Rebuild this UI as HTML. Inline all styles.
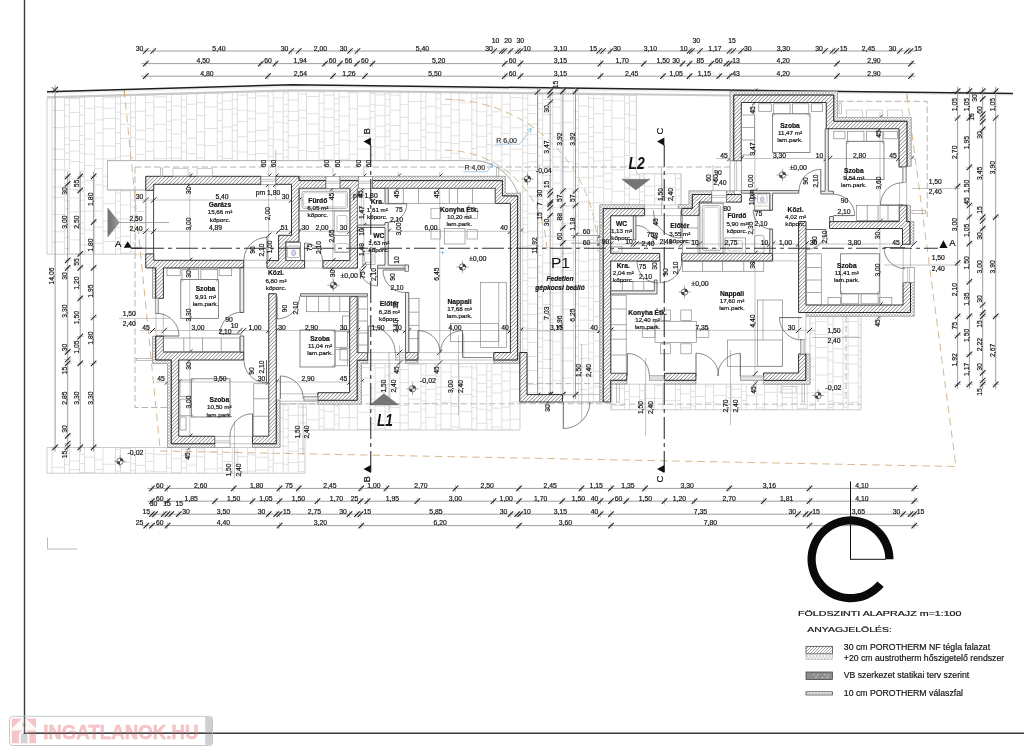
<!DOCTYPE html>
<html><head><meta charset="utf-8"><title>Földszinti alaprajz</title>
<style>html,body{margin:0;padding:0;background:#fff;}body{width:1024px;height:756px;overflow:hidden;}svg{display:block;font-family:"Liberation Sans",sans-serif;will-change:transform;opacity:0.999;}</style></head><body>
<svg width="1024" height="756" viewBox="0 0 1024 756">
<rect width="1024" height="756" fill="#fff"/>
<defs><clipPath id="pv"><path d="M292.5 90.95 L47 97.95 L47 160.6 L47 254.2 L107.5 254.2 L145.75 254.2 L145.75 190 L107.5 190 L107.5 160.6 L472.5 160.6 L476.82 160.8 L481.1 161.38 L485.31 162.36 L489.41 163.71 L493.38 165.43 L497.17 167.51 L500.75 169.92 L504.11 172.64 L507.2 175.66 L510 178.95 L512.5 182.48 L514.66 186.22 L516.47 190.14 L517.92 194.21 L520.4 194 L520.4 352.5 L527 352.5 L527 394.6 L562.4 394.6 L562.4 402 L600 402 L600 205 L681.25 205 L681.25 173.75 L636.25 173.75 L636.25 160.6 L636.25 95.12 Z M861 316.25 L810 316.25 L810 384.2 L611 384.2 L611 409.8 L861 409.8 L861 384.2 Z M305 404 L280 404 L280 430 L280 447.5 L47 447.5 L47 473.25 L305 473.25 L305 447.5 L305 430 L361.25 430 L520 430 L520 363.6 L361.25 363.6 L361.25 404 Z"/></clipPath>
<clipPath id="hc"><path d="M261 176.3 L153.75 176.3 L145.75 176.3 L145.75 184.3 L145.75 190.3 L153.75 190.3 L153.75 184.3 L261 184.3 Z M326 188.3 L326 180.6 L299 180.6 L299 176.3 L275.75 176.3 L275.75 184.3 L291.5 184.3 L291.5 235.3 L285.8 235.3 L278.6 235.3 L278.6 242 L278.6 260.6 L267 260.6 L267 268.1 L304.6 268.1 L304.6 260.6 L285.8 260.6 L285.8 242 L291.5 242 L299 242 L299 235.3 L299 188.3 Z M155.7 298.3 L158.6 298.3 L163.4 298.3 L163.4 267.9 L243.75 267.9 L243.75 260.3 L153.75 260.3 L153.75 253.9 L145.75 253.9 L145.75 260.3 L145.75 267.9 L153.75 267.9 L155.7 267.9 Z M155.7 352 L155.7 360 L163.4 360 L171.25 360 L171.25 436.25 L171.25 443.75 L178.75 443.75 L215 443.75 L215 436.25 L178.75 436.25 L178.75 360 L243.75 360 L243.75 352 L163.4 352 L163.4 336.2 L155.7 336.2 Z M268.75 436.25 L252.5 436.25 L252.5 443.75 L268.75 443.75 L276.25 443.75 L276.25 436.25 L276.25 293.75 L268.75 293.75 Z M317.8 400.3 L349.6 400.3 L357.2 400.3 L357.2 392.7 L357.2 360.2 L367.7 360.2 L367.7 352.6 L357.2 352.6 L357.2 296.25 L349.6 296.25 L349.6 392.7 L317.8 392.7 L317.8 396.5 Z M349.9 188.3 L349.9 260.6 L322.9 260.6 L322.9 268.1 L349.9 268.1 L357.4 268.1 L357.4 260.6 L357.4 188.3 L358.4 188.3 L358.4 180.6 L339.8 180.6 L339.8 188.3 Z M517.6 195.9 L510.4 195.9 L502.4 195.9 L502.4 188.3 L502.4 180.6 L372.3 180.6 L372.3 188.3 L495.3 188.3 L495.3 195.9 L495.3 203.4 L502.4 203.4 L510.4 203.4 L510.4 352.5 L493.75 352.5 L493.75 360 L510.4 360 L517.6 360 L517.6 352.5 L517.6 203.4 Z M644.6 208.6 L610.7 208.6 L603.2 208.6 L603.2 215.75 L603.2 402 L610.7 402 L610.7 380.3 L626.8 380.3 L626.8 373.3 L610.7 373.3 L610.7 261 L659.7 261 L659.7 253.4 L610.7 253.4 L610.7 215.75 L644.6 215.75 Z M418 360 L418 352.5 L405.5 352.5 L405.5 360 Z M664.5 375.8 L664.5 380.2 L664.5 380.3 L695.9 380.3 L695.9 373.3 L664.5 373.3 Z M519.8 394.6 L519.8 402 L527 402 L562.4 402 L562.4 394.6 L527 394.6 L527 352.5 L519.8 352.5 Z M907 121.25 L899 121.25 L833.75 121.25 L833.75 102.5 L833.75 95 L826.25 95 L741.3 95 L733.75 95 L733.75 102.5 L733.75 161 L741.3 161 L741.3 102.5 L826.25 102.5 L826.25 121.25 L826.25 128.75 L833.75 128.75 L899 128.75 L899 167 L902.6 167 L906.6 167 L907 167 L907 128.75 Z M692.3 202.1 L692.3 208.4 L681.7 208.4 L681.7 215.5 L692.3 215.5 L699.2 215.5 L699.2 208.4 L699.2 202.1 L711.8 202.1 L711.8 194.5 L699.2 194.5 L692.3 194.5 Z M741.3 202.1 L741.3 194.5 L726.3 194.5 L726.3 202.1 Z M902.5 228.5 L902.5 244.2 L910 244.2 L910 228.5 L910 221.6 L906.8 221.6 L906.8 205.2 L899.3 205.2 L899.3 221.6 L829.6 221.6 L829.6 228.5 L899.3 228.5 Z M772.6 261 L772.6 253.4 L681.7 253.4 L681.7 261 Z M910.5 282.5 L903 282.5 L903 305 L806 305 L806 221.6 L798.6 221.6 L798.6 305 L798.6 312.5 L806 312.5 L903 312.5 L910.5 312.5 L910.5 305 Z M800.6 354 L798.6 354 L798.6 373 L763.6 373 L763.6 376 L763.6 380.4 L798.6 380.4 L805.8 380.4 L805.8 373 L805.8 354 L805 354 Z"/></clipPath>
<clipPath id="ic"><path d="M519.8 363.2 L519.8 352.5 L520.5 352.5 L520.5 195.9 L520.5 193.3 L517.6 193.3 L505.3 193.3 L505.3 180.6 L505.3 176.3 L502.4 176.3 L372.3 176.3 L372.3 180.6 L502.4 180.6 L502.4 188.3 L502.4 193.3 L502.4 195.9 L505.3 195.9 L510.4 195.9 L517.6 195.9 L517.6 203.4 L517.6 352.5 L517.6 360 L510.4 360 L493.75 360 L493.75 363.2 L517.6 363.2 Z M358.4 180.6 L358.4 176.3 L339.8 176.3 L339.8 180.6 Z M326 176.3 L299 176.3 L299 180.6 L326 180.6 Z M153.75 267.9 L152.5 267.9 L152.5 298.3 L155.2 298.3 L155.7 298.3 L155.7 267.9 Z M603.2 215.75 L603.2 208.6 L610.7 208.6 L644.6 208.6 L644.6 204.8 L603.2 204.8 L599.8 204.8 L599.8 208.6 L599.8 402 L603.2 402 Z M171.25 360 L167.5 360 L163.4 360 L155.7 360 L155.7 352 L155.7 336.2 L152.5 336.2 L152.5 360 L152.5 363.5 L155.7 363.5 L167.5 363.5 L167.5 443.75 L167.5 447.5 L171.25 447.5 L215 447.5 L215 443.75 L178.75 443.75 L171.25 443.75 L171.25 436.25 L171.25 363.5 Z M418 363.2 L418 360 L405.5 360 L405.5 363.2 Z M317.8 401 L317.8 404.1 L357.2 404.1 L361.4 404.1 L361.4 400.3 L361.4 363.3 L367.7 363.3 L367.7 360.2 L361.4 360.2 L357.2 360.2 L357.2 363.3 L357.2 392.7 L357.2 400.3 L349.6 400.3 L317.8 400.3 Z M280 400 L276.25 400 L276.25 436.25 L276.25 443.75 L268.75 443.75 L252.5 443.75 L252.5 447.5 L276.25 447.5 L280 447.5 L280 443.75 Z M907 128.75 L907 166.25 L911.25 166.25 L911.25 121.25 L911.25 117.5 L907 117.5 L837.5 117.5 L837.5 95 L837.5 91.25 L833.75 91.25 L733.75 91.25 L730 91.25 L730 95 L730 161 L733.75 161 L733.75 102.5 L733.75 95 L741.3 95 L826.25 95 L833.75 95 L833.75 102.5 L833.75 117.5 L833.75 121.25 L837.5 121.25 L899 121.25 L907 121.25 Z M678.2 204.6 L678.2 208.4 L681.7 208.4 L688.9 208.4 L692.3 208.4 L692.3 204.6 L692.3 202.1 L692.3 194.5 L699.2 194.5 L711.8 194.5 L711.8 190.8 L692.3 190.8 L688.9 190.8 L688.9 194.5 L688.9 204.6 Z M734.4 190.8 L730 190.8 L726.3 190.8 L726.3 194.5 L734.4 194.5 Z M906.8 221.6 L910 221.6 L910 228.5 L910 244.2 L913.8 244.2 L913.8 221.6 L910.5 221.6 L910.5 205.2 L906.8 205.2 Z M903 312.5 L806 312.5 L806 316.25 L910.5 316.25 L914.25 316.25 L914.25 312.5 L914.25 282.5 L910.5 282.5 L910.5 305 L910.5 312.5 Z M805.8 354 L805.8 373 L805.8 380.4 L798.6 380.4 L763.6 380.4 L763.6 384.2 L805.8 384.2 L810 384.2 L810 380.4 L810 354 Z M695.9 384.1 L695.9 380.3 L664.5 380.3 L664.5 384.1 Z M626.8 380.3 L610.7 380.3 L610.7 384.1 L626.8 384.1 Z"/></clipPath>
<linearGradient id="gg" x1="0" x2="1" y1="0" y2="0"><stop offset="0" stop-color="#6e6e6e"/><stop offset="1" stop-color="#9c9c9c"/></linearGradient>
<pattern id="lh" width="3" height="3" patternUnits="userSpaceOnUse"><path d="M-1 4L4 -1M-1 1L1 -1M2 4L4 2" stroke="#444" stroke-width="0.5"/></pattern>
<pattern id="lx" width="3.3" height="5.4" patternUnits="userSpaceOnUse"><path d="M0 0L3.3 5.4M3.3 0L0 5.4" stroke="#999" stroke-width="0.45"/></pattern></defs>
<g id="paving">
<g clip-path="url(#pv)"><path d="M52 97.45V473.25M64.6 97.31V473.25M69.6 97.02V473.25M79.6 96.88V473.25M84.6 96.59V473.25M94.7 96.36V473.25M102.9 96V473.25M115.5 95.85V473.25M120.5 95.57V473.25M130.5 95.43V473.25M135.5 95.14V473.25M145.6 94.9V473.25M153.8 94.55V473.25M166.4 94.4V473.25M171.4 94.12V473.25M181.4 93.98V473.25M186.4 93.69V473.25M196.5 93.45V473.25M204.7 93.09V473.25M217.3 92.95V473.25M222.3 92.67V473.25M232.3 92.52V473.25M237.3 92.24V473.25M247.4 92V473.25M255.6 91.64V473.25M268.2 91.5V473.25M273.2 91.22V473.25M283.2 91.07V473.25M288.2 90.95V473.25M298.3 91.02V473.25M306.5 91.12V430M319.1 91.27V430M324.1 91.33V430M334.1 91.46V430M339.1 91.52V430M349.2 91.64V430M357.4 91.74V430M370 91.89V430M375 91.95V430M385 92.07V430M390 92.13V430M400.1 92.26V430M408.3 92.36V430M420.9 92.51V430M425.9 92.57V430M435.9 92.69V430M440.9 92.75V430M451 92.87V430M459.2 92.97V430M471.8 93.13V430M476.8 93.19V430M486.8 93.31V430M491.8 93.37V430M501.9 93.49V430M510.1 93.59V430M522.7 93.75V394.6M527.7 93.81V394.6M537.7 93.93V394.6M542.7 93.99V394.6M552.8 94.11V394.6M561 94.21V402M573.6 94.36V402M578.6 94.42V402M588.6 94.55V402M593.6 94.61V402M603.7 94.73V409.8M611.9 94.83V409.8M624.5 94.98V409.8M629.5 95.04V409.8M639.5 173.75V409.8M644.5 173.75V409.8M654.6 173.75V409.8M662.8 173.75V409.8M675.4 173.75V409.8M680.4 173.75V409.8M690.4 384.2V409.8M695.4 384.2V409.8M705.5 384.2V409.8M713.7 384.2V409.8M726.3 384.2V409.8M731.3 384.2V409.8M741.3 384.2V409.8M746.3 384.2V409.8M756.4 384.2V409.8M764.6 384.2V409.8M777.2 384.2V409.8M782.2 384.2V409.8M792.2 384.2V409.8M797.2 384.2V409.8M807.3 316.25V409.8M815.5 316.25V409.8M828.1 316.25V409.8M833.1 316.25V409.8M843.1 316.25V409.8M848.1 316.25V409.8M858.2 316.25V409.8" stroke="#dadada" stroke-width="0.9" fill="none"/><path d="M52 97.57h12.6M52 110.47h12.6M52 127.67h12.6M52 149.17h12.6M52 159.49h12.6M52 169.81h12.6M52 187.01h12.6M52 197.33h12.6M52 214.53h12.6M52 231.73h12.6M52 242.05h12.6M52 259.25h12.6M52 272.15h12.6M52 282.47h12.6M52 292.79h12.6M52 309.99h12.6M52 327.19h12.6M52 337.51h12.6M52 350.41h12.6M52 360.73h12.6M52 377.93h12.6M52 395.13h12.6M52 405.45h12.6M52 422.65h12.6M52 432.97h12.6M52 445.87h12.6M52 467.37h12.6M64.6 98.41h5M64.6 105.01h5M64.6 116.01h5M64.6 127.01h5M64.6 138.01h5M64.6 144.61h5M64.6 152.86h5M64.6 159.46h5M64.6 170.46h5M64.6 178.71h5M64.6 189.71h5M64.6 200.71h5M64.6 208.96h5M64.6 219.96h5M64.6 226.56h5M64.6 237.56h5M64.6 248.56h5M64.6 259.56h5M64.6 273.31h5M64.6 281.56h5M64.6 288.16h5M64.6 299.16h5M64.6 310.16h5M64.6 323.91h5M64.6 332.16h5M64.6 343.16h5M64.6 349.76h5M64.6 360.76h5M64.6 374.51h5M64.6 381.11h5M64.6 392.11h5M64.6 398.71h5M64.6 409.71h5M64.6 417.96h5M64.6 428.96h5M64.6 442.71h5M64.6 453.71h5M64.6 464.71h5M69.6 98.52h10M69.6 112.52h10M69.6 126.52h10M69.6 140.52h10M69.6 151.02h10M69.6 161.52h10M69.6 179.02h10M69.6 189.52h10M69.6 197.92h10M69.6 211.92h10M69.6 225.92h10M69.6 239.92h10M69.6 253.92h10M69.6 267.92h10M69.6 285.42h10M69.6 299.42h10M69.6 313.42h10M69.6 327.42h10M69.6 335.82h10M69.6 344.22h10M69.6 358.22h10M69.6 372.22h10M69.6 382.72h10M69.6 396.72h10M69.6 407.22h10M69.6 421.22h10M69.6 435.22h10M69.6 443.62h10M69.6 461.12h10M69.6 469.52h10M79.6 97.16h5M79.6 106.16h5M79.6 115.16h5M79.6 126.41h5M79.6 135.41h5M79.6 144.41h5M79.6 153.41h5M79.6 162.41h5M79.6 171.41h5M79.6 176.81h5M79.6 182.21h5M79.6 191.21h5M79.6 200.21h5M79.6 211.46h5M79.6 222.71h5M79.6 228.11h5M79.6 233.51h5M79.6 244.76h5M79.6 256.01h5M79.6 265.01h5M79.6 276.26h5M79.6 285.26h5M79.6 296.51h5M79.6 305.51h5M79.6 314.51h5M79.6 325.76h5M79.6 334.76h5M79.6 346.01h5M79.6 355.01h5M79.6 360.41h5M79.6 369.41h5M79.6 378.41h5M79.6 385.16h5M79.6 394.16h5M79.6 399.56h5M79.6 408.56h5M79.6 413.96h5M79.6 420.71h5M79.6 429.71h5M79.6 436.46h5M79.6 447.71h5M79.6 454.46h5M79.6 463.46h5M79.6 472.46h5M84.6 108.42h10.1M84.6 123.62h10.1M84.6 138.82h10.1M84.6 154.02h10.1M84.6 165.42h10.1M84.6 180.62h10.1M84.6 195.82h10.1M84.6 211.02h10.1M84.6 230.02h10.1M84.6 245.22h10.1M84.6 260.42h10.1M84.6 279.42h10.1M84.6 294.62h10.1M84.6 306.02h10.1M84.6 317.42h10.1M84.6 326.54h10.1M84.6 337.94h10.1M84.6 349.34h10.1M84.6 360.74h10.1M84.6 379.74h10.1M84.6 391.14h10.1M84.6 400.26h10.1M84.6 415.46h10.1M84.6 430.66h10.1M84.6 442.06h10.1M84.6 457.26h10.1M84.6 472.46h10.1M94.7 106.89h8.2M94.7 119.89h8.2M94.7 132.89h8.2M94.7 145.89h8.2M94.7 158.89h8.2M94.7 168.64h8.2M94.7 184.89h8.2M94.7 197.89h8.2M94.7 210.89h8.2M94.7 227.14h8.2M94.7 243.39h8.2M94.7 259.64h8.2M94.7 267.44h8.2M94.7 280.44h8.2M94.7 296.69h8.2M94.7 309.69h8.2M94.7 322.69h8.2M94.7 335.69h8.2M94.7 348.69h8.2M94.7 361.69h8.2M94.7 369.49h8.2M94.7 382.49h8.2M94.7 398.74h8.2M94.7 411.74h8.2M94.7 419.54h8.2M94.7 429.29h8.2M94.7 437.09h8.2M94.7 446.84h8.2M94.7 459.84h8.2M94.7 469.59h8.2M102.9 97.85h12.6M102.9 108.17h12.6M102.9 118.49h12.6M102.9 128.81h12.6M102.9 146.01h12.6M102.9 158.91h12.6M102.9 176.11h12.6M102.9 186.43h12.6M102.9 203.63h12.6M102.9 220.83h12.6M102.9 231.15h12.6M102.9 241.47h12.6M102.9 254.37h12.6M102.9 271.57h12.6M102.9 288.77h12.6M102.9 301.67h12.6M102.9 323.17h12.6M102.9 340.37h12.6M102.9 357.57h12.6M102.9 374.77h12.6M102.9 391.97h12.6M102.9 409.17h12.6M102.9 419.49h12.6M102.9 429.81h12.6M102.9 447.01h12.6M102.9 464.21h12.6M115.5 97.32h5M115.5 103.92h5M115.5 112.17h5M115.5 118.77h5M115.5 132.52h5M115.5 143.52h5M115.5 157.27h5M115.5 168.27h5M115.5 179.27h5M115.5 193.02h5M115.5 201.27h5M115.5 212.27h5M115.5 218.87h5M115.5 227.12h5M115.5 238.12h5M115.5 249.12h5M115.5 257.37h5M115.5 271.12h5M115.5 282.12h5M115.5 288.72h5M115.5 299.72h5M115.5 310.72h5M115.5 324.47h5M115.5 331.07h5M115.5 344.82h5M115.5 355.82h5M115.5 366.82h5M115.5 377.82h5M115.5 386.07h5M115.5 397.07h5M115.5 405.32h5M115.5 416.32h5M115.5 427.32h5M115.5 438.32h5M115.5 449.32h5M115.5 463.07h5M115.5 471.32h5M120.5 103.36h10M120.5 113.86h10M120.5 124.36h10M120.5 138.36h10M120.5 155.86h10M120.5 166.36h10M120.5 176.86h10M120.5 190.86h10M120.5 204.86h10M120.5 218.86h10M120.5 236.36h10M120.5 244.76h10M120.5 253.16h10M120.5 267.16h10M120.5 281.16h10M120.5 295.16h10M120.5 305.66h10M120.5 323.16h10M120.5 337.16h10M120.5 351.16h10M120.5 365.16h10M120.5 382.66h10M120.5 396.66h10M120.5 410.66h10M120.5 419.06h10M120.5 429.56h10M120.5 437.96h10M120.5 448.46h10M120.5 462.46h10M120.5 472.96h10M130.5 102.84h5M130.5 111.84h5M130.5 117.24h5M130.5 126.24h5M130.5 137.49h5M130.5 146.49h5M130.5 157.74h5M130.5 163.14h5M130.5 174.39h5M130.5 179.79h5M130.5 188.79h5M130.5 200.04h5M130.5 206.79h5M130.5 215.79h5M130.5 222.54h5M130.5 231.54h5M130.5 242.79h5M130.5 251.79h5M130.5 257.19h5M130.5 268.44h5M130.5 277.44h5M130.5 286.44h5M130.5 295.44h5M130.5 306.69h5M130.5 312.09h5M130.5 323.34h5M130.5 330.09h5M130.5 336.84h5M130.5 343.59h5M130.5 348.99h5M130.5 355.74h5M130.5 364.74h5M130.5 373.74h5M130.5 384.99h5M130.5 391.74h5M130.5 400.74h5M130.5 409.74h5M130.5 418.74h5M130.5 429.99h5M130.5 438.99h5M130.5 445.74h5M130.5 454.74h5M130.5 463.74h5M130.5 470.49h5M135.5 111.22h10.1M135.5 130.22h10.1M135.5 139.34h10.1M135.5 154.54h10.1M135.5 173.54h10.1M135.5 184.94h10.1M135.5 200.14h10.1M135.5 211.54h10.1M135.5 222.94h10.1M135.5 232.06h10.1M135.5 247.26h10.1M135.5 258.66h10.1M135.5 273.86h10.1M135.5 289.06h10.1M135.5 300.46h10.1M135.5 315.66h10.1M135.5 330.86h10.1M135.5 346.06h10.1M135.5 361.26h10.1M135.5 376.46h10.1M135.5 387.86h10.1M135.5 396.98h10.1M135.5 415.98h10.1M135.5 431.18h10.1M135.5 446.38h10.1M135.5 465.38h10.1M145.6 102.6h8.2M145.6 115.6h8.2M145.6 128.6h8.2M145.6 141.6h8.2M145.6 151.35h8.2M145.6 164.35h8.2M145.6 174.1h8.2M145.6 187.1h8.2M145.6 200.1h8.2M145.6 207.9h8.2M145.6 220.9h8.2M145.6 230.65h8.2M145.6 243.65h8.2M145.6 251.45h8.2M145.6 261.2h8.2M145.6 270.95h8.2M145.6 280.7h8.2M145.6 293.7h8.2M145.6 306.7h8.2M145.6 322.95h8.2M145.6 330.75h8.2M145.6 343.75h8.2M145.6 351.55h8.2M145.6 364.55h8.2M145.6 380.8h8.2M145.6 393.8h8.2M145.6 406.8h8.2M145.6 419.8h8.2M145.6 432.8h8.2M145.6 440.6h8.2M145.6 453.6h8.2M145.6 461.4h8.2M145.6 471.15h8.2M153.8 96.76h12.6M153.8 107.08h12.6M153.8 124.28h12.6M153.8 141.48h12.6M153.8 158.68h12.6M153.8 169h12.6M153.8 179.32h12.6M153.8 196.52h12.6M153.8 213.72h12.6M153.8 230.92h12.6M153.8 248.12h12.6M153.8 265.32h12.6M153.8 282.52h12.6M153.8 295.42h12.6M153.8 316.92h12.6M153.8 334.12h12.6M153.8 351.32h12.6M153.8 368.52h12.6M153.8 385.72h12.6M153.8 402.92h12.6M153.8 420.12h12.6M153.8 433.02h12.6M153.8 454.52h12.6M153.8 471.72h12.6M166.4 102.15h5M166.4 110.4h5M166.4 121.4h5M166.4 129.65h5M166.4 140.65h5M166.4 147.25h5M166.4 158.25h5M166.4 169.25h5M166.4 180.25h5M166.4 186.85h5M166.4 200.6h5M166.4 208.85h5M166.4 219.85h5M166.4 226.45h5M166.4 234.7h5M166.4 248.45h5M166.4 259.45h5M166.4 266.05h5M166.4 274.3h5M166.4 288.05h5M166.4 301.8h5M166.4 315.55h5M166.4 326.55h5M166.4 334.8h5M166.4 345.8h5M166.4 354.05h5M166.4 365.05h5M166.4 373.3h5M166.4 387.05h5M166.4 393.65h5M166.4 404.65h5M166.4 415.65h5M166.4 423.9h5M166.4 437.65h5M166.4 445.9h5M166.4 454.15h5M166.4 467.9h5M171.4 105.92h10M171.4 119.92h10M171.4 133.92h10M171.4 147.92h10M171.4 158.42h10M171.4 172.42h10M171.4 186.42h10M171.4 194.82h10M171.4 212.32h10M171.4 226.32h10M171.4 234.72h10M171.4 248.72h10M171.4 262.72h10M171.4 276.72h10M171.4 290.72h10M171.4 308.22h10M171.4 316.62h10M171.4 330.62h10M171.4 344.62h10M171.4 358.62h10M171.4 372.62h10M171.4 386.62h10M171.4 400.62h10M171.4 409.02h10M171.4 417.42h10M171.4 427.92h10M171.4 436.32h10M171.4 444.72h10M171.4 458.72h10M171.4 472.72h10M181.4 100.15h5M181.4 106.9h5M181.4 115.9h5M181.4 122.65h5M181.4 131.65h5M181.4 142.9h5M181.4 151.9h5M181.4 160.9h5M181.4 167.65h5M181.4 176.65h5M181.4 185.65h5M181.4 194.65h5M181.4 203.65h5M181.4 214.9h5M181.4 223.9h5M181.4 229.3h5M181.4 238.3h5M181.4 243.7h5M181.4 254.95h5M181.4 261.7h5M181.4 270.7h5M181.4 276.1h5M181.4 285.1h5M181.4 290.5h5M181.4 301.75h5M181.4 307.15h5M181.4 316.15h5M181.4 321.55h5M181.4 330.55h5M181.4 337.3h5M181.4 342.7h5M181.4 351.7h5M181.4 357.1h5M181.4 366.1h5M181.4 371.5h5M181.4 380.5h5M181.4 389.5h5M181.4 398.5h5M181.4 407.5h5M181.4 416.5h5M181.4 423.25h5M181.4 428.65h5M181.4 437.65h5M181.4 448.9h5M181.4 455.65h5M181.4 461.05h5M181.4 467.8h5M186.4 104.17h10.1M186.4 119.37h10.1M186.4 138.37h10.1M186.4 153.57h10.1M186.4 168.77h10.1M186.4 180.17h10.1M186.4 195.37h10.1M186.4 210.57h10.1M186.4 225.77h10.1M186.4 244.77h10.1M186.4 256.17h10.1M186.4 271.37h10.1M186.4 286.57h10.1M186.4 295.69h10.1M186.4 310.89h10.1M186.4 320.01h10.1M186.4 329.13h10.1M186.4 338.25h10.1M186.4 357.25h10.1M186.4 372.45h10.1M186.4 387.65h10.1M186.4 399.05h10.1M186.4 414.25h10.1M186.4 429.45h10.1M186.4 440.85h10.1M186.4 456.05h10.1M186.4 465.17h10.1M196.5 102.65h8.2M196.5 115.65h8.2M196.5 131.9h8.2M196.5 144.9h8.2M196.5 157.9h8.2M196.5 170.9h8.2M196.5 183.9h8.2M196.5 196.9h8.2M196.5 213.15h8.2M196.5 222.9h8.2M196.5 232.65h8.2M196.5 245.65h8.2M196.5 255.4h8.2M196.5 271.65h8.2M196.5 287.9h8.2M196.5 304.15h8.2M196.5 313.9h8.2M196.5 326.9h8.2M196.5 339.9h8.2M196.5 347.7h8.2M196.5 357.45h8.2M196.5 365.25h8.2M196.5 373.05h8.2M196.5 389.3h8.2M196.5 405.55h8.2M196.5 418.55h8.2M196.5 431.55h8.2M196.5 441.3h8.2M196.5 449.1h8.2M196.5 456.9h8.2M196.5 473.15h8.2M204.7 106.97h12.6M204.7 128.47h12.6M204.7 145.67h12.6M204.7 162.87h12.6M204.7 175.77h12.6M204.7 197.27h12.6M204.7 214.47h12.6M204.7 224.79h12.6M204.7 241.99h12.6M204.7 254.89h12.6M204.7 267.79h12.6M204.7 284.99h12.6M204.7 302.19h12.6M204.7 312.51h12.6M204.7 329.71h12.6M204.7 346.91h12.6M204.7 364.11h12.6M204.7 381.31h12.6M204.7 398.51h12.6M204.7 411.41h12.6M204.7 421.73h12.6M204.7 438.93h12.6M204.7 451.83h12.6M204.7 469.03h12.6M217.3 103.01h5M217.3 109.61h5M217.3 120.61h5M217.3 131.61h5M217.3 142.61h5M217.3 156.36h5M217.3 164.61h5M217.3 172.86h5M217.3 183.86h5M217.3 190.46h5M217.3 197.06h5M217.3 208.06h5M217.3 214.66h5M217.3 222.91h5M217.3 233.91h5M217.3 244.91h5M217.3 251.51h5M217.3 262.51h5M217.3 269.11h5M217.3 280.11h5M217.3 291.11h5M217.3 304.86h5M217.3 313.11h5M217.3 319.71h5M217.3 330.71h5M217.3 341.71h5M217.3 349.96h5M217.3 363.71h5M217.3 377.46h5M217.3 388.46h5M217.3 399.46h5M217.3 410.46h5M217.3 424.21h5M217.3 435.21h5M217.3 443.46h5M217.3 454.46h5M217.3 468.21h5M222.3 101.01h10M222.3 109.41h10M222.3 126.91h10M222.3 140.91h10M222.3 158.41h10M222.3 172.41h10M222.3 189.91h10M222.3 207.41h10M222.3 221.41h10M222.3 231.91h10M222.3 245.91h10M222.3 259.91h10M222.3 273.91h10M222.3 282.31h10M222.3 299.81h10M222.3 313.81h10M222.3 331.31h10M222.3 348.81h10M222.3 366.31h10M222.3 383.81h10M222.3 394.31h10M222.3 402.71h10M222.3 411.11h10M222.3 419.51h10M222.3 430.01h10M222.3 447.51h10M222.3 461.51h10M222.3 469.91h10M232.3 99.52h5M232.3 108.52h5M232.3 113.92h5M232.3 125.17h5M232.3 130.57h5M232.3 141.82h5M232.3 150.82h5M232.3 162.07h5M232.3 168.82h5M232.3 177.82h5M232.3 186.82h5M232.3 192.22h5M232.3 201.22h5M232.3 206.62h5M232.3 217.87h5M232.3 226.87h5M232.3 235.87h5M232.3 241.27h5M232.3 252.52h5M232.3 261.52h5M232.3 266.92h5M232.3 278.17h5M232.3 289.42h5M232.3 298.42h5M232.3 307.42h5M232.3 312.82h5M232.3 321.82h5M232.3 328.57h5M232.3 339.82h5M232.3 346.57h5M232.3 353.32h5M232.3 364.57h5M232.3 375.82h5M232.3 384.82h5M232.3 393.82h5M232.3 402.82h5M232.3 408.22h5M232.3 417.22h5M232.3 428.47h5M232.3 437.47h5M232.3 442.87h5M232.3 451.87h5M232.3 463.12h5M237.3 95.01h10.1M237.3 110.21h10.1M237.3 121.61h10.1M237.3 136.81h10.1M237.3 152.01h10.1M237.3 171.01h10.1M237.3 190.01h10.1M237.3 209.01h10.1M237.3 224.21h10.1M237.3 239.41h10.1M237.3 254.61h10.1M237.3 266.01h10.1M237.3 275.13h10.1M237.3 290.33h10.1M237.3 299.45h10.1M237.3 314.65h10.1M237.3 329.85h10.1M237.3 348.85h10.1M237.3 357.97h10.1M237.3 376.97h10.1M237.3 388.37h10.1M237.3 407.37h10.1M237.3 422.57h10.1M237.3 437.77h10.1M237.3 456.77h10.1M237.3 471.97h10.1M247.4 98.04h8.2M247.4 111.04h8.2M247.4 118.84h8.2M247.4 131.84h8.2M247.4 141.59h8.2M247.4 154.59h8.2M247.4 162.39h8.2M247.4 175.39h8.2M247.4 183.19h8.2M247.4 196.19h8.2M247.4 209.19h8.2M247.4 216.99h8.2M247.4 229.99h8.2M247.4 242.99h8.2M247.4 255.99h8.2M247.4 268.99h8.2M247.4 278.74h8.2M247.4 288.49h8.2M247.4 296.29h8.2M247.4 309.29h8.2M247.4 317.09h8.2M247.4 326.84h8.2M247.4 343.09h8.2M247.4 356.09h8.2M247.4 369.09h8.2M247.4 382.09h8.2M247.4 391.84h8.2M247.4 404.84h8.2M247.4 421.09h8.2M247.4 434.09h8.2M247.4 447.09h8.2M247.4 454.89h8.2M247.4 471.14h8.2M255.6 95.98h12.6M255.6 113.18h12.6M255.6 130.38h12.6M255.6 140.7h12.6M255.6 153.6h12.6M255.6 163.92h12.6M255.6 181.12h12.6M255.6 202.62h12.6M255.6 219.82h12.6M255.6 237.02h12.6M255.6 254.22h12.6M255.6 275.72h12.6M255.6 288.62h12.6M255.6 305.82h12.6M255.6 323.02h12.6M255.6 340.22h12.6M255.6 357.42h12.6M255.6 367.74h12.6M255.6 384.94h12.6M255.6 395.26h12.6M255.6 412.46h12.6M255.6 429.66h12.6M255.6 446.86h12.6M255.6 457.18h12.6M255.6 470.08h12.6M268.2 92.13h5M268.2 105.88h5M268.2 116.88h5M268.2 127.88h5M268.2 138.88h5M268.2 145.48h5M268.2 156.48h5M268.2 167.48h5M268.2 178.48h5M268.2 185.08h5M268.2 196.08h5M268.2 207.08h5M268.2 218.08h5M268.2 224.68h5M268.2 235.68h5M268.2 242.28h5M268.2 248.88h5M268.2 262.63h5M268.2 273.63h5M268.2 287.38h5M268.2 295.63h5M268.2 303.88h5M268.2 314.88h5M268.2 325.88h5M268.2 336.88h5M268.2 347.88h5M268.2 356.13h5M268.2 367.13h5M268.2 378.13h5M268.2 384.73h5M268.2 398.48h5M268.2 409.48h5M268.2 420.48h5M268.2 431.48h5M268.2 439.73h5M268.2 453.48h5M268.2 460.08h5M268.2 466.68h5M273.2 97.75h10M273.2 111.75h10M273.2 122.25h10M273.2 139.75h10M273.2 153.75h10M273.2 167.75h10M273.2 176.15h10M273.2 190.15h10M273.2 200.65h10M273.2 211.15h10M273.2 225.15h10M273.2 239.15h10M273.2 253.15h10M273.2 267.15h10M273.2 281.15h10M273.2 295.15h10M273.2 312.65h10M273.2 330.15h10M273.2 347.65h10M273.2 361.65h10M273.2 375.65h10M273.2 393.15h10M273.2 403.65h10M273.2 417.65h10M273.2 431.65h10M273.2 445.65h10M273.2 463.15h10M283.2 93.08h5M283.2 104.33h5M283.2 111.08h5M283.2 116.48h5M283.2 123.23h5M283.2 132.23h5M283.2 141.23h5M283.2 150.23h5M283.2 156.98h5M283.2 165.98h5M283.2 174.98h5M283.2 183.98h5M283.2 192.98h5M283.2 199.73h5M283.2 208.73h5M283.2 215.48h5M283.2 222.23h5M283.2 227.63h5M283.2 234.38h5M283.2 243.38h5M283.2 252.38h5M283.2 257.78h5M283.2 266.78h5M283.2 273.53h5M283.2 282.53h5M283.2 291.53h5M283.2 300.53h5M283.2 307.28h5M283.2 312.68h5M283.2 323.93h5M283.2 332.93h5M283.2 341.93h5M283.2 350.93h5M283.2 362.18h5M283.2 371.18h5M283.2 377.93h5M283.2 386.93h5M283.2 395.93h5M283.2 404.93h5M283.2 410.33h5M283.2 419.33h5M283.2 428.33h5M283.2 437.33h5M283.2 446.33h5M283.2 453.08h5M283.2 464.33h5M288.2 100.04h10.1M288.2 111.44h10.1M288.2 120.56h10.1M288.2 135.76h10.1M288.2 147.16h10.1M288.2 162.36h10.1M288.2 177.56h10.1M288.2 196.56h10.1M288.2 211.76h10.1M288.2 226.96h10.1M288.2 242.16h10.1M288.2 251.28h10.1M288.2 262.68h10.1M288.2 271.8h10.1M288.2 287h10.1M288.2 306h10.1M288.2 321.2h10.1M288.2 336.4h10.1M288.2 351.6h10.1M288.2 360.72h10.1M288.2 369.84h10.1M288.2 385.04h10.1M288.2 400.24h10.1M288.2 415.44h10.1M288.2 430.64h10.1M288.2 442.04h10.1M288.2 451.16h10.1M288.2 462.56h10.1M298.3 93.98h8.2M298.3 110.23h8.2M298.3 118.03h8.2M298.3 134.28h8.2M298.3 150.53h8.2M298.3 166.78h8.2M298.3 179.78h8.2M298.3 187.58h8.2M298.3 200.58h8.2M298.3 208.38h8.2M298.3 216.18h8.2M298.3 225.93h8.2M298.3 235.68h8.2M298.3 248.68h8.2M298.3 256.48h8.2M298.3 272.73h8.2M298.3 288.98h8.2M298.3 301.98h8.2M298.3 311.73h8.2M298.3 327.98h8.2M298.3 340.98h8.2M298.3 353.98h8.2M298.3 370.23h8.2M298.3 383.23h8.2M298.3 399.48h8.2M298.3 407.28h8.2M298.3 415.08h8.2M298.3 422.88h8.2M298.3 435.88h8.2M298.3 448.88h8.2M298.3 461.88h8.2M298.3 471.63h8.2M306.5 96.49h12.6M306.5 113.69h12.6M306.5 124.01h12.6M306.5 134.33h12.6M306.5 151.53h12.6M306.5 168.73h12.6M306.5 185.93h12.6M306.5 203.13h12.6M306.5 220.33h12.6M306.5 241.83h12.6M306.5 254.73h12.6M306.5 271.93h12.6M306.5 289.13h12.6M306.5 302.03h12.6M306.5 319.23h12.6M306.5 332.13h12.6M306.5 342.45h12.6M306.5 359.65h12.6M306.5 381.15h12.6M306.5 402.65h12.6M306.5 419.85h12.6M319.1 92.24h5M319.1 103.24h5M319.1 116.99h5M319.1 130.74h5M319.1 141.74h5M319.1 148.34h5M319.1 159.34h5M319.1 167.59h5M319.1 181.34h5M319.1 192.34h5M319.1 203.34h5M319.1 211.59h5M319.1 222.59h5M319.1 229.19h5M319.1 242.94h5M319.1 253.94h5M319.1 267.69h5M319.1 278.69h5M319.1 289.69h5M319.1 303.44h5M319.1 314.44h5M319.1 322.69h5M319.1 329.29h5M319.1 340.29h5M319.1 354.04h5M319.1 365.04h5M319.1 371.64h5M319.1 379.89h5M319.1 390.89h5M319.1 399.14h5M319.1 410.14h5M319.1 418.39h5M319.1 426.64h5M324.1 95.1h10M324.1 109.1h10M324.1 117.5h10M324.1 131.5h10M324.1 145.5h10M324.1 159.5h10M324.1 170h10M324.1 180.5h10M324.1 194.5h10M324.1 208.5h10M324.1 226h10M324.1 234.4h10M324.1 248.4h10M324.1 258.9h10M324.1 272.9h10M324.1 281.3h10M324.1 291.8h10M324.1 300.2h10M324.1 314.2h10M324.1 324.7h10M324.1 338.7h10M324.1 347.1h10M324.1 364.6h10M324.1 373h10M324.1 383.5h10M324.1 397.5h10M324.1 411.5h10M324.1 429h10M334.1 98.59h5M334.1 103.99h5M334.1 110.74h5M334.1 119.74h5M334.1 126.49h5M334.1 133.24h5M334.1 144.49h5M334.1 153.49h5M334.1 164.74h5M334.1 173.74h5M334.1 179.14h5M334.1 188.14h5M334.1 199.39h5M334.1 210.64h5M334.1 219.64h5M334.1 228.64h5M334.1 237.64h5M334.1 246.64h5M334.1 253.39h5M334.1 258.79h5M334.1 264.19h5M334.1 269.59h5M334.1 278.59h5M334.1 283.99h5M334.1 292.99h5M334.1 301.99h5M334.1 307.39h5M334.1 316.39h5M334.1 323.14h5M334.1 332.14h5M334.1 341.14h5M334.1 350.14h5M334.1 359.14h5M334.1 364.54h5M334.1 369.94h5M334.1 381.19h5M334.1 390.19h5M334.1 396.94h5M334.1 405.94h5M334.1 414.94h5M334.1 423.94h5M339.1 96.91h10.1M339.1 115.91h10.1M339.1 131.11h10.1M339.1 140.23h10.1M339.1 159.23h10.1M339.1 174.43h10.1M339.1 185.83h10.1M339.1 204.83h10.1M339.1 220.03h10.1M339.1 229.15h10.1M339.1 244.35h10.1M339.1 253.47h10.1M339.1 268.67h10.1M339.1 277.79h10.1M339.1 286.91h10.1M339.1 302.11h10.1M339.1 313.51h10.1M339.1 332.51h10.1M339.1 341.63h10.1M339.1 356.83h10.1M339.1 372.03h10.1M339.1 387.23h10.1M339.1 402.43h10.1M339.1 417.63h10.1M349.2 92.57h8.2M349.2 108.82h8.2M349.2 125.07h8.2M349.2 141.32h8.2M349.2 154.32h8.2M349.2 167.32h8.2M349.2 180.32h8.2M349.2 188.12h8.2M349.2 204.37h8.2M349.2 217.37h8.2M349.2 233.62h8.2M349.2 241.42h8.2M349.2 249.22h8.2M349.2 258.97h8.2M349.2 266.77h8.2M349.2 279.77h8.2M349.2 296.02h8.2M349.2 309.02h8.2M349.2 322.02h8.2M349.2 335.02h8.2M349.2 348.02h8.2M349.2 361.02h8.2M349.2 370.77h8.2M349.2 383.77h8.2M349.2 393.52h8.2M349.2 401.32h8.2M349.2 417.57h8.2M357.4 106.15h12.6M357.4 119.05h12.6M357.4 136.25h12.6M357.4 149.15h12.6M357.4 166.35h12.6M357.4 183.55h12.6M357.4 200.75h12.6M357.4 217.95h12.6M357.4 235.15h12.6M357.4 245.47h12.6M357.4 262.67h12.6M357.4 275.57h12.6M357.4 292.77h12.6M357.4 305.67h12.6M357.4 318.57h12.6M357.4 335.77h12.6M357.4 346.09h12.6M357.4 367.59h12.6M357.4 377.91h12.6M357.4 395.11h12.6M357.4 412.31h12.6M357.4 429.51h12.6M370 93.77h5M370 104.77h5M370 111.37h5M370 117.97h5M370 128.97h5M370 139.97h5M370 146.57h5M370 154.82h5M370 161.42h5M370 172.42h5M370 183.42h5M370 197.17h5M370 208.17h5M370 216.42h5M370 224.67h5M370 232.92h5M370 243.92h5M370 254.92h5M370 265.92h5M370 279.67h5M370 287.92h5M370 301.67h5M370 312.67h5M370 326.42h5M370 333.02h5M370 344.02h5M370 355.02h5M370 366.02h5M370 377.02h5M370 388.02h5M370 399.02h5M370 410.02h5M370 423.77h5M375 94.79h10M375 105.29h10M375 115.79h10M375 126.29h10M375 136.79h10M375 147.29h10M375 161.29h10M375 175.29h10M375 185.79h10M375 199.79h10M375 208.19h10M375 222.19h10M375 236.19h10M375 246.69h10M375 260.69h10M375 274.69h10M375 285.19h10M375 302.69h10M375 311.09h10M375 328.59h10M375 342.59h10M375 350.99h10M375 359.39h10M375 367.79h10M375 381.79h10M375 392.29h10M375 406.29h10M375 420.29h10M375 428.69h10M385 94.1h5M385 99.5h5M385 106.25h5M385 115.25h5M385 124.25h5M385 131h5M385 136.4h5M385 145.4h5M385 154.4h5M385 161.15h5M385 170.15h5M385 179.15h5M385 188.15h5M385 199.4h5M385 204.8h5M385 210.2h5M385 221.45h5M385 230.45h5M385 241.7h5M385 250.7h5M385 259.7h5M385 266.45h5M385 271.85h5M385 280.85h5M385 289.85h5M385 296.6h5M385 302h5M385 308.75h5M385 317.75h5M385 323.15h5M385 332.15h5M385 343.4h5M385 354.65h5M385 361.4h5M385 366.8h5M385 375.8h5M385 384.8h5M385 396.05h5M385 405.05h5M385 411.8h5M385 420.8h5M385 429.8h5M390 95.09h10.1M390 110.29h10.1M390 125.49h10.1M390 140.69h10.1M390 149.81h10.1M390 165.01h10.1M390 174.13h10.1M390 189.33h10.1M390 208.33h10.1M390 223.53h10.1M390 234.93h10.1M390 253.93h10.1M390 269.13h10.1M390 278.25h10.1M390 297.25h10.1M390 308.65h10.1M390 323.85h10.1M390 342.85h10.1M390 358.05h10.1M390 373.25h10.1M390 388.45h10.1M390 407.45h10.1M390 422.65h10.1M400.1 104.39h8.2M400.1 117.39h8.2M400.1 133.64h8.2M400.1 146.64h8.2M400.1 159.64h8.2M400.1 172.64h8.2M400.1 185.64h8.2M400.1 193.44h8.2M400.1 206.44h8.2M400.1 222.69h8.2M400.1 232.44h8.2M400.1 245.44h8.2M400.1 261.69h8.2M400.1 274.69h8.2M400.1 284.44h8.2M400.1 292.24h8.2M400.1 305.24h8.2M400.1 314.99h8.2M400.1 327.99h8.2M400.1 335.79h8.2M400.1 343.59h8.2M400.1 356.59h8.2M400.1 369.59h8.2M400.1 382.59h8.2M400.1 395.59h8.2M400.1 405.34h8.2M400.1 415.09h8.2M400.1 422.89h8.2M408.3 101.49h12.6M408.3 122.99h12.6M408.3 140.19h12.6M408.3 150.51h12.6M408.3 167.71h12.6M408.3 184.91h12.6M408.3 202.11h12.6M408.3 223.61h12.6M408.3 240.81h12.6M408.3 253.71h12.6M408.3 266.61h12.6M408.3 283.81h12.6M408.3 301.01h12.6M408.3 313.91h12.6M408.3 331.11h12.6M408.3 344.01h12.6M408.3 354.33h12.6M408.3 364.65h12.6M408.3 381.85h12.6M408.3 399.05h12.6M408.3 411.95h12.6M408.3 429.15h12.6M420.9 101.21h5M420.9 107.81h5M420.9 118.81h5M420.9 129.81h5M420.9 136.41h5M420.9 147.41h5M420.9 161.16h5M420.9 172.16h5M420.9 178.76h5M420.9 192.51h5M420.9 203.51h5M420.9 217.26h5M420.9 225.51h5M420.9 239.26h5M420.9 247.51h5M420.9 258.51h5M420.9 269.51h5M420.9 280.51h5M420.9 288.76h5M420.9 299.76h5M420.9 308.01h5M420.9 319.01h5M420.9 327.26h5M420.9 333.86h5M420.9 344.86h5M420.9 355.86h5M420.9 364.11h5M420.9 375.11h5M420.9 386.11h5M420.9 392.71h5M420.9 400.96h5M420.9 409.21h5M420.9 422.96h5M425.9 92.58h10M425.9 106.58h10M425.9 124.08h10M425.9 132.48h10M425.9 149.98h10M425.9 163.98h10M425.9 172.38h10M425.9 186.38h10M425.9 200.38h10M425.9 214.38h10M425.9 228.38h10M425.9 245.88h10M425.9 259.88h10M425.9 277.38h10M425.9 291.38h10M425.9 305.38h10M425.9 319.38h10M425.9 329.88h10M425.9 343.88h10M425.9 357.88h10M425.9 375.38h10M425.9 389.38h10M425.9 403.38h10M425.9 417.38h10M435.9 93.61h5M435.9 99.01h5M435.9 108.01h5M435.9 117.01h5M435.9 126.01h5M435.9 132.76h5M435.9 141.76h5M435.9 150.76h5M435.9 159.76h5M435.9 166.51h5M435.9 175.51h5M435.9 184.51h5M435.9 189.91h5M435.9 195.31h5M435.9 202.06h5M435.9 211.06h5M435.9 220.06h5M435.9 229.06h5M435.9 234.46h5M435.9 243.46h5M435.9 252.46h5M435.9 261.46h5M435.9 272.71h5M435.9 278.11h5M435.9 283.51h5M435.9 294.76h5M435.9 301.51h5M435.9 306.91h5M435.9 318.16h5M435.9 327.16h5M435.9 338.41h5M435.9 347.41h5M435.9 352.81h5M435.9 358.21h5M435.9 367.21h5M435.9 376.21h5M435.9 387.46h5M435.9 394.21h5M435.9 399.61h5M435.9 405.01h5M435.9 414.01h5M435.9 425.26h5M440.9 104.39h10.1M440.9 115.79h10.1M440.9 127.19h10.1M440.9 142.39h10.1M440.9 157.59h10.1M440.9 168.99h10.1M440.9 187.99h10.1M440.9 206.99h10.1M440.9 218.39h10.1M440.9 227.51h10.1M440.9 242.71h10.1M440.9 257.91h10.1M440.9 273.11h10.1M440.9 284.51h10.1M440.9 299.71h10.1M440.9 314.91h10.1M440.9 330.11h10.1M440.9 345.31h10.1M440.9 356.71h10.1M440.9 371.91h10.1M440.9 387.11h10.1M440.9 402.31h10.1M440.9 413.71h10.1M440.9 428.91h10.1M451 100.01h8.2M451 109.76h8.2M451 122.76h8.2M451 135.76h8.2M451 143.56h8.2M451 153.31h8.2M451 163.06h8.2M451 176.06h8.2M451 185.81h8.2M451 202.06h8.2M451 215.06h8.2M451 231.31h8.2M451 244.31h8.2M451 257.31h8.2M451 267.06h8.2M451 280.06h8.2M451 287.86h8.2M451 300.86h8.2M451 308.66h8.2M451 324.91h8.2M451 337.91h8.2M451 350.91h8.2M451 363.91h8.2M451 376.91h8.2M451 389.91h8.2M451 406.16h8.2M451 413.96h8.2M451 426.96h8.2M459.2 102.83h12.6M459.2 120.03h12.6M459.2 141.53h12.6M459.2 158.73h12.6M459.2 175.93h12.6M459.2 193.13h12.6M459.2 210.33h12.6M459.2 227.53h12.6M459.2 240.43h12.6M459.2 257.63h12.6M459.2 274.83h12.6M459.2 285.15h12.6M459.2 302.35h12.6M459.2 315.25h12.6M459.2 328.15h12.6M459.2 345.35h12.6M459.2 366.85h12.6M459.2 377.17h12.6M459.2 394.37h12.6M459.2 411.57h12.6M459.2 428.77h12.6M471.8 99.03h5M471.8 110.03h5M471.8 123.78h5M471.8 134.78h5M471.8 148.53h5M471.8 155.13h5M471.8 168.88h5M471.8 175.48h5M471.8 183.73h5M471.8 191.98h5M471.8 202.98h5M471.8 213.98h5M471.8 227.73h5M471.8 238.73h5M471.8 249.73h5M471.8 260.73h5M471.8 271.73h5M471.8 278.33h5M471.8 286.58h5M471.8 297.58h5M471.8 305.83h5M471.8 316.83h5M471.8 330.58h5M471.8 337.18h5M471.8 343.78h5M471.8 350.38h5M471.8 356.98h5M471.8 367.98h5M471.8 378.98h5M471.8 389.98h5M471.8 396.58h5M471.8 407.58h5M471.8 418.58h5M471.8 429.58h5M476.8 97.79h10M476.8 111.79h10M476.8 125.79h10M476.8 136.29h10M476.8 146.79h10M476.8 160.79h10M476.8 174.79h10M476.8 188.79h10M476.8 199.29h10M476.8 209.79h10M476.8 218.19h10M476.8 228.69h10M476.8 246.19h10M476.8 256.69h10M476.8 270.69h10M476.8 279.09h10M476.8 287.49h10M476.8 304.99h10M476.8 315.49h10M476.8 332.99h10M476.8 346.99h10M476.8 360.99h10M476.8 374.99h10M476.8 383.39h10M476.8 391.79h10M476.8 409.29h10M476.8 423.29h10M486.8 97.35h5M486.8 106.35h5M486.8 115.35h5M486.8 124.35h5M486.8 133.35h5M486.8 144.6h5M486.8 153.6h5M486.8 160.35h5M486.8 167.1h5M486.8 172.5h5M486.8 177.9h5M486.8 183.3h5M486.8 192.3h5M486.8 197.7h5M486.8 206.7h5M486.8 213.45h5M486.8 220.2h5M486.8 226.95h5M486.8 232.35h5M486.8 237.75h5M486.8 243.15h5M486.8 252.15h5M486.8 261.15h5M486.8 272.4h5M486.8 279.15h5M486.8 285.9h5M486.8 294.9h5M486.8 301.65h5M486.8 310.65h5M486.8 319.65h5M486.8 330.9h5M486.8 339.9h5M486.8 351.15h5M486.8 362.4h5M486.8 371.4h5M486.8 380.4h5M486.8 387.15h5M486.8 396.15h5M486.8 405.15h5M486.8 410.55h5M486.8 419.55h5M491.8 111.74h10.1M491.8 126.94h10.1M491.8 145.94h10.1M491.8 161.14h10.1M491.8 170.26h10.1M491.8 185.46h10.1M491.8 200.66h10.1M491.8 219.66h10.1M491.8 234.86h10.1M491.8 243.98h10.1M491.8 262.98h10.1M491.8 281.98h10.1M491.8 297.18h10.1M491.8 308.58h10.1M491.8 319.98h10.1M491.8 329.1h10.1M491.8 344.3h10.1M491.8 355.7h10.1M491.8 374.7h10.1M491.8 383.82h10.1M491.8 392.94h10.1M491.8 408.14h10.1M491.8 427.14h10.1M501.9 104.26h8.2M501.9 117.26h8.2M501.9 133.51h8.2M501.9 141.31h8.2M501.9 154.31h8.2M501.9 170.56h8.2M501.9 183.56h8.2M501.9 199.81h8.2M501.9 212.81h8.2M501.9 229.06h8.2M501.9 242.06h8.2M501.9 255.06h8.2M501.9 268.06h8.2M501.9 284.31h8.2M501.9 294.06h8.2M501.9 301.86h8.2M501.9 314.86h8.2M501.9 322.66h8.2M501.9 332.41h8.2M501.9 345.41h8.2M501.9 355.16h8.2M501.9 371.41h8.2M501.9 381.16h8.2M501.9 390.91h8.2M501.9 407.16h8.2M501.9 420.16h8.2M501.9 429.91h8.2M510.1 97.65h12.6M510.1 110.55h12.6M510.1 127.75h12.6M510.1 149.25h12.6M510.1 170.75h12.6M510.1 192.25h12.6M510.1 209.45h12.6M510.1 226.65h12.6M510.1 243.85h12.6M510.1 261.05h12.6M510.1 282.55h12.6M510.1 292.87h12.6M510.1 303.19h12.6M510.1 320.39h12.6M510.1 341.89h12.6M510.1 354.79h12.6M510.1 371.99h12.6M510.1 389.19h12.6M510.1 402.09h12.6M510.1 419.29h12.6M522.7 98.44h5M522.7 109.44h5M522.7 117.69h5M522.7 125.94h5M522.7 132.54h5M522.7 139.14h5M522.7 145.74h5M522.7 152.34h5M522.7 163.34h5M522.7 171.59h5M522.7 182.59h5M522.7 190.84h5M522.7 204.59h5M522.7 211.19h5M522.7 217.79h5M522.7 224.39h5M522.7 232.64h5M522.7 246.39h5M522.7 260.14h5M522.7 273.89h5M522.7 280.49h5M522.7 294.24h5M522.7 300.84h5M522.7 314.59h5M522.7 321.19h5M522.7 327.79h5M522.7 338.79h5M522.7 349.79h5M522.7 358.04h5M522.7 369.04h5M522.7 382.79h5M522.7 389.39h5M527.7 105.22h10M527.7 113.62h10M527.7 124.12h10M527.7 134.62h10M527.7 145.12h10M527.7 153.52h10M527.7 161.92h10M527.7 170.32h10M527.7 187.82h10M527.7 196.22h10M527.7 213.72h10M527.7 231.22h10M527.7 245.22h10M527.7 259.22h10M527.7 267.62h10M527.7 278.12h10M527.7 286.52h10M527.7 304.02h10M527.7 314.52h10M527.7 328.52h10M527.7 342.52h10M527.7 356.52h10M527.7 370.52h10M527.7 384.52h10M527.7 392.92h10M537.7 94.31h5M537.7 103.31h5M537.7 108.71h5M537.7 119.96h5M537.7 128.96h5M537.7 137.96h5M537.7 146.96h5M537.7 155.96h5M537.7 164.96h5M537.7 173.96h5M537.7 182.96h5M537.7 194.21h5M537.7 199.61h5M537.7 208.61h5M537.7 214.01h5M537.7 223.01h5M537.7 232.01h5M537.7 237.41h5M537.7 246.41h5M537.7 255.41h5M537.7 266.66h5M537.7 272.06h5M537.7 281.06h5M537.7 290.06h5M537.7 296.81h5M537.7 308.06h5M537.7 313.46h5M537.7 322.46h5M537.7 331.46h5M537.7 338.21h5M537.7 347.21h5M537.7 352.61h5M537.7 361.61h5M537.7 368.36h5M537.7 377.36h5M537.7 382.76h5M537.7 388.16h5M542.7 99.46h10.1M542.7 114.66h10.1M542.7 133.66h10.1M542.7 145.06h10.1M542.7 160.26h10.1M542.7 175.46h10.1M542.7 190.66h10.1M542.7 205.86h10.1M542.7 221.06h10.1M542.7 236.26h10.1M542.7 247.66h10.1M542.7 262.86h10.1M542.7 274.26h10.1M542.7 293.26h10.1M542.7 304.66h10.1M542.7 319.86h10.1M542.7 331.26h10.1M542.7 340.38h10.1M542.7 359.38h10.1M542.7 368.5h10.1M542.7 383.7h10.1M552.8 99.3h8.2M552.8 107.1h8.2M552.8 123.35h8.2M552.8 136.35h8.2M552.8 149.35h8.2M552.8 157.15h8.2M552.8 170.15h8.2M552.8 183.15h8.2M552.8 199.4h8.2M552.8 207.2h8.2M552.8 220.2h8.2M552.8 236.45h8.2M552.8 244.25h8.2M552.8 257.25h8.2M552.8 267h8.2M552.8 280h8.2M552.8 293h8.2M552.8 306h8.2M552.8 319h8.2M552.8 332h8.2M552.8 341.75h8.2M552.8 354.75h8.2M552.8 371h8.2M552.8 380.75h8.2M552.8 393.75h8.2M561 101.14h12.6M561 122.64h12.6M561 139.84h12.6M561 161.34h12.6M561 171.66h12.6M561 188.86h12.6M561 206.06h12.6M561 223.26h12.6M561 240.46h12.6M561 253.36h12.6M561 270.56h12.6M561 292.06h12.6M561 309.26h12.6M561 330.76h12.6M561 347.96h12.6M561 360.86h12.6M561 378.06h12.6M561 395.26h12.6M573.6 100.51h5M573.6 111.51h5M573.6 119.76h5M573.6 128.01h5M573.6 139.01h5M573.6 150.01h5M573.6 163.76h5M573.6 177.51h5M573.6 185.76h5M573.6 196.76h5M573.6 205.01h5M573.6 216.01h5M573.6 227.01h5M573.6 240.76h5M573.6 251.76h5M573.6 260.01h5M573.6 273.76h5M573.6 282.01h5M573.6 290.26h5M573.6 304.01h5M573.6 315.01h5M573.6 326.01h5M573.6 337.01h5M573.6 348.01h5M573.6 356.26h5M573.6 364.51h5M573.6 375.51h5M573.6 383.76h5M573.6 394.76h5M578.6 105.93h10M578.6 116.43h10M578.6 133.93h10M578.6 142.33h10M578.6 152.83h10M578.6 166.83h10M578.6 177.33h10M578.6 187.83h10M578.6 201.83h10M578.6 219.33h10M578.6 233.33h10M578.6 247.33h10M578.6 261.33h10M578.6 271.83h10M578.6 280.23h10M578.6 297.73h10M578.6 306.13h10M578.6 320.13h10M578.6 330.63h10M578.6 344.63h10M578.6 358.63h10M578.6 367.03h10M578.6 375.43h10M578.6 389.43h10M588.6 98.24h5M588.6 107.24h5M588.6 118.49h5M588.6 127.49h5M588.6 136.49h5M588.6 141.89h5M588.6 148.64h5M588.6 157.64h5M588.6 166.64h5M588.6 177.89h5M588.6 186.89h5M588.6 192.29h5M588.6 203.54h5M588.6 210.29h5M588.6 219.29h5M588.6 230.54h5M588.6 239.54h5M588.6 248.54h5M588.6 259.79h5M588.6 271.04h5M588.6 280.04h5M588.6 286.79h5M588.6 298.04h5M588.6 309.29h5M588.6 320.54h5M588.6 331.79h5M588.6 343.04h5M588.6 352.04h5M588.6 358.79h5M588.6 370.04h5M588.6 376.79h5M588.6 388.04h5M588.6 393.44h5M593.6 98.57h10.1M593.6 113.77h10.1M593.6 132.77h10.1M593.6 151.77h10.1M593.6 160.89h10.1M593.6 176.09h10.1M593.6 187.49h10.1M593.6 202.69h10.1M593.6 221.69h10.1M593.6 240.69h10.1M593.6 259.69h10.1M593.6 271.09h10.1M593.6 286.29h10.1M593.6 301.49h10.1M593.6 316.69h10.1M593.6 331.89h10.1M593.6 341.01h10.1M593.6 356.21h10.1M593.6 371.41h10.1M593.6 386.61h10.1M603.7 100.59h8.2M603.7 110.34h8.2M603.7 126.59h8.2M603.7 139.59h8.2M603.7 147.39h8.2M603.7 160.39h8.2M603.7 173.39h8.2M603.7 181.19h8.2M603.7 188.99h8.2M603.7 201.99h8.2M603.7 214.99h8.2M603.7 224.74h8.2M603.7 234.49h8.2M603.7 250.74h8.2M603.7 260.49h8.2M603.7 273.49h8.2M603.7 286.49h8.2M603.7 294.29h8.2M603.7 307.29h8.2M603.7 320.29h8.2M603.7 333.29h8.2M603.7 343.04h8.2M603.7 359.29h8.2M603.7 372.29h8.2M603.7 385.29h8.2M603.7 393.09h8.2M603.7 409.34h8.2M611.9 100.97h12.6M611.9 118.17h12.6M611.9 139.67h12.6M611.9 156.87h12.6M611.9 169.77h12.6M611.9 191.27h12.6M611.9 204.17h12.6M611.9 221.37h12.6M611.9 238.57h12.6M611.9 248.89h12.6M611.9 270.39h12.6M611.9 287.59h12.6M611.9 304.79h12.6M611.9 326.29h12.6M611.9 336.61h12.6M611.9 353.81h12.6M611.9 371.01h12.6M611.9 388.21h12.6M611.9 405.41h12.6M624.5 103.15h5M624.5 114.15h5M624.5 127.9h5M624.5 141.65h5M624.5 155.4h5M624.5 166.4h5M624.5 177.4h5M624.5 188.4h5M624.5 195h5M624.5 203.25h5M624.5 214.25h5M624.5 228h5M624.5 239h5M624.5 250h5M624.5 258.25h5M624.5 269.25h5M624.5 280.25h5M624.5 288.5h5M624.5 296.75h5M624.5 305h5M624.5 311.6h5M624.5 325.35h5M624.5 333.6h5M624.5 344.6h5M624.5 358.35h5M624.5 369.35h5M624.5 383.1h5M624.5 391.35h5M624.5 399.6h5M629.5 101.32h10M629.5 115.32h10M629.5 129.32h10M629.5 143.32h10M629.5 157.32h10M629.5 174.82h10M629.5 185.32h10M629.5 199.32h10M629.5 213.32h10M629.5 223.82h10M629.5 237.82h10M629.5 255.32h10M629.5 269.32h10M629.5 286.82h10M629.5 300.82h10M629.5 314.82h10M629.5 332.32h10M629.5 342.82h10M629.5 356.82h10M629.5 365.22h10M629.5 382.72h10M629.5 396.72h10M639.5 176.1h5M639.5 185.1h5M639.5 191.85h5M639.5 200.85h5M639.5 209.85h5M639.5 215.25h5M639.5 220.65h5M639.5 229.65h5M639.5 238.65h5M639.5 245.4h5M639.5 254.4h5M639.5 263.4h5M639.5 274.65h5M639.5 283.65h5M639.5 289.05h5M639.5 300.3h5M639.5 305.7h5M639.5 312.45h5M639.5 317.85h5M639.5 329.1h5M639.5 338.1h5M639.5 347.1h5M639.5 356.1h5M639.5 361.5h5M639.5 370.5h5M639.5 377.25h5M639.5 384h5M639.5 390.75h5M639.5 399.75h5M639.5 408.75h5M644.5 186.37h10.1M644.5 195.49h10.1M644.5 214.49h10.1M644.5 229.69h10.1M644.5 248.69h10.1M644.5 263.89h10.1M644.5 275.29h10.1M644.5 290.49h10.1M644.5 309.49h10.1M644.5 320.89h10.1M644.5 336.09h10.1M644.5 345.21h10.1M644.5 364.21h10.1M644.5 379.41h10.1M644.5 398.41h10.1M644.5 407.53h10.1M654.6 185.84h8.2M654.6 198.84h8.2M654.6 208.59h8.2M654.6 224.84h8.2M654.6 237.84h8.2M654.6 247.59h8.2M654.6 260.59h8.2M654.6 270.34h8.2M654.6 283.34h8.2M654.6 296.34h8.2M654.6 312.59h8.2M654.6 320.39h8.2M654.6 330.14h8.2M654.6 343.14h8.2M654.6 356.14h8.2M654.6 372.39h8.2M654.6 385.39h8.2M654.6 398.39h8.2M662.8 187.41h12.6M662.8 197.73h12.6M662.8 210.63h12.6M662.8 232.13h12.6M662.8 249.33h12.6M662.8 270.83h12.6M662.8 292.33h12.6M662.8 302.65h12.6M662.8 312.97h12.6M662.8 330.17h12.6M662.8 340.49h12.6M662.8 361.99h12.6M662.8 383.49h12.6M662.8 400.69h12.6M675.4 178.47h5M675.4 189.47h5M675.4 196.07h5M675.4 209.82h5M675.4 220.82h5M675.4 231.82h5M675.4 242.82h5M675.4 253.82h5M675.4 264.82h5M675.4 273.07h5M675.4 284.07h5M675.4 295.07h5M675.4 306.07h5M675.4 317.07h5M675.4 328.07h5M675.4 339.07h5M675.4 345.67h5M675.4 356.67h5M675.4 367.67h5M675.4 378.67h5M675.4 389.67h5M675.4 400.67h5M680.4 183.05h10M680.4 191.45h10M680.4 205.45h10M680.4 215.95h10M680.4 229.95h10M680.4 247.45h10M680.4 261.45h10M680.4 271.95h10M680.4 285.95h10M680.4 303.45h10M680.4 311.85h10M680.4 320.25h10M680.4 334.25h10M680.4 351.75h10M680.4 365.75h10M680.4 379.75h10M680.4 393.75h10M680.4 407.75h10M690.4 391.69h5M690.4 397.09h5M690.4 406.09h5M695.4 396.56h10.1M705.5 386.04h8.2M705.5 402.29h8.2M713.7 395.35h12.6M726.3 386.86h5M726.3 397.86h5M726.3 404.46h5M731.3 389.05h10M731.3 397.45h10M741.3 391.47h5M741.3 400.47h5M746.3 395.65h10.1M756.4 394.91h8.2M756.4 407.91h8.2M764.6 392.39h12.6M764.6 409.59h12.6M777.2 392.23h5M777.2 405.98h5M782.2 389.11h10M782.2 397.51h10M792.2 386.79h5M792.2 398.04h5M792.2 403.44h5M797.2 393.22h10.1M797.2 408.42h10.1M807.3 323.17h8.2M807.3 332.92h8.2M807.3 345.92h8.2M807.3 358.92h8.2M807.3 366.72h8.2M807.3 379.72h8.2M807.3 392.72h8.2M807.3 405.72h8.2M815.5 321.68h12.6M815.5 334.58h12.6M815.5 347.48h12.6M815.5 357.8h12.6M815.5 375h12.6M815.5 392.2h12.6M815.5 409.4h12.6M828.1 324.18h5M828.1 332.43h5M828.1 340.68h5M828.1 351.68h5M828.1 359.93h5M828.1 373.68h5M828.1 381.93h5M828.1 390.18h5M828.1 401.18h5M828.1 407.78h5M833.1 331.25h10M833.1 348.75h10M833.1 362.75h10M833.1 376.75h10M833.1 394.25h10M833.1 402.65h10M843.1 316.65h5M843.1 322.05h5M843.1 327.45h5M843.1 336.45h5M843.1 347.7h5M843.1 354.45h5M843.1 363.45h5M843.1 374.7h5M843.1 383.7h5M843.1 392.7h5M843.1 398.1h5M843.1 407.1h5M848.1 321.58h10.1M848.1 336.78h10.1M848.1 345.9h10.1M848.1 355.02h10.1M848.1 364.14h10.1M848.1 383.14h10.1M848.1 402.14h10.1M858.2 324.85h8.2M858.2 337.85h8.2M858.2 350.85h8.2M858.2 358.65h8.2M858.2 366.45h8.2M858.2 374.25h8.2M858.2 387.25h8.2M858.2 397h8.2" stroke="#dedede" stroke-width="0.9" fill="none"/></g>
<path d="M292.5 90.95 L47 97.95 L47 160.6 L47 254.2 L107.5 254.2 L145.75 254.2 L145.75 190 L107.5 190 L107.5 160.6 L472.5 160.6 L476.82 160.8 L481.1 161.38 L485.31 162.36 L489.41 163.71 L493.38 165.43 L497.17 167.51 L500.75 169.92 L504.11 172.64 L507.2 175.66 L510 178.95 L512.5 182.48 L514.66 186.22 L516.47 190.14 L517.92 194.21 L520.4 194 L520.4 352.5 L527 352.5 L527 394.6 L562.4 394.6 L562.4 402 L600 402 L600 205 L681.25 205 L681.25 173.75 L636.25 173.75 L636.25 160.6 L636.25 95.12 Z M861 316.25 L810 316.25 L810 384.2 L611 384.2 L611 409.8 L861 409.8 L861 384.2 Z M305 404 L280 404 L280 430 L280 447.5 L47 447.5 L47 473.25 L305 473.25 L305 447.5 L305 430 L361.25 430 L520 430 L520 363.6 L361.25 363.6 L361.25 404 Z" fill="none" stroke="#b9b9b9" stroke-width="0.7" />
</g>
<g id="site">
<path d="M47 97.15 L292.5 90.15 L731 95.48" fill="none" stroke="#c9c9c9" stroke-width="2" />
<path d="M47 93.35 L292.5 86.35 L1013 95.1" fill="none" stroke="#ececec" stroke-width="1.4" />
<path d="M107.5 190 L107.5 160.6 L472.5 160.6 L476.82 160.8 L481.1 161.38 L485.31 162.36 L489.41 163.71 L493.38 165.43 L497.17 167.51 L500.75 169.92 L504.11 172.64 L507.2 175.66 L510 178.95 L512.5 182.48 L514.66 186.22 L516.47 190.14 L517.92 194.21" fill="none" stroke="#b0b0b0" stroke-width="0.8" />
<line x1="107.5" y1="190" x2="145.75" y2="190" stroke="#b0b0b0" stroke-width="0.8" />
</g>
<g id="dash">
<line x1="135" y1="167" x2="735" y2="167" stroke="#b4b4b4" stroke-width="1" stroke-dasharray="6.5 3"/>
<path d="M135 167 L135 407.5 L170 407.5" fill="none" stroke="#b4b4b4" stroke-width="1" stroke-dasharray="6.5 3"/>
<line x1="280" y1="403.8" x2="520" y2="403.8" stroke="#b4b4b4" stroke-width="0.9" stroke-dasharray="6.5 3"/>
<line x1="527" y1="383.6" x2="600" y2="383.6" stroke="#b4b4b4" stroke-width="0.9" stroke-dasharray="6.5 3"/>
<line x1="520" y1="403.7" x2="610" y2="403.7" stroke="#b4b4b4" stroke-width="0.9" stroke-dasharray="6.5 3"/>
<line x1="610" y1="404.2" x2="861" y2="404.2" stroke="#b4b4b4" stroke-width="0.9" stroke-dasharray="6.5 3"/>
<line x1="846" y1="316" x2="846" y2="404" stroke="#b4b4b4" stroke-width="0.9" stroke-dasharray="6.5 3"/>
<path d="M837.5 101.3 L927.2 101.3 L927.2 217" fill="none" stroke="#b4b4b4" stroke-width="1" stroke-dasharray="6.5 3"/>
<line x1="735" y1="167" x2="735" y2="190" stroke="#b4b4b4" stroke-width="0.9" stroke-dasharray="6.5 3"/>
<path d="M124.2 90 L160.3 451 L956 466.5 L906.5 92.5" fill="none" stroke="#d8b78e" stroke-width="1" stroke-dasharray="7.5 5"/>
<line x1="124.3" y1="90.5" x2="124.3" y2="97" stroke="#e0a060" stroke-width="0.8" />
<line x1="907" y1="92.5" x2="907" y2="99" stroke="#e0a060" stroke-width="0.8" />
<path d="M445 99.3 L450.99 99.42 L456.98 99.77 L462.95 100.36 L468.89 101.18 L474.79 102.23 L480.65 103.52 L486.45 105.03 L492.19 106.77 L497.85 108.74 L503.44 110.92 L508.93 113.33 L514.32 115.94 L519.61 118.77 L524.79 121.8 L529.84 125.03 L534.75 128.46 L539.54 132.08 L544.17 135.89 L548.65 139.87 L552.98 144.02 L557.13 148.35 L561.11 152.83 L564.92 157.46 L568.54 162.25 L571.97 167.16 L575.2 172.21 L578.23 177.39 L581.06 182.68 L583.67 188.07 L586.08 193.56 L588.26 199.15 L590.23 204.81 L591.97 210.55 L593.48 216.35 L594.77 222.21 L595.82 228.11 L596.64 234.05 L597.23 240.02 L597.58 246.01 L597.7 252" fill="none" stroke="#d8b78e" stroke-width="1" stroke-dasharray="7.5 5"/>
<path d="M445 150.2 L450.33 150.34 L455.64 150.76 L460.93 151.45 L466.17 152.42 L471.35 153.67 L476.46 155.18 L481.48 156.96 L486.41 159 L491.22 161.3 L495.9 163.84 L500.44 166.62 L504.84 169.64 L509.06 172.89 L513.12 176.35 L516.98 180.02 L520.65 183.88 L524.11 187.94 L527.36 192.16 L530.38 196.56 L533.16 201.1 L535.7 205.78 L538 210.59 L540.04 215.52 L541.82 220.54 L543.33 225.65 L544.58 230.83 L545.55 236.07 L546.24 241.36 L546.66 246.67 L546.8 252" fill="none" stroke="#d8b78e" stroke-width="1" stroke-dasharray="7.5 5"/>
</g>
<g id="site2">
<path d="M47 91.75 L292.5 84.75 L1013 93.5" fill="none" stroke="#1e1e1e" stroke-width="1.5" />
<line x1="52" y1="87.2" x2="57.4" y2="92.8" stroke="#222" stroke-width="0.9" />
</g>
<g id="dims">
<line x1="141.25" y1="51" x2="915" y2="51" stroke="#8c8c8c" stroke-width="0.85" />
<line x1="145.75" y1="47.5" x2="145.75" y2="54.5" stroke="#aaa" stroke-width="0.6" />
<line x1="143" y1="53.75" x2="148.5" y2="48.25" stroke="#1c1c1c" stroke-width="1.05" />
<line x1="153.25" y1="47.5" x2="153.25" y2="54.5" stroke="#aaa" stroke-width="0.6" />
<line x1="150.5" y1="53.75" x2="156" y2="48.25" stroke="#1c1c1c" stroke-width="1.05" />
<line x1="291.25" y1="47.5" x2="291.25" y2="54.5" stroke="#aaa" stroke-width="0.6" />
<line x1="288.5" y1="53.75" x2="294" y2="48.25" stroke="#1c1c1c" stroke-width="1.05" />
<line x1="298.75" y1="47.5" x2="298.75" y2="54.5" stroke="#aaa" stroke-width="0.6" />
<line x1="296" y1="53.75" x2="301.5" y2="48.25" stroke="#1c1c1c" stroke-width="1.05" />
<line x1="350" y1="47.5" x2="350" y2="54.5" stroke="#aaa" stroke-width="0.6" />
<line x1="347.25" y1="53.75" x2="352.75" y2="48.25" stroke="#1c1c1c" stroke-width="1.05" />
<line x1="357.5" y1="47.5" x2="357.5" y2="54.5" stroke="#aaa" stroke-width="0.6" />
<line x1="354.75" y1="53.75" x2="360.25" y2="48.25" stroke="#1c1c1c" stroke-width="1.05" />
<line x1="494.25" y1="47.5" x2="494.25" y2="54.5" stroke="#aaa" stroke-width="0.6" />
<line x1="491.5" y1="53.75" x2="497" y2="48.25" stroke="#1c1c1c" stroke-width="1.05" />
<line x1="501.75" y1="47.5" x2="501.75" y2="54.5" stroke="#aaa" stroke-width="0.6" />
<line x1="499" y1="53.75" x2="504.5" y2="48.25" stroke="#1c1c1c" stroke-width="1.05" />
<line x1="504.25" y1="47.5" x2="504.25" y2="54.5" stroke="#aaa" stroke-width="0.6" />
<line x1="501.5" y1="53.75" x2="507" y2="48.25" stroke="#1c1c1c" stroke-width="1.05" />
<line x1="510.5" y1="47.5" x2="510.5" y2="54.5" stroke="#aaa" stroke-width="0.6" />
<line x1="507.75" y1="53.75" x2="513.25" y2="48.25" stroke="#1c1c1c" stroke-width="1.05" />
<line x1="517.75" y1="47.5" x2="517.75" y2="54.5" stroke="#aaa" stroke-width="0.6" />
<line x1="515" y1="53.75" x2="520.5" y2="48.25" stroke="#1c1c1c" stroke-width="1.05" />
<line x1="520.5" y1="47.5" x2="520.5" y2="54.5" stroke="#aaa" stroke-width="0.6" />
<line x1="517.75" y1="53.75" x2="523.25" y2="48.25" stroke="#1c1c1c" stroke-width="1.05" />
<line x1="599.25" y1="47.5" x2="599.25" y2="54.5" stroke="#aaa" stroke-width="0.6" />
<line x1="596.5" y1="53.75" x2="602" y2="48.25" stroke="#1c1c1c" stroke-width="1.05" />
<line x1="603" y1="47.5" x2="603" y2="54.5" stroke="#aaa" stroke-width="0.6" />
<line x1="600.25" y1="53.75" x2="605.75" y2="48.25" stroke="#1c1c1c" stroke-width="1.05" />
<line x1="610.5" y1="47.5" x2="610.5" y2="54.5" stroke="#aaa" stroke-width="0.6" />
<line x1="607.75" y1="53.75" x2="613.25" y2="48.25" stroke="#1c1c1c" stroke-width="1.05" />
<line x1="689.5" y1="47.5" x2="689.5" y2="54.5" stroke="#aaa" stroke-width="0.6" />
<line x1="686.75" y1="53.75" x2="692.25" y2="48.25" stroke="#1c1c1c" stroke-width="1.05" />
<line x1="692" y1="47.5" x2="692" y2="54.5" stroke="#aaa" stroke-width="0.6" />
<line x1="689.25" y1="53.75" x2="694.75" y2="48.25" stroke="#1c1c1c" stroke-width="1.05" />
<line x1="700" y1="47.5" x2="700" y2="54.5" stroke="#aaa" stroke-width="0.6" />
<line x1="697.25" y1="53.75" x2="702.75" y2="48.25" stroke="#1c1c1c" stroke-width="1.05" />
<line x1="729.5" y1="47.5" x2="729.5" y2="54.5" stroke="#aaa" stroke-width="0.6" />
<line x1="726.75" y1="53.75" x2="732.25" y2="48.25" stroke="#1c1c1c" stroke-width="1.05" />
<line x1="733.25" y1="47.5" x2="733.25" y2="54.5" stroke="#aaa" stroke-width="0.6" />
<line x1="730.5" y1="53.75" x2="736" y2="48.25" stroke="#1c1c1c" stroke-width="1.05" />
<line x1="741.25" y1="47.5" x2="741.25" y2="54.5" stroke="#aaa" stroke-width="0.6" />
<line x1="738.5" y1="53.75" x2="744" y2="48.25" stroke="#1c1c1c" stroke-width="1.05" />
<line x1="825" y1="47.5" x2="825" y2="54.5" stroke="#aaa" stroke-width="0.6" />
<line x1="822.25" y1="53.75" x2="827.75" y2="48.25" stroke="#1c1c1c" stroke-width="1.05" />
<line x1="832.5" y1="47.5" x2="832.5" y2="54.5" stroke="#aaa" stroke-width="0.6" />
<line x1="829.75" y1="53.75" x2="835.25" y2="48.25" stroke="#1c1c1c" stroke-width="1.05" />
<line x1="836.25" y1="47.5" x2="836.25" y2="54.5" stroke="#aaa" stroke-width="0.6" />
<line x1="833.5" y1="53.75" x2="839" y2="48.25" stroke="#1c1c1c" stroke-width="1.05" />
<line x1="899.75" y1="47.5" x2="899.75" y2="54.5" stroke="#aaa" stroke-width="0.6" />
<line x1="897" y1="53.75" x2="902.5" y2="48.25" stroke="#1c1c1c" stroke-width="1.05" />
<line x1="906.75" y1="47.5" x2="906.75" y2="54.5" stroke="#aaa" stroke-width="0.6" />
<line x1="904" y1="53.75" x2="909.5" y2="48.25" stroke="#1c1c1c" stroke-width="1.05" />
<line x1="910.5" y1="47.5" x2="910.5" y2="54.5" stroke="#aaa" stroke-width="0.6" />
<line x1="907.75" y1="53.75" x2="913.25" y2="48.25" stroke="#1c1c1c" stroke-width="1.05" />
<line x1="141.25" y1="63.6" x2="915.5" y2="63.6" stroke="#8c8c8c" stroke-width="0.85" />
<line x1="145.75" y1="60.1" x2="145.75" y2="67.1" stroke="#aaa" stroke-width="0.6" />
<line x1="143" y1="66.35" x2="148.5" y2="60.85" stroke="#1c1c1c" stroke-width="1.05" />
<line x1="260.75" y1="60.1" x2="260.75" y2="67.1" stroke="#aaa" stroke-width="0.6" />
<line x1="258" y1="66.35" x2="263.5" y2="60.85" stroke="#1c1c1c" stroke-width="1.05" />
<line x1="275.5" y1="60.1" x2="275.5" y2="67.1" stroke="#aaa" stroke-width="0.6" />
<line x1="272.75" y1="66.35" x2="278.25" y2="60.85" stroke="#1c1c1c" stroke-width="1.05" />
<line x1="325" y1="60.1" x2="325" y2="67.1" stroke="#aaa" stroke-width="0.6" />
<line x1="322.25" y1="66.35" x2="327.75" y2="60.85" stroke="#1c1c1c" stroke-width="1.05" />
<line x1="340" y1="60.1" x2="340" y2="67.1" stroke="#aaa" stroke-width="0.6" />
<line x1="337.25" y1="66.35" x2="342.75" y2="60.85" stroke="#1c1c1c" stroke-width="1.05" />
<line x1="357" y1="60.1" x2="357" y2="67.1" stroke="#aaa" stroke-width="0.6" />
<line x1="354.25" y1="66.35" x2="359.75" y2="60.85" stroke="#1c1c1c" stroke-width="1.05" />
<line x1="372.5" y1="60.1" x2="372.5" y2="67.1" stroke="#aaa" stroke-width="0.6" />
<line x1="369.75" y1="66.35" x2="375.25" y2="60.85" stroke="#1c1c1c" stroke-width="1.05" />
<line x1="504.75" y1="60.1" x2="504.75" y2="67.1" stroke="#aaa" stroke-width="0.6" />
<line x1="502" y1="66.35" x2="507.5" y2="60.85" stroke="#1c1c1c" stroke-width="1.05" />
<line x1="520.5" y1="60.1" x2="520.5" y2="67.1" stroke="#aaa" stroke-width="0.6" />
<line x1="517.75" y1="66.35" x2="523.25" y2="60.85" stroke="#1c1c1c" stroke-width="1.05" />
<line x1="600.5" y1="60.1" x2="600.5" y2="67.1" stroke="#aaa" stroke-width="0.6" />
<line x1="597.75" y1="66.35" x2="603.25" y2="60.85" stroke="#1c1c1c" stroke-width="1.05" />
<line x1="643.75" y1="60.1" x2="643.75" y2="67.1" stroke="#aaa" stroke-width="0.6" />
<line x1="641" y1="66.35" x2="646.5" y2="60.85" stroke="#1c1c1c" stroke-width="1.05" />
<line x1="682.5" y1="60.1" x2="682.5" y2="67.1" stroke="#aaa" stroke-width="0.6" />
<line x1="679.75" y1="66.35" x2="685.25" y2="60.85" stroke="#1c1c1c" stroke-width="1.05" />
<line x1="689.5" y1="60.1" x2="689.5" y2="67.1" stroke="#aaa" stroke-width="0.6" />
<line x1="686.75" y1="66.35" x2="692.25" y2="60.85" stroke="#1c1c1c" stroke-width="1.05" />
<line x1="711.25" y1="60.1" x2="711.25" y2="67.1" stroke="#aaa" stroke-width="0.6" />
<line x1="708.5" y1="66.35" x2="714" y2="60.85" stroke="#1c1c1c" stroke-width="1.05" />
<line x1="726.25" y1="60.1" x2="726.25" y2="67.1" stroke="#aaa" stroke-width="0.6" />
<line x1="723.5" y1="66.35" x2="729" y2="60.85" stroke="#1c1c1c" stroke-width="1.05" />
<line x1="729.5" y1="60.1" x2="729.5" y2="67.1" stroke="#aaa" stroke-width="0.6" />
<line x1="726.75" y1="66.35" x2="732.25" y2="60.85" stroke="#1c1c1c" stroke-width="1.05" />
<line x1="837" y1="60.1" x2="837" y2="67.1" stroke="#aaa" stroke-width="0.6" />
<line x1="834.25" y1="66.35" x2="839.75" y2="60.85" stroke="#1c1c1c" stroke-width="1.05" />
<line x1="911" y1="60.1" x2="911" y2="67.1" stroke="#aaa" stroke-width="0.6" />
<line x1="908.25" y1="66.35" x2="913.75" y2="60.85" stroke="#1c1c1c" stroke-width="1.05" />
<line x1="141.25" y1="76.2" x2="915.5" y2="76.2" stroke="#8c8c8c" stroke-width="0.85" />
<line x1="145.75" y1="72.7" x2="145.75" y2="79.7" stroke="#aaa" stroke-width="0.6" />
<line x1="143" y1="78.95" x2="148.5" y2="73.45" stroke="#1c1c1c" stroke-width="1.05" />
<line x1="268" y1="72.7" x2="268" y2="79.7" stroke="#aaa" stroke-width="0.6" />
<line x1="265.25" y1="78.95" x2="270.75" y2="73.45" stroke="#1c1c1c" stroke-width="1.05" />
<line x1="333" y1="72.7" x2="333" y2="79.7" stroke="#aaa" stroke-width="0.6" />
<line x1="330.25" y1="78.95" x2="335.75" y2="73.45" stroke="#1c1c1c" stroke-width="1.05" />
<line x1="365" y1="72.7" x2="365" y2="79.7" stroke="#aaa" stroke-width="0.6" />
<line x1="362.25" y1="78.95" x2="367.75" y2="73.45" stroke="#1c1c1c" stroke-width="1.05" />
<line x1="504.75" y1="72.7" x2="504.75" y2="79.7" stroke="#aaa" stroke-width="0.6" />
<line x1="502" y1="78.95" x2="507.5" y2="73.45" stroke="#1c1c1c" stroke-width="1.05" />
<line x1="520.5" y1="72.7" x2="520.5" y2="79.7" stroke="#aaa" stroke-width="0.6" />
<line x1="517.75" y1="78.95" x2="523.25" y2="73.45" stroke="#1c1c1c" stroke-width="1.05" />
<line x1="600.5" y1="72.7" x2="600.5" y2="79.7" stroke="#aaa" stroke-width="0.6" />
<line x1="597.75" y1="78.95" x2="603.25" y2="73.45" stroke="#1c1c1c" stroke-width="1.05" />
<line x1="663" y1="72.7" x2="663" y2="79.7" stroke="#aaa" stroke-width="0.6" />
<line x1="660.25" y1="78.95" x2="665.75" y2="73.45" stroke="#1c1c1c" stroke-width="1.05" />
<line x1="689.5" y1="72.7" x2="689.5" y2="79.7" stroke="#aaa" stroke-width="0.6" />
<line x1="686.75" y1="78.95" x2="692.25" y2="73.45" stroke="#1c1c1c" stroke-width="1.05" />
<line x1="719.25" y1="72.7" x2="719.25" y2="79.7" stroke="#aaa" stroke-width="0.6" />
<line x1="716.5" y1="78.95" x2="722" y2="73.45" stroke="#1c1c1c" stroke-width="1.05" />
<line x1="729.5" y1="72.7" x2="729.5" y2="79.7" stroke="#aaa" stroke-width="0.6" />
<line x1="726.75" y1="78.95" x2="732.25" y2="73.45" stroke="#1c1c1c" stroke-width="1.05" />
<line x1="837" y1="72.7" x2="837" y2="79.7" stroke="#aaa" stroke-width="0.6" />
<line x1="834.25" y1="78.95" x2="839.75" y2="73.45" stroke="#1c1c1c" stroke-width="1.05" />
<line x1="911" y1="72.7" x2="911" y2="79.7" stroke="#aaa" stroke-width="0.6" />
<line x1="908.25" y1="78.95" x2="913.75" y2="73.45" stroke="#1c1c1c" stroke-width="1.05" />
<line x1="147.5" y1="488.4" x2="918.75" y2="488.4" stroke="#8c8c8c" stroke-width="0.85" />
<line x1="152" y1="484.9" x2="152" y2="491.9" stroke="#aaa" stroke-width="0.6" />
<line x1="149.25" y1="491.15" x2="154.75" y2="485.65" stroke="#1c1c1c" stroke-width="1.05" />
<line x1="167.5" y1="484.9" x2="167.5" y2="491.9" stroke="#aaa" stroke-width="0.6" />
<line x1="164.75" y1="491.15" x2="170.25" y2="485.65" stroke="#1c1c1c" stroke-width="1.05" />
<line x1="233.75" y1="484.9" x2="233.75" y2="491.9" stroke="#aaa" stroke-width="0.6" />
<line x1="231" y1="491.15" x2="236.5" y2="485.65" stroke="#1c1c1c" stroke-width="1.05" />
<line x1="279.5" y1="484.9" x2="279.5" y2="491.9" stroke="#aaa" stroke-width="0.6" />
<line x1="276.75" y1="491.15" x2="282.25" y2="485.65" stroke="#1c1c1c" stroke-width="1.05" />
<line x1="298.75" y1="484.9" x2="298.75" y2="491.9" stroke="#aaa" stroke-width="0.6" />
<line x1="296" y1="491.15" x2="301.5" y2="485.65" stroke="#1c1c1c" stroke-width="1.05" />
<line x1="361.25" y1="484.9" x2="361.25" y2="491.9" stroke="#aaa" stroke-width="0.6" />
<line x1="358.5" y1="491.15" x2="364" y2="485.65" stroke="#1c1c1c" stroke-width="1.05" />
<line x1="386.5" y1="484.9" x2="386.5" y2="491.9" stroke="#aaa" stroke-width="0.6" />
<line x1="383.75" y1="491.15" x2="389.25" y2="485.65" stroke="#1c1c1c" stroke-width="1.05" />
<line x1="455.5" y1="484.9" x2="455.5" y2="491.9" stroke="#aaa" stroke-width="0.6" />
<line x1="452.75" y1="491.15" x2="458.25" y2="485.65" stroke="#1c1c1c" stroke-width="1.05" />
<line x1="519" y1="484.9" x2="519" y2="491.9" stroke="#aaa" stroke-width="0.6" />
<line x1="516.25" y1="491.15" x2="521.75" y2="485.65" stroke="#1c1c1c" stroke-width="1.05" />
<line x1="581.5" y1="484.9" x2="581.5" y2="491.9" stroke="#aaa" stroke-width="0.6" />
<line x1="578.75" y1="491.15" x2="584.25" y2="485.65" stroke="#1c1c1c" stroke-width="1.05" />
<line x1="611" y1="484.9" x2="611" y2="491.9" stroke="#aaa" stroke-width="0.6" />
<line x1="608.25" y1="491.15" x2="613.75" y2="485.65" stroke="#1c1c1c" stroke-width="1.05" />
<line x1="645" y1="484.9" x2="645" y2="491.9" stroke="#aaa" stroke-width="0.6" />
<line x1="642.25" y1="491.15" x2="647.75" y2="485.65" stroke="#1c1c1c" stroke-width="1.05" />
<line x1="729.25" y1="484.9" x2="729.25" y2="491.9" stroke="#aaa" stroke-width="0.6" />
<line x1="726.5" y1="491.15" x2="732" y2="485.65" stroke="#1c1c1c" stroke-width="1.05" />
<line x1="809.5" y1="484.9" x2="809.5" y2="491.9" stroke="#aaa" stroke-width="0.6" />
<line x1="806.75" y1="491.15" x2="812.25" y2="485.65" stroke="#1c1c1c" stroke-width="1.05" />
<line x1="914.25" y1="484.9" x2="914.25" y2="491.9" stroke="#aaa" stroke-width="0.6" />
<line x1="911.5" y1="491.15" x2="917" y2="485.65" stroke="#1c1c1c" stroke-width="1.05" />
<line x1="147.5" y1="501.2" x2="918.75" y2="501.2" stroke="#8c8c8c" stroke-width="0.85" />
<line x1="152" y1="497.7" x2="152" y2="504.7" stroke="#aaa" stroke-width="0.6" />
<line x1="149.25" y1="503.95" x2="154.75" y2="498.45" stroke="#1c1c1c" stroke-width="1.05" />
<line x1="167.5" y1="497.7" x2="167.5" y2="504.7" stroke="#aaa" stroke-width="0.6" />
<line x1="164.75" y1="503.95" x2="170.25" y2="498.45" stroke="#1c1c1c" stroke-width="1.05" />
<line x1="215" y1="497.7" x2="215" y2="504.7" stroke="#aaa" stroke-width="0.6" />
<line x1="212.25" y1="503.95" x2="217.75" y2="498.45" stroke="#1c1c1c" stroke-width="1.05" />
<line x1="252.5" y1="497.7" x2="252.5" y2="504.7" stroke="#aaa" stroke-width="0.6" />
<line x1="249.75" y1="503.95" x2="255.25" y2="498.45" stroke="#1c1c1c" stroke-width="1.05" />
<line x1="279.5" y1="497.7" x2="279.5" y2="504.7" stroke="#aaa" stroke-width="0.6" />
<line x1="276.75" y1="503.95" x2="282.25" y2="498.45" stroke="#1c1c1c" stroke-width="1.05" />
<line x1="317.5" y1="497.7" x2="317.5" y2="504.7" stroke="#aaa" stroke-width="0.6" />
<line x1="314.75" y1="503.95" x2="320.25" y2="498.45" stroke="#1c1c1c" stroke-width="1.05" />
<line x1="360.5" y1="497.7" x2="360.5" y2="504.7" stroke="#aaa" stroke-width="0.6" />
<line x1="357.75" y1="503.95" x2="363.25" y2="498.45" stroke="#1c1c1c" stroke-width="1.05" />
<line x1="367.5" y1="497.7" x2="367.5" y2="504.7" stroke="#aaa" stroke-width="0.6" />
<line x1="364.75" y1="503.95" x2="370.25" y2="498.45" stroke="#1c1c1c" stroke-width="1.05" />
<line x1="417.25" y1="497.7" x2="417.25" y2="504.7" stroke="#aaa" stroke-width="0.6" />
<line x1="414.5" y1="503.95" x2="420" y2="498.45" stroke="#1c1c1c" stroke-width="1.05" />
<line x1="493.5" y1="497.7" x2="493.5" y2="504.7" stroke="#aaa" stroke-width="0.6" />
<line x1="490.75" y1="503.95" x2="496.25" y2="498.45" stroke="#1c1c1c" stroke-width="1.05" />
<line x1="519" y1="497.7" x2="519" y2="504.7" stroke="#aaa" stroke-width="0.6" />
<line x1="516.25" y1="503.95" x2="521.75" y2="498.45" stroke="#1c1c1c" stroke-width="1.05" />
<line x1="562.25" y1="497.7" x2="562.25" y2="504.7" stroke="#aaa" stroke-width="0.6" />
<line x1="559.5" y1="503.95" x2="565" y2="498.45" stroke="#1c1c1c" stroke-width="1.05" />
<line x1="600.5" y1="497.7" x2="600.5" y2="504.7" stroke="#aaa" stroke-width="0.6" />
<line x1="597.75" y1="503.95" x2="603.25" y2="498.45" stroke="#1c1c1c" stroke-width="1.05" />
<line x1="611" y1="497.7" x2="611" y2="504.7" stroke="#aaa" stroke-width="0.6" />
<line x1="608.25" y1="503.95" x2="613.75" y2="498.45" stroke="#1c1c1c" stroke-width="1.05" />
<line x1="626.25" y1="497.7" x2="626.25" y2="504.7" stroke="#aaa" stroke-width="0.6" />
<line x1="623.5" y1="503.95" x2="629" y2="498.45" stroke="#1c1c1c" stroke-width="1.05" />
<line x1="664.5" y1="497.7" x2="664.5" y2="504.7" stroke="#aaa" stroke-width="0.6" />
<line x1="661.75" y1="503.95" x2="667.25" y2="498.45" stroke="#1c1c1c" stroke-width="1.05" />
<line x1="694.5" y1="497.7" x2="694.5" y2="504.7" stroke="#aaa" stroke-width="0.6" />
<line x1="691.75" y1="503.95" x2="697.25" y2="498.45" stroke="#1c1c1c" stroke-width="1.05" />
<line x1="763.75" y1="497.7" x2="763.75" y2="504.7" stroke="#aaa" stroke-width="0.6" />
<line x1="761" y1="503.95" x2="766.5" y2="498.45" stroke="#1c1c1c" stroke-width="1.05" />
<line x1="809.5" y1="497.7" x2="809.5" y2="504.7" stroke="#aaa" stroke-width="0.6" />
<line x1="806.75" y1="503.95" x2="812.25" y2="498.45" stroke="#1c1c1c" stroke-width="1.05" />
<line x1="914.25" y1="497.7" x2="914.25" y2="504.7" stroke="#aaa" stroke-width="0.6" />
<line x1="911.5" y1="503.95" x2="917" y2="498.45" stroke="#1c1c1c" stroke-width="1.05" />
<line x1="147.5" y1="514.2" x2="918.75" y2="514.2" stroke="#8c8c8c" stroke-width="0.85" />
<line x1="152" y1="510.7" x2="152" y2="517.7" stroke="#aaa" stroke-width="0.6" />
<line x1="149.25" y1="516.95" x2="154.75" y2="511.45" stroke="#1c1c1c" stroke-width="1.05" />
<line x1="155" y1="510.7" x2="155" y2="517.7" stroke="#aaa" stroke-width="0.6" />
<line x1="152.25" y1="516.95" x2="157.75" y2="511.45" stroke="#1c1c1c" stroke-width="1.05" />
<line x1="163.75" y1="510.7" x2="163.75" y2="517.7" stroke="#aaa" stroke-width="0.6" />
<line x1="161" y1="516.95" x2="166.5" y2="511.45" stroke="#1c1c1c" stroke-width="1.05" />
<line x1="167.5" y1="510.7" x2="167.5" y2="517.7" stroke="#aaa" stroke-width="0.6" />
<line x1="164.75" y1="516.95" x2="170.25" y2="511.45" stroke="#1c1c1c" stroke-width="1.05" />
<line x1="171.25" y1="510.7" x2="171.25" y2="517.7" stroke="#aaa" stroke-width="0.6" />
<line x1="168.5" y1="516.95" x2="174" y2="511.45" stroke="#1c1c1c" stroke-width="1.05" />
<line x1="178.75" y1="510.7" x2="178.75" y2="517.7" stroke="#aaa" stroke-width="0.6" />
<line x1="176" y1="516.95" x2="181.5" y2="511.45" stroke="#1c1c1c" stroke-width="1.05" />
<line x1="268.75" y1="510.7" x2="268.75" y2="517.7" stroke="#aaa" stroke-width="0.6" />
<line x1="266" y1="516.95" x2="271.5" y2="511.45" stroke="#1c1c1c" stroke-width="1.05" />
<line x1="276.25" y1="510.7" x2="276.25" y2="517.7" stroke="#aaa" stroke-width="0.6" />
<line x1="273.5" y1="516.95" x2="279" y2="511.45" stroke="#1c1c1c" stroke-width="1.05" />
<line x1="279.5" y1="510.7" x2="279.5" y2="517.7" stroke="#aaa" stroke-width="0.6" />
<line x1="276.75" y1="516.95" x2="282.25" y2="511.45" stroke="#1c1c1c" stroke-width="1.05" />
<line x1="349.5" y1="510.7" x2="349.5" y2="517.7" stroke="#aaa" stroke-width="0.6" />
<line x1="346.75" y1="516.95" x2="352.25" y2="511.45" stroke="#1c1c1c" stroke-width="1.05" />
<line x1="357" y1="510.7" x2="357" y2="517.7" stroke="#aaa" stroke-width="0.6" />
<line x1="354.25" y1="516.95" x2="359.75" y2="511.45" stroke="#1c1c1c" stroke-width="1.05" />
<line x1="360.5" y1="510.7" x2="360.5" y2="517.7" stroke="#aaa" stroke-width="0.6" />
<line x1="357.75" y1="516.95" x2="363.25" y2="511.45" stroke="#1c1c1c" stroke-width="1.05" />
<line x1="510.5" y1="510.7" x2="510.5" y2="517.7" stroke="#aaa" stroke-width="0.6" />
<line x1="507.75" y1="516.95" x2="513.25" y2="511.45" stroke="#1c1c1c" stroke-width="1.05" />
<line x1="517.25" y1="510.7" x2="517.25" y2="517.7" stroke="#aaa" stroke-width="0.6" />
<line x1="514.5" y1="516.95" x2="520" y2="511.45" stroke="#1c1c1c" stroke-width="1.05" />
<line x1="520.25" y1="510.7" x2="520.25" y2="517.7" stroke="#aaa" stroke-width="0.6" />
<line x1="517.5" y1="516.95" x2="523" y2="511.45" stroke="#1c1c1c" stroke-width="1.05" />
<line x1="600.5" y1="510.7" x2="600.5" y2="517.7" stroke="#aaa" stroke-width="0.6" />
<line x1="597.75" y1="516.95" x2="603.25" y2="511.45" stroke="#1c1c1c" stroke-width="1.05" />
<line x1="611" y1="510.7" x2="611" y2="517.7" stroke="#aaa" stroke-width="0.6" />
<line x1="608.25" y1="516.95" x2="613.75" y2="511.45" stroke="#1c1c1c" stroke-width="1.05" />
<line x1="798" y1="510.7" x2="798" y2="517.7" stroke="#aaa" stroke-width="0.6" />
<line x1="795.25" y1="516.95" x2="800.75" y2="511.45" stroke="#1c1c1c" stroke-width="1.05" />
<line x1="805.5" y1="510.7" x2="805.5" y2="517.7" stroke="#aaa" stroke-width="0.6" />
<line x1="802.75" y1="516.95" x2="808.25" y2="511.45" stroke="#1c1c1c" stroke-width="1.05" />
<line x1="809.5" y1="510.7" x2="809.5" y2="517.7" stroke="#aaa" stroke-width="0.6" />
<line x1="806.75" y1="516.95" x2="812.25" y2="511.45" stroke="#1c1c1c" stroke-width="1.05" />
<line x1="903" y1="510.7" x2="903" y2="517.7" stroke="#aaa" stroke-width="0.6" />
<line x1="900.25" y1="516.95" x2="905.75" y2="511.45" stroke="#1c1c1c" stroke-width="1.05" />
<line x1="910.5" y1="510.7" x2="910.5" y2="517.7" stroke="#aaa" stroke-width="0.6" />
<line x1="907.75" y1="516.95" x2="913.25" y2="511.45" stroke="#1c1c1c" stroke-width="1.05" />
<line x1="914.25" y1="510.7" x2="914.25" y2="517.7" stroke="#aaa" stroke-width="0.6" />
<line x1="911.5" y1="516.95" x2="917" y2="511.45" stroke="#1c1c1c" stroke-width="1.05" />
<line x1="141.75" y1="525.6" x2="918.75" y2="525.6" stroke="#8c8c8c" stroke-width="0.85" />
<line x1="146.25" y1="522.1" x2="146.25" y2="529.1" stroke="#aaa" stroke-width="0.6" />
<line x1="143.5" y1="528.35" x2="149" y2="522.85" stroke="#1c1c1c" stroke-width="1.05" />
<line x1="152" y1="522.1" x2="152" y2="529.1" stroke="#aaa" stroke-width="0.6" />
<line x1="149.25" y1="528.35" x2="154.75" y2="522.85" stroke="#1c1c1c" stroke-width="1.05" />
<line x1="167.5" y1="522.1" x2="167.5" y2="529.1" stroke="#aaa" stroke-width="0.6" />
<line x1="164.75" y1="528.35" x2="170.25" y2="522.85" stroke="#1c1c1c" stroke-width="1.05" />
<line x1="279.5" y1="522.1" x2="279.5" y2="529.1" stroke="#aaa" stroke-width="0.6" />
<line x1="276.75" y1="528.35" x2="282.25" y2="522.85" stroke="#1c1c1c" stroke-width="1.05" />
<line x1="361.25" y1="522.1" x2="361.25" y2="529.1" stroke="#aaa" stroke-width="0.6" />
<line x1="358.5" y1="528.35" x2="364" y2="522.85" stroke="#1c1c1c" stroke-width="1.05" />
<line x1="519" y1="522.1" x2="519" y2="529.1" stroke="#aaa" stroke-width="0.6" />
<line x1="516.25" y1="528.35" x2="521.75" y2="522.85" stroke="#1c1c1c" stroke-width="1.05" />
<line x1="611" y1="522.1" x2="611" y2="529.1" stroke="#aaa" stroke-width="0.6" />
<line x1="608.25" y1="528.35" x2="613.75" y2="522.85" stroke="#1c1c1c" stroke-width="1.05" />
<line x1="809.5" y1="522.1" x2="809.5" y2="529.1" stroke="#aaa" stroke-width="0.6" />
<line x1="806.75" y1="528.35" x2="812.25" y2="522.85" stroke="#1c1c1c" stroke-width="1.05" />
<line x1="914.25" y1="522.1" x2="914.25" y2="529.1" stroke="#aaa" stroke-width="0.6" />
<line x1="911.5" y1="528.35" x2="917" y2="522.85" stroke="#1c1c1c" stroke-width="1.05" />
<line x1="55.1" y1="85.2" x2="55.1" y2="451.8" stroke="#8c8c8c" stroke-width="0.85" />
<line x1="51.6" y1="89.7" x2="58.6" y2="89.7" stroke="#aaa" stroke-width="0.6" />
<line x1="52.35" y1="92.45" x2="57.85" y2="86.95" stroke="#1c1c1c" stroke-width="1.05" />
<line x1="51.6" y1="447.3" x2="58.6" y2="447.3" stroke="#aaa" stroke-width="0.6" />
<line x1="52.35" y1="450.05" x2="57.85" y2="444.55" stroke="#1c1c1c" stroke-width="1.05" />
<line x1="67.7" y1="171.8" x2="67.7" y2="451.8" stroke="#8c8c8c" stroke-width="0.85" />
<line x1="64.2" y1="176.3" x2="71.2" y2="176.3" stroke="#aaa" stroke-width="0.6" />
<line x1="64.95" y1="179.05" x2="70.45" y2="173.55" stroke="#1c1c1c" stroke-width="1.05" />
<line x1="64.2" y1="183.9" x2="71.2" y2="183.9" stroke="#aaa" stroke-width="0.6" />
<line x1="64.95" y1="186.65" x2="70.45" y2="181.15" stroke="#1c1c1c" stroke-width="1.05" />
<line x1="64.2" y1="260.3" x2="71.2" y2="260.3" stroke="#aaa" stroke-width="0.6" />
<line x1="64.95" y1="263.05" x2="70.45" y2="257.55" stroke="#1c1c1c" stroke-width="1.05" />
<line x1="64.2" y1="267.9" x2="71.2" y2="267.9" stroke="#aaa" stroke-width="0.6" />
<line x1="64.95" y1="270.65" x2="70.45" y2="265.15" stroke="#1c1c1c" stroke-width="1.05" />
<line x1="64.2" y1="351.9" x2="71.2" y2="351.9" stroke="#aaa" stroke-width="0.6" />
<line x1="64.95" y1="354.65" x2="70.45" y2="349.15" stroke="#1c1c1c" stroke-width="1.05" />
<line x1="64.2" y1="359.5" x2="71.2" y2="359.5" stroke="#aaa" stroke-width="0.6" />
<line x1="64.95" y1="362.25" x2="70.45" y2="356.75" stroke="#1c1c1c" stroke-width="1.05" />
<line x1="64.2" y1="363.3" x2="71.2" y2="363.3" stroke="#aaa" stroke-width="0.6" />
<line x1="64.95" y1="366.05" x2="70.45" y2="360.55" stroke="#1c1c1c" stroke-width="1.05" />
<line x1="64.2" y1="435.8" x2="71.2" y2="435.8" stroke="#aaa" stroke-width="0.6" />
<line x1="64.95" y1="438.55" x2="70.45" y2="433.05" stroke="#1c1c1c" stroke-width="1.05" />
<line x1="64.2" y1="443.5" x2="71.2" y2="443.5" stroke="#aaa" stroke-width="0.6" />
<line x1="64.95" y1="446.25" x2="70.45" y2="440.75" stroke="#1c1c1c" stroke-width="1.05" />
<line x1="64.2" y1="447.3" x2="71.2" y2="447.3" stroke="#aaa" stroke-width="0.6" />
<line x1="64.95" y1="450.05" x2="70.45" y2="444.55" stroke="#1c1c1c" stroke-width="1.05" />
<line x1="80.25" y1="171.8" x2="80.25" y2="451.8" stroke="#8c8c8c" stroke-width="0.85" />
<line x1="76.75" y1="176.3" x2="83.75" y2="176.3" stroke="#aaa" stroke-width="0.6" />
<line x1="77.5" y1="179.05" x2="83" y2="173.55" stroke="#1c1c1c" stroke-width="1.05" />
<line x1="76.75" y1="190.3" x2="83.75" y2="190.3" stroke="#aaa" stroke-width="0.6" />
<line x1="77.5" y1="193.05" x2="83" y2="187.55" stroke="#1c1c1c" stroke-width="1.05" />
<line x1="76.75" y1="253.9" x2="83.75" y2="253.9" stroke="#aaa" stroke-width="0.6" />
<line x1="77.5" y1="256.65" x2="83" y2="251.15" stroke="#1c1c1c" stroke-width="1.05" />
<line x1="76.75" y1="267.9" x2="83.75" y2="267.9" stroke="#aaa" stroke-width="0.6" />
<line x1="77.5" y1="270.65" x2="83" y2="265.15" stroke="#1c1c1c" stroke-width="1.05" />
<line x1="76.75" y1="298.4" x2="83.75" y2="298.4" stroke="#aaa" stroke-width="0.6" />
<line x1="77.5" y1="301.15" x2="83" y2="295.65" stroke="#1c1c1c" stroke-width="1.05" />
<line x1="76.75" y1="336.6" x2="83.75" y2="336.6" stroke="#aaa" stroke-width="0.6" />
<line x1="77.5" y1="339.35" x2="83" y2="333.85" stroke="#1c1c1c" stroke-width="1.05" />
<line x1="76.75" y1="363.3" x2="83.75" y2="363.3" stroke="#aaa" stroke-width="0.6" />
<line x1="77.5" y1="366.05" x2="83" y2="360.55" stroke="#1c1c1c" stroke-width="1.05" />
<line x1="76.75" y1="447.3" x2="83.75" y2="447.3" stroke="#aaa" stroke-width="0.6" />
<line x1="77.5" y1="450.05" x2="83" y2="444.55" stroke="#1c1c1c" stroke-width="1.05" />
<line x1="93.6" y1="171.8" x2="93.6" y2="451.8" stroke="#8c8c8c" stroke-width="0.85" />
<line x1="90.1" y1="176.3" x2="97.1" y2="176.3" stroke="#aaa" stroke-width="0.6" />
<line x1="90.85" y1="179.05" x2="96.35" y2="173.55" stroke="#1c1c1c" stroke-width="1.05" />
<line x1="90.1" y1="222.1" x2="97.1" y2="222.1" stroke="#aaa" stroke-width="0.6" />
<line x1="90.85" y1="224.85" x2="96.35" y2="219.35" stroke="#1c1c1c" stroke-width="1.05" />
<line x1="90.1" y1="267.9" x2="97.1" y2="267.9" stroke="#aaa" stroke-width="0.6" />
<line x1="90.85" y1="270.65" x2="96.35" y2="265.15" stroke="#1c1c1c" stroke-width="1.05" />
<line x1="90.1" y1="317.5" x2="97.1" y2="317.5" stroke="#aaa" stroke-width="0.6" />
<line x1="90.85" y1="320.25" x2="96.35" y2="314.75" stroke="#1c1c1c" stroke-width="1.05" />
<line x1="90.1" y1="363.3" x2="97.1" y2="363.3" stroke="#aaa" stroke-width="0.6" />
<line x1="90.85" y1="366.05" x2="96.35" y2="360.55" stroke="#1c1c1c" stroke-width="1.05" />
<line x1="90.1" y1="447.3" x2="97.1" y2="447.3" stroke="#aaa" stroke-width="0.6" />
<line x1="90.85" y1="450.05" x2="96.35" y2="444.55" stroke="#1c1c1c" stroke-width="1.05" />
<line x1="957.6" y1="86.7" x2="957.6" y2="388.8" stroke="#8c8c8c" stroke-width="0.85" />
<line x1="954.1" y1="91.2" x2="961.1" y2="91.2" stroke="#aaa" stroke-width="0.6" />
<line x1="954.85" y1="93.95" x2="960.35" y2="88.45" stroke="#1c1c1c" stroke-width="1.05" />
<line x1="954.1" y1="118" x2="961.1" y2="118" stroke="#aaa" stroke-width="0.6" />
<line x1="954.85" y1="120.75" x2="960.35" y2="115.25" stroke="#1c1c1c" stroke-width="1.05" />
<line x1="954.1" y1="186.4" x2="961.1" y2="186.4" stroke="#aaa" stroke-width="0.6" />
<line x1="954.85" y1="189.15" x2="960.35" y2="183.65" stroke="#1c1c1c" stroke-width="1.05" />
<line x1="954.1" y1="262.8" x2="961.1" y2="262.8" stroke="#aaa" stroke-width="0.6" />
<line x1="954.85" y1="265.55" x2="960.35" y2="260.05" stroke="#1c1c1c" stroke-width="1.05" />
<line x1="954.1" y1="316.3" x2="961.1" y2="316.3" stroke="#aaa" stroke-width="0.6" />
<line x1="954.85" y1="319.05" x2="960.35" y2="313.55" stroke="#1c1c1c" stroke-width="1.05" />
<line x1="954.1" y1="335.3" x2="961.1" y2="335.3" stroke="#aaa" stroke-width="0.6" />
<line x1="954.85" y1="338.05" x2="960.35" y2="332.55" stroke="#1c1c1c" stroke-width="1.05" />
<line x1="954.1" y1="384.3" x2="961.1" y2="384.3" stroke="#aaa" stroke-width="0.6" />
<line x1="954.85" y1="387.05" x2="960.35" y2="381.55" stroke="#1c1c1c" stroke-width="1.05" />
<line x1="969.4" y1="86.7" x2="969.4" y2="388.8" stroke="#8c8c8c" stroke-width="0.85" />
<line x1="965.9" y1="91.2" x2="972.9" y2="91.2" stroke="#aaa" stroke-width="0.6" />
<line x1="966.65" y1="93.95" x2="972.15" y2="88.45" stroke="#1c1c1c" stroke-width="1.05" />
<line x1="965.9" y1="118" x2="972.9" y2="118" stroke="#aaa" stroke-width="0.6" />
<line x1="966.65" y1="120.75" x2="972.15" y2="115.25" stroke="#1c1c1c" stroke-width="1.05" />
<line x1="965.9" y1="167.3" x2="972.9" y2="167.3" stroke="#aaa" stroke-width="0.6" />
<line x1="966.65" y1="170.05" x2="972.15" y2="164.55" stroke="#1c1c1c" stroke-width="1.05" />
<line x1="965.9" y1="205.5" x2="972.9" y2="205.5" stroke="#aaa" stroke-width="0.6" />
<line x1="966.65" y1="208.25" x2="972.15" y2="202.75" stroke="#1c1c1c" stroke-width="1.05" />
<line x1="965.9" y1="217" x2="972.9" y2="217" stroke="#aaa" stroke-width="0.6" />
<line x1="966.65" y1="219.75" x2="972.15" y2="214.25" stroke="#1c1c1c" stroke-width="1.05" />
<line x1="965.9" y1="243.7" x2="972.9" y2="243.7" stroke="#aaa" stroke-width="0.6" />
<line x1="966.65" y1="246.45" x2="972.15" y2="240.95" stroke="#1c1c1c" stroke-width="1.05" />
<line x1="965.9" y1="281.9" x2="972.9" y2="281.9" stroke="#aaa" stroke-width="0.6" />
<line x1="966.65" y1="284.65" x2="972.15" y2="279.15" stroke="#1c1c1c" stroke-width="1.05" />
<line x1="965.9" y1="316.3" x2="972.9" y2="316.3" stroke="#aaa" stroke-width="0.6" />
<line x1="966.65" y1="319.05" x2="972.15" y2="313.55" stroke="#1c1c1c" stroke-width="1.05" />
<line x1="965.9" y1="354.4" x2="972.9" y2="354.4" stroke="#aaa" stroke-width="0.6" />
<line x1="966.65" y1="357.15" x2="972.15" y2="351.65" stroke="#1c1c1c" stroke-width="1.05" />
<line x1="965.9" y1="384.3" x2="972.9" y2="384.3" stroke="#aaa" stroke-width="0.6" />
<line x1="966.65" y1="387.05" x2="972.15" y2="381.55" stroke="#1c1c1c" stroke-width="1.05" />
<line x1="982.7" y1="86.7" x2="982.7" y2="388.8" stroke="#8c8c8c" stroke-width="0.85" />
<line x1="979.2" y1="91.2" x2="986.2" y2="91.2" stroke="#aaa" stroke-width="0.6" />
<line x1="979.95" y1="93.95" x2="985.45" y2="88.45" stroke="#1c1c1c" stroke-width="1.05" />
<line x1="979.2" y1="98.8" x2="986.2" y2="98.8" stroke="#aaa" stroke-width="0.6" />
<line x1="979.95" y1="101.55" x2="985.45" y2="96.05" stroke="#1c1c1c" stroke-width="1.05" />
<line x1="979.2" y1="114.1" x2="986.2" y2="114.1" stroke="#aaa" stroke-width="0.6" />
<line x1="979.95" y1="116.85" x2="985.45" y2="111.35" stroke="#1c1c1c" stroke-width="1.05" />
<line x1="979.2" y1="118" x2="986.2" y2="118" stroke="#aaa" stroke-width="0.6" />
<line x1="979.95" y1="120.75" x2="985.45" y2="115.25" stroke="#1c1c1c" stroke-width="1.05" />
<line x1="979.2" y1="121.8" x2="986.2" y2="121.8" stroke="#aaa" stroke-width="0.6" />
<line x1="979.95" y1="124.55" x2="985.45" y2="119.05" stroke="#1c1c1c" stroke-width="1.05" />
<line x1="979.2" y1="129.4" x2="986.2" y2="129.4" stroke="#aaa" stroke-width="0.6" />
<line x1="979.95" y1="132.15" x2="985.45" y2="126.65" stroke="#1c1c1c" stroke-width="1.05" />
<line x1="979.2" y1="217.2" x2="986.2" y2="217.2" stroke="#aaa" stroke-width="0.6" />
<line x1="979.95" y1="219.95" x2="985.45" y2="214.45" stroke="#1c1c1c" stroke-width="1.05" />
<line x1="979.2" y1="221" x2="986.2" y2="221" stroke="#aaa" stroke-width="0.6" />
<line x1="979.95" y1="223.75" x2="985.45" y2="218.25" stroke="#1c1c1c" stroke-width="1.05" />
<line x1="979.2" y1="228.6" x2="986.2" y2="228.6" stroke="#aaa" stroke-width="0.6" />
<line x1="979.95" y1="231.35" x2="985.45" y2="225.85" stroke="#1c1c1c" stroke-width="1.05" />
<line x1="979.2" y1="305" x2="986.2" y2="305" stroke="#aaa" stroke-width="0.6" />
<line x1="979.95" y1="307.75" x2="985.45" y2="302.25" stroke="#1c1c1c" stroke-width="1.05" />
<line x1="979.2" y1="312.6" x2="986.2" y2="312.6" stroke="#aaa" stroke-width="0.6" />
<line x1="979.95" y1="315.35" x2="985.45" y2="309.85" stroke="#1c1c1c" stroke-width="1.05" />
<line x1="979.2" y1="316.4" x2="986.2" y2="316.4" stroke="#aaa" stroke-width="0.6" />
<line x1="979.95" y1="319.15" x2="985.45" y2="313.65" stroke="#1c1c1c" stroke-width="1.05" />
<line x1="979.2" y1="372.9" x2="986.2" y2="372.9" stroke="#aaa" stroke-width="0.6" />
<line x1="979.95" y1="375.65" x2="985.45" y2="370.15" stroke="#1c1c1c" stroke-width="1.05" />
<line x1="979.2" y1="380.5" x2="986.2" y2="380.5" stroke="#aaa" stroke-width="0.6" />
<line x1="979.95" y1="383.25" x2="985.45" y2="377.75" stroke="#1c1c1c" stroke-width="1.05" />
<line x1="979.2" y1="384.3" x2="986.2" y2="384.3" stroke="#aaa" stroke-width="0.6" />
<line x1="979.95" y1="387.05" x2="985.45" y2="381.55" stroke="#1c1c1c" stroke-width="1.05" />
<line x1="995.7" y1="86.7" x2="995.7" y2="388.8" stroke="#8c8c8c" stroke-width="0.85" />
<line x1="992.2" y1="91.2" x2="999.2" y2="91.2" stroke="#aaa" stroke-width="0.6" />
<line x1="992.95" y1="93.95" x2="998.45" y2="88.45" stroke="#1c1c1c" stroke-width="1.05" />
<line x1="992.2" y1="118" x2="999.2" y2="118" stroke="#aaa" stroke-width="0.6" />
<line x1="992.95" y1="120.75" x2="998.45" y2="115.25" stroke="#1c1c1c" stroke-width="1.05" />
<line x1="992.2" y1="217.2" x2="999.2" y2="217.2" stroke="#aaa" stroke-width="0.6" />
<line x1="992.95" y1="219.95" x2="998.45" y2="214.45" stroke="#1c1c1c" stroke-width="1.05" />
<line x1="992.2" y1="316.4" x2="999.2" y2="316.4" stroke="#aaa" stroke-width="0.6" />
<line x1="992.95" y1="319.15" x2="998.45" y2="313.65" stroke="#1c1c1c" stroke-width="1.05" />
<line x1="992.2" y1="384.3" x2="999.2" y2="384.3" stroke="#aaa" stroke-width="0.6" />
<line x1="992.95" y1="387.05" x2="998.45" y2="381.55" stroke="#1c1c1c" stroke-width="1.05" />
<line x1="537.6" y1="87.5" x2="537.6" y2="400" stroke="#8c8c8c" stroke-width="0.85" />
<line x1="534.1" y1="92" x2="541.1" y2="92" stroke="#aaa" stroke-width="0.6" />
<line x1="534.85" y1="94.75" x2="540.35" y2="89.25" stroke="#1c1c1c" stroke-width="1.05" />
<line x1="534.1" y1="395.5" x2="541.1" y2="395.5" stroke="#aaa" stroke-width="0.6" />
<line x1="534.85" y1="398.25" x2="540.35" y2="392.75" stroke="#1c1c1c" stroke-width="1.05" />
<line x1="550.2" y1="86.8" x2="550.2" y2="399.1" stroke="#8c8c8c" stroke-width="0.85" />
<line x1="546.7" y1="91.3" x2="553.7" y2="91.3" stroke="#aaa" stroke-width="0.6" />
<line x1="547.45" y1="94.05" x2="552.95" y2="88.55" stroke="#1c1c1c" stroke-width="1.05" />
<line x1="546.7" y1="95" x2="553.7" y2="95" stroke="#aaa" stroke-width="0.6" />
<line x1="547.45" y1="97.75" x2="552.95" y2="92.25" stroke="#1c1c1c" stroke-width="1.05" />
<line x1="546.7" y1="102.5" x2="553.7" y2="102.5" stroke="#aaa" stroke-width="0.6" />
<line x1="547.45" y1="105.25" x2="552.95" y2="99.75" stroke="#1c1c1c" stroke-width="1.05" />
<line x1="546.7" y1="191" x2="553.7" y2="191" stroke="#aaa" stroke-width="0.6" />
<line x1="547.45" y1="193.75" x2="552.95" y2="188.25" stroke="#1c1c1c" stroke-width="1.05" />
<line x1="546.7" y1="194.8" x2="553.7" y2="194.8" stroke="#aaa" stroke-width="0.6" />
<line x1="547.45" y1="197.55" x2="552.95" y2="192.05" stroke="#1c1c1c" stroke-width="1.05" />
<line x1="546.7" y1="202.4" x2="553.7" y2="202.4" stroke="#aaa" stroke-width="0.6" />
<line x1="547.45" y1="205.15" x2="552.95" y2="199.65" stroke="#1c1c1c" stroke-width="1.05" />
<line x1="546.7" y1="204.2" x2="553.7" y2="204.2" stroke="#aaa" stroke-width="0.6" />
<line x1="547.45" y1="206.95" x2="552.95" y2="201.45" stroke="#1c1c1c" stroke-width="1.05" />
<line x1="546.7" y1="208" x2="553.7" y2="208" stroke="#aaa" stroke-width="0.6" />
<line x1="547.45" y1="210.75" x2="552.95" y2="205.25" stroke="#1c1c1c" stroke-width="1.05" />
<line x1="546.7" y1="215.6" x2="553.7" y2="215.6" stroke="#aaa" stroke-width="0.6" />
<line x1="547.45" y1="218.35" x2="552.95" y2="212.85" stroke="#1c1c1c" stroke-width="1.05" />
<line x1="546.7" y1="394.6" x2="553.7" y2="394.6" stroke="#aaa" stroke-width="0.6" />
<line x1="547.45" y1="397.35" x2="552.95" y2="391.85" stroke="#1c1c1c" stroke-width="1.05" />
<line x1="562.9" y1="86.8" x2="562.9" y2="399.1" stroke="#8c8c8c" stroke-width="0.85" />
<line x1="559.4" y1="91.3" x2="566.4" y2="91.3" stroke="#aaa" stroke-width="0.6" />
<line x1="560.15" y1="94.05" x2="565.65" y2="88.55" stroke="#1c1c1c" stroke-width="1.05" />
<line x1="559.4" y1="191" x2="566.4" y2="191" stroke="#aaa" stroke-width="0.6" />
<line x1="560.15" y1="193.75" x2="565.65" y2="188.25" stroke="#1c1c1c" stroke-width="1.05" />
<line x1="559.4" y1="205.5" x2="566.4" y2="205.5" stroke="#aaa" stroke-width="0.6" />
<line x1="560.15" y1="208.25" x2="565.65" y2="202.75" stroke="#1c1c1c" stroke-width="1.05" />
<line x1="559.4" y1="227.9" x2="566.4" y2="227.9" stroke="#aaa" stroke-width="0.6" />
<line x1="560.15" y1="230.65" x2="565.65" y2="225.15" stroke="#1c1c1c" stroke-width="1.05" />
<line x1="559.4" y1="243.2" x2="566.4" y2="243.2" stroke="#aaa" stroke-width="0.6" />
<line x1="560.15" y1="245.95" x2="565.65" y2="240.45" stroke="#1c1c1c" stroke-width="1.05" />
<line x1="559.4" y1="394.6" x2="566.4" y2="394.6" stroke="#aaa" stroke-width="0.6" />
<line x1="560.15" y1="397.35" x2="565.65" y2="391.85" stroke="#1c1c1c" stroke-width="1.05" />
<line x1="575.5" y1="86.8" x2="575.5" y2="399.1" stroke="#8c8c8c" stroke-width="0.85" />
<line x1="572" y1="91.3" x2="579" y2="91.3" stroke="#aaa" stroke-width="0.6" />
<line x1="572.75" y1="94.05" x2="578.25" y2="88.55" stroke="#1c1c1c" stroke-width="1.05" />
<line x1="572" y1="191" x2="579" y2="191" stroke="#aaa" stroke-width="0.6" />
<line x1="572.75" y1="193.75" x2="578.25" y2="188.25" stroke="#1c1c1c" stroke-width="1.05" />
<line x1="572" y1="205.5" x2="579" y2="205.5" stroke="#aaa" stroke-width="0.6" />
<line x1="572.75" y1="208.25" x2="578.25" y2="202.75" stroke="#1c1c1c" stroke-width="1.05" />
<line x1="572" y1="235.5" x2="579" y2="235.5" stroke="#aaa" stroke-width="0.6" />
<line x1="572.75" y1="238.25" x2="578.25" y2="232.75" stroke="#1c1c1c" stroke-width="1.05" />
<line x1="572" y1="394.6" x2="579" y2="394.6" stroke="#aaa" stroke-width="0.6" />
<line x1="572.75" y1="397.35" x2="578.25" y2="391.85" stroke="#1c1c1c" stroke-width="1.05" />
<line x1="571" y1="235.5" x2="603" y2="235.5" stroke="#8c8c8c" stroke-width="0.85" />
<line x1="571" y1="243.2" x2="603" y2="243.2" stroke="#8c8c8c" stroke-width="0.85" />
<line x1="597.45" y1="238.25" x2="602.95" y2="232.75" stroke="#1c1c1c" stroke-width="1.05" />
<line x1="597.45" y1="245.95" x2="602.95" y2="240.45" stroke="#1c1c1c" stroke-width="1.05" />
<line x1="142" y1="200" x2="303" y2="200" stroke="#9a9a9a" stroke-width="0.6" />
<line x1="143.05" y1="202.7" x2="148.45" y2="197.3" stroke="#1c1c1c" stroke-width="0.95" />
<line x1="151.05" y1="202.7" x2="156.45" y2="197.3" stroke="#1c1c1c" stroke-width="0.95" />
<line x1="288.8" y1="202.7" x2="294.2" y2="197.3" stroke="#1c1c1c" stroke-width="0.95" />
<line x1="296.3" y1="202.7" x2="301.7" y2="197.3" stroke="#1c1c1c" stroke-width="0.95" />
<line x1="142" y1="231.3" x2="362" y2="231.3" stroke="#9a9a9a" stroke-width="0.6" />
<line x1="143.05" y1="234" x2="148.45" y2="228.6" stroke="#1c1c1c" stroke-width="0.95" />
<line x1="151.05" y1="234" x2="156.45" y2="228.6" stroke="#1c1c1c" stroke-width="0.95" />
<line x1="275.9" y1="234" x2="281.3" y2="228.6" stroke="#1c1c1c" stroke-width="0.95" />
<line x1="288.8" y1="234" x2="294.2" y2="228.6" stroke="#1c1c1c" stroke-width="0.95" />
<line x1="296.3" y1="234" x2="301.7" y2="228.6" stroke="#1c1c1c" stroke-width="0.95" />
<line x1="347.2" y1="234" x2="352.6" y2="228.6" stroke="#1c1c1c" stroke-width="0.95" />
<line x1="354.7" y1="234" x2="360.1" y2="228.6" stroke="#1c1c1c" stroke-width="0.95" />
<line x1="119" y1="222.5" x2="169" y2="222.5" stroke="#9a9a9a" stroke-width="0.6" />
<line x1="189.8" y1="172" x2="189.8" y2="452" stroke="#9a9a9a" stroke-width="0.6" />
<line x1="187.1" y1="179" x2="192.5" y2="173.6" stroke="#1c1c1c" stroke-width="0.95" />
<line x1="187.1" y1="187" x2="192.5" y2="181.6" stroke="#1c1c1c" stroke-width="0.95" />
<line x1="187.1" y1="263" x2="192.5" y2="257.6" stroke="#1c1c1c" stroke-width="0.95" />
<line x1="187.1" y1="270.6" x2="192.5" y2="265.2" stroke="#1c1c1c" stroke-width="0.95" />
<line x1="187.1" y1="354.7" x2="192.5" y2="349.3" stroke="#1c1c1c" stroke-width="0.95" />
<line x1="187.1" y1="362.7" x2="192.5" y2="357.3" stroke="#1c1c1c" stroke-width="0.95" />
<line x1="187.1" y1="439" x2="192.5" y2="433.6" stroke="#1c1c1c" stroke-width="0.95" />
<line x1="187.1" y1="446.45" x2="192.5" y2="441.05" stroke="#1c1c1c" stroke-width="0.95" />
<line x1="187.1" y1="450.2" x2="192.5" y2="444.8" stroke="#1c1c1c" stroke-width="0.95" />
<line x1="268.6" y1="168" x2="268.6" y2="262" stroke="#9a9a9a" stroke-width="0.6" />
<line x1="265.9" y1="179" x2="271.3" y2="173.6" stroke="#1c1c1c" stroke-width="0.95" />
<line x1="265.9" y1="187" x2="271.3" y2="181.6" stroke="#1c1c1c" stroke-width="0.95" />
<line x1="265.9" y1="238" x2="271.3" y2="232.6" stroke="#1c1c1c" stroke-width="0.95" />
<line x1="265.9" y1="263.2" x2="271.3" y2="257.8" stroke="#1c1c1c" stroke-width="0.95" />
<line x1="275.8" y1="150" x2="275.8" y2="200" stroke="#9a9a9a" stroke-width="0.6" />
<line x1="273.1" y1="179" x2="278.5" y2="173.6" stroke="#1c1c1c" stroke-width="0.95" />
<line x1="273.1" y1="187" x2="278.5" y2="181.6" stroke="#1c1c1c" stroke-width="0.95" />
<line x1="332.9" y1="168" x2="332.9" y2="290" stroke="#9a9a9a" stroke-width="0.6" />
<line x1="330.2" y1="179" x2="335.6" y2="173.6" stroke="#1c1c1c" stroke-width="0.95" />
<line x1="330.2" y1="191" x2="335.6" y2="185.6" stroke="#1c1c1c" stroke-width="0.95" />
<line x1="330.2" y1="263.3" x2="335.6" y2="257.9" stroke="#1c1c1c" stroke-width="0.95" />
<line x1="330.2" y1="270.8" x2="335.6" y2="265.4" stroke="#1c1c1c" stroke-width="0.95" />
<line x1="363.8" y1="168" x2="363.8" y2="272" stroke="#9a9a9a" stroke-width="0.6" />
<line x1="361.1" y1="179" x2="366.5" y2="173.6" stroke="#1c1c1c" stroke-width="0.95" />
<line x1="361.1" y1="191" x2="366.5" y2="185.6" stroke="#1c1c1c" stroke-width="0.95" />
<line x1="361.1" y1="228.2" x2="366.5" y2="222.8" stroke="#1c1c1c" stroke-width="0.95" />
<line x1="361.1" y1="230.2" x2="366.5" y2="224.8" stroke="#1c1c1c" stroke-width="0.95" />
<line x1="361.1" y1="267.7" x2="366.5" y2="262.3" stroke="#1c1c1c" stroke-width="0.95" />
<line x1="361.1" y1="271" x2="366.5" y2="265.6" stroke="#1c1c1c" stroke-width="0.95" />
<line x1="398.3" y1="172" x2="398.3" y2="192" stroke="#9a9a9a" stroke-width="0.6" />
<line x1="395.6" y1="179" x2="401" y2="173.6" stroke="#1c1c1c" stroke-width="0.95" />
<line x1="395.6" y1="191" x2="401" y2="185.6" stroke="#1c1c1c" stroke-width="0.95" />
<line x1="439.7" y1="172" x2="439.7" y2="360" stroke="#9a9a9a" stroke-width="0.6" />
<line x1="437" y1="179" x2="442.4" y2="173.6" stroke="#1c1c1c" stroke-width="0.95" />
<line x1="437" y1="191" x2="442.4" y2="185.6" stroke="#1c1c1c" stroke-width="0.95" />
<line x1="437" y1="355.2" x2="442.4" y2="349.8" stroke="#1c1c1c" stroke-width="0.95" />
<line x1="437" y1="365.7" x2="442.4" y2="360.3" stroke="#1c1c1c" stroke-width="0.95" />
<line x1="385" y1="231.3" x2="524" y2="231.3" stroke="#9a9a9a" stroke-width="0.6" />
<line x1="385.6" y1="234" x2="391" y2="228.6" stroke="#1c1c1c" stroke-width="0.95" />
<line x1="507.7" y1="234" x2="513.1" y2="228.6" stroke="#1c1c1c" stroke-width="0.95" />
<line x1="517.7" y1="234" x2="523.1" y2="228.6" stroke="#1c1c1c" stroke-width="0.95" />
<line x1="140" y1="330.5" x2="524" y2="330.5" stroke="#9a9a9a" stroke-width="0.6" />
<line x1="149.8" y1="333.2" x2="155.2" y2="327.8" stroke="#1c1c1c" stroke-width="0.95" />
<line x1="161.55" y1="333.2" x2="166.95" y2="327.8" stroke="#1c1c1c" stroke-width="0.95" />
<line x1="237.3" y1="333.2" x2="242.7" y2="327.8" stroke="#1c1c1c" stroke-width="0.95" />
<line x1="241.05" y1="333.2" x2="246.45" y2="327.8" stroke="#1c1c1c" stroke-width="0.95" />
<line x1="266.05" y1="333.2" x2="271.45" y2="327.8" stroke="#1c1c1c" stroke-width="0.95" />
<line x1="273.55" y1="333.2" x2="278.95" y2="327.8" stroke="#1c1c1c" stroke-width="0.95" />
<line x1="347.3" y1="333.2" x2="352.7" y2="327.8" stroke="#1c1c1c" stroke-width="0.95" />
<line x1="354.8" y1="333.2" x2="360.2" y2="327.8" stroke="#1c1c1c" stroke-width="0.95" />
<line x1="402.8" y1="333.2" x2="408.2" y2="327.8" stroke="#1c1c1c" stroke-width="0.95" />
<line x1="406.05" y1="333.2" x2="411.45" y2="327.8" stroke="#1c1c1c" stroke-width="0.95" />
<line x1="507.7" y1="333.2" x2="513.1" y2="327.8" stroke="#1c1c1c" stroke-width="0.95" />
<line x1="517.7" y1="333.2" x2="523.1" y2="327.8" stroke="#1c1c1c" stroke-width="0.95" />
<line x1="156" y1="382" x2="365" y2="382" stroke="#9a9a9a" stroke-width="0.6" />
<line x1="164.8" y1="384.7" x2="170.2" y2="379.3" stroke="#1c1c1c" stroke-width="0.95" />
<line x1="176.05" y1="384.7" x2="181.45" y2="379.3" stroke="#1c1c1c" stroke-width="0.95" />
<line x1="266.05" y1="384.7" x2="271.45" y2="379.3" stroke="#1c1c1c" stroke-width="0.95" />
<line x1="273.55" y1="384.7" x2="278.95" y2="379.3" stroke="#1c1c1c" stroke-width="0.95" />
<line x1="347.3" y1="384.7" x2="352.7" y2="379.3" stroke="#1c1c1c" stroke-width="0.95" />
<line x1="358.3" y1="384.7" x2="363.7" y2="379.3" stroke="#1c1c1c" stroke-width="0.95" />
<line x1="399.5" y1="345" x2="399.5" y2="368" stroke="#9a9a9a" stroke-width="0.6" />
<line x1="396.8" y1="355.2" x2="402.2" y2="349.8" stroke="#1c1c1c" stroke-width="0.95" />
<line x1="396.8" y1="365.7" x2="402.2" y2="360.3" stroke="#1c1c1c" stroke-width="0.95" />
<line x1="389" y1="352" x2="389" y2="410" stroke="#9a9a9a" stroke-width="0.6" />
<line x1="458.5" y1="335" x2="458.5" y2="415" stroke="#9a9a9a" stroke-width="0.6" />
<line x1="303" y1="405" x2="303" y2="455" stroke="#9a9a9a" stroke-width="0.6" />
<line x1="234.5" y1="421" x2="234.5" y2="478" stroke="#9a9a9a" stroke-width="0.6" />
<line x1="119" y1="318.4" x2="170" y2="318.4" stroke="#9a9a9a" stroke-width="0.6" />
<line x1="507" y1="330.4" x2="615" y2="330.4" stroke="#9a9a9a" stroke-width="0.6" />
<line x1="507.7" y1="333.1" x2="513.1" y2="327.7" stroke="#1c1c1c" stroke-width="0.95" />
<line x1="517.7" y1="333.1" x2="523.1" y2="327.7" stroke="#1c1c1c" stroke-width="0.95" />
<line x1="597.8" y1="333.1" x2="603.2" y2="327.7" stroke="#1c1c1c" stroke-width="0.95" />
<line x1="608" y1="333.1" x2="613.4" y2="327.7" stroke="#1c1c1c" stroke-width="0.95" />
<line x1="581.7" y1="344" x2="581.7" y2="421" stroke="#9a9a9a" stroke-width="0.6" />
<line x1="548.5" y1="392" x2="548.5" y2="412" stroke="#9a9a9a" stroke-width="0.6" />
<line x1="545.8" y1="397.3" x2="551.2" y2="391.9" stroke="#1c1c1c" stroke-width="0.95" />
<line x1="545.8" y1="404.7" x2="551.2" y2="399.3" stroke="#1c1c1c" stroke-width="0.95" />
<line x1="596" y1="244" x2="915" y2="244" stroke="#9a9a9a" stroke-width="0.6" />
<line x1="600.5" y1="246.7" x2="605.9" y2="241.3" stroke="#1c1c1c" stroke-width="0.95" />
<line x1="608" y1="246.7" x2="613.4" y2="241.3" stroke="#1c1c1c" stroke-width="0.95" />
<line x1="630.6" y1="246.7" x2="636" y2="241.3" stroke="#1c1c1c" stroke-width="0.95" />
<line x1="633.3" y1="246.7" x2="638.7" y2="241.3" stroke="#1c1c1c" stroke-width="0.95" />
<line x1="679" y1="246.7" x2="684.4" y2="241.3" stroke="#1c1c1c" stroke-width="0.95" />
<line x1="696.8" y1="246.7" x2="702.2" y2="241.3" stroke="#1c1c1c" stroke-width="0.95" />
<line x1="767.1" y1="246.7" x2="772.5" y2="241.3" stroke="#1c1c1c" stroke-width="0.95" />
<line x1="769.9" y1="246.7" x2="775.3" y2="241.3" stroke="#1c1c1c" stroke-width="0.95" />
<line x1="795.9" y1="246.7" x2="801.3" y2="241.3" stroke="#1c1c1c" stroke-width="0.95" />
<line x1="803.3" y1="246.7" x2="808.7" y2="241.3" stroke="#1c1c1c" stroke-width="0.95" />
<line x1="900.3" y1="246.7" x2="905.7" y2="241.3" stroke="#1c1c1c" stroke-width="0.95" />
<line x1="911.3" y1="246.7" x2="916.7" y2="241.3" stroke="#1c1c1c" stroke-width="0.95" />
<line x1="716" y1="158.5" x2="915" y2="158.5" stroke="#9a9a9a" stroke-width="0.6" />
<line x1="727.3" y1="161.2" x2="732.7" y2="155.8" stroke="#1c1c1c" stroke-width="0.95" />
<line x1="738.6" y1="161.2" x2="744" y2="155.8" stroke="#1c1c1c" stroke-width="0.95" />
<line x1="823.6" y1="161.2" x2="829" y2="155.8" stroke="#1c1c1c" stroke-width="0.95" />
<line x1="826.9" y1="161.2" x2="832.3" y2="155.8" stroke="#1c1c1c" stroke-width="0.95" />
<line x1="896.1" y1="161.2" x2="901.5" y2="155.8" stroke="#1c1c1c" stroke-width="0.95" />
<line x1="908.6" y1="161.2" x2="914" y2="155.8" stroke="#1c1c1c" stroke-width="0.95" />
<line x1="754.8" y1="88" x2="754.8" y2="260" stroke="#9a9a9a" stroke-width="0.6" />
<line x1="752.1" y1="94" x2="757.5" y2="88.6" stroke="#1c1c1c" stroke-width="0.95" />
<line x1="752.1" y1="105.2" x2="757.5" y2="99.8" stroke="#1c1c1c" stroke-width="0.95" />
<line x1="752.1" y1="193.7" x2="757.5" y2="188.3" stroke="#1c1c1c" stroke-width="0.95" />
<line x1="752.1" y1="196" x2="757.5" y2="190.6" stroke="#1c1c1c" stroke-width="0.95" />
<line x1="752.1" y1="256.1" x2="757.5" y2="250.7" stroke="#1c1c1c" stroke-width="0.95" />
<line x1="752.1" y1="263.7" x2="757.5" y2="258.3" stroke="#1c1c1c" stroke-width="0.95" />
<line x1="880" y1="112" x2="880" y2="320" stroke="#9a9a9a" stroke-width="0.6" />
<line x1="877.3" y1="120.2" x2="882.7" y2="114.8" stroke="#1c1c1c" stroke-width="0.95" />
<line x1="877.3" y1="131.5" x2="882.7" y2="126.1" stroke="#1c1c1c" stroke-width="0.95" />
<line x1="877.3" y1="224" x2="882.7" y2="218.6" stroke="#1c1c1c" stroke-width="0.95" />
<line x1="877.3" y1="231.5" x2="882.7" y2="226.1" stroke="#1c1c1c" stroke-width="0.95" />
<line x1="877.3" y1="307.7" x2="882.7" y2="302.3" stroke="#1c1c1c" stroke-width="0.95" />
<line x1="877.3" y1="319" x2="882.7" y2="313.6" stroke="#1c1c1c" stroke-width="0.95" />
<line x1="596" y1="330.4" x2="815" y2="330.4" stroke="#9a9a9a" stroke-width="0.6" />
<line x1="597.3" y1="333.1" x2="602.7" y2="327.7" stroke="#1c1c1c" stroke-width="0.95" />
<line x1="608" y1="333.1" x2="613.4" y2="327.7" stroke="#1c1c1c" stroke-width="0.95" />
<line x1="795.9" y1="333.1" x2="801.3" y2="327.7" stroke="#1c1c1c" stroke-width="0.95" />
<line x1="806.9" y1="333.1" x2="812.3" y2="327.7" stroke="#1c1c1c" stroke-width="0.95" />
<line x1="755" y1="268" x2="755" y2="392" stroke="#9a9a9a" stroke-width="0.6" />
<line x1="752.3" y1="263.7" x2="757.7" y2="258.3" stroke="#1c1c1c" stroke-width="0.95" />
<line x1="752.3" y1="376.5" x2="757.7" y2="371.1" stroke="#1c1c1c" stroke-width="0.95" />
<line x1="752.3" y1="386.5" x2="757.7" y2="381.1" stroke="#1c1c1c" stroke-width="0.95" />
<line x1="661.5" y1="168" x2="661.5" y2="215" stroke="#9a9a9a" stroke-width="0.6" />
<line x1="645.6" y1="358" x2="645.6" y2="436" stroke="#9a9a9a" stroke-width="0.6" />
<line x1="730.5" y1="350" x2="730.5" y2="425" stroke="#9a9a9a" stroke-width="0.6" />
<line x1="912" y1="188.5" x2="960" y2="188.5" stroke="#9a9a9a" stroke-width="0.6" />
<line x1="884" y1="265" x2="960" y2="265" stroke="#9a9a9a" stroke-width="0.6" />
<line x1="812" y1="337.5" x2="860" y2="337.5" stroke="#9a9a9a" stroke-width="0.6" />
<line x1="713" y1="165" x2="713" y2="200" stroke="#9a9a9a" stroke-width="0.6" />
</g>
<g id="walls">
<path d="M261 176.3 L153.75 176.3 L145.75 176.3 L145.75 184.3 L145.75 190.3 L153.75 190.3 L153.75 184.3 L261 184.3 Z M326 188.3 L326 180.6 L299 180.6 L299 176.3 L275.75 176.3 L275.75 184.3 L291.5 184.3 L291.5 235.3 L285.8 235.3 L278.6 235.3 L278.6 242 L278.6 260.6 L267 260.6 L267 268.1 L304.6 268.1 L304.6 260.6 L285.8 260.6 L285.8 242 L291.5 242 L299 242 L299 235.3 L299 188.3 Z M155.7 298.3 L158.6 298.3 L163.4 298.3 L163.4 267.9 L243.75 267.9 L243.75 260.3 L153.75 260.3 L153.75 253.9 L145.75 253.9 L145.75 260.3 L145.75 267.9 L153.75 267.9 L155.7 267.9 Z M155.7 352 L155.7 360 L163.4 360 L171.25 360 L171.25 436.25 L171.25 443.75 L178.75 443.75 L215 443.75 L215 436.25 L178.75 436.25 L178.75 360 L243.75 360 L243.75 352 L163.4 352 L163.4 336.2 L155.7 336.2 Z M268.75 436.25 L252.5 436.25 L252.5 443.75 L268.75 443.75 L276.25 443.75 L276.25 436.25 L276.25 293.75 L268.75 293.75 Z M317.8 400.3 L349.6 400.3 L357.2 400.3 L357.2 392.7 L357.2 360.2 L367.7 360.2 L367.7 352.6 L357.2 352.6 L357.2 296.25 L349.6 296.25 L349.6 392.7 L317.8 392.7 L317.8 396.5 Z M349.9 188.3 L349.9 260.6 L322.9 260.6 L322.9 268.1 L349.9 268.1 L357.4 268.1 L357.4 260.6 L357.4 188.3 L358.4 188.3 L358.4 180.6 L339.8 180.6 L339.8 188.3 Z M517.6 195.9 L510.4 195.9 L502.4 195.9 L502.4 188.3 L502.4 180.6 L372.3 180.6 L372.3 188.3 L495.3 188.3 L495.3 195.9 L495.3 203.4 L502.4 203.4 L510.4 203.4 L510.4 352.5 L493.75 352.5 L493.75 360 L510.4 360 L517.6 360 L517.6 352.5 L517.6 203.4 Z M644.6 208.6 L610.7 208.6 L603.2 208.6 L603.2 215.75 L603.2 402 L610.7 402 L610.7 380.3 L626.8 380.3 L626.8 373.3 L610.7 373.3 L610.7 261 L659.7 261 L659.7 253.4 L610.7 253.4 L610.7 215.75 L644.6 215.75 Z M418 360 L418 352.5 L405.5 352.5 L405.5 360 Z M664.5 375.8 L664.5 380.2 L664.5 380.3 L695.9 380.3 L695.9 373.3 L664.5 373.3 Z M519.8 394.6 L519.8 402 L527 402 L562.4 402 L562.4 394.6 L527 394.6 L527 352.5 L519.8 352.5 Z M907 121.25 L899 121.25 L833.75 121.25 L833.75 102.5 L833.75 95 L826.25 95 L741.3 95 L733.75 95 L733.75 102.5 L733.75 161 L741.3 161 L741.3 102.5 L826.25 102.5 L826.25 121.25 L826.25 128.75 L833.75 128.75 L899 128.75 L899 167 L902.6 167 L906.6 167 L907 167 L907 128.75 Z M692.3 202.1 L692.3 208.4 L681.7 208.4 L681.7 215.5 L692.3 215.5 L699.2 215.5 L699.2 208.4 L699.2 202.1 L711.8 202.1 L711.8 194.5 L699.2 194.5 L692.3 194.5 Z M741.3 202.1 L741.3 194.5 L726.3 194.5 L726.3 202.1 Z M902.5 228.5 L902.5 244.2 L910 244.2 L910 228.5 L910 221.6 L906.8 221.6 L906.8 205.2 L899.3 205.2 L899.3 221.6 L829.6 221.6 L829.6 228.5 L899.3 228.5 Z M772.6 261 L772.6 253.4 L681.7 253.4 L681.7 261 Z M910.5 282.5 L903 282.5 L903 305 L806 305 L806 221.6 L798.6 221.6 L798.6 305 L798.6 312.5 L806 312.5 L903 312.5 L910.5 312.5 L910.5 305 Z M800.6 354 L798.6 354 L798.6 373 L763.6 373 L763.6 376 L763.6 380.4 L798.6 380.4 L805.8 380.4 L805.8 373 L805.8 354 L805 354 Z" fill="#fff" stroke="none" stroke-width="0.8" />
<path d="M519.8 363.2 L519.8 352.5 L520.5 352.5 L520.5 195.9 L520.5 193.3 L517.6 193.3 L505.3 193.3 L505.3 180.6 L505.3 176.3 L502.4 176.3 L372.3 176.3 L372.3 180.6 L502.4 180.6 L502.4 188.3 L502.4 193.3 L502.4 195.9 L505.3 195.9 L510.4 195.9 L517.6 195.9 L517.6 203.4 L517.6 352.5 L517.6 360 L510.4 360 L493.75 360 L493.75 363.2 L517.6 363.2 Z M358.4 180.6 L358.4 176.3 L339.8 176.3 L339.8 180.6 Z M326 176.3 L299 176.3 L299 180.6 L326 180.6 Z M153.75 267.9 L152.5 267.9 L152.5 298.3 L155.2 298.3 L155.7 298.3 L155.7 267.9 Z M603.2 215.75 L603.2 208.6 L610.7 208.6 L644.6 208.6 L644.6 204.8 L603.2 204.8 L599.8 204.8 L599.8 208.6 L599.8 402 L603.2 402 Z M171.25 360 L167.5 360 L163.4 360 L155.7 360 L155.7 352 L155.7 336.2 L152.5 336.2 L152.5 360 L152.5 363.5 L155.7 363.5 L167.5 363.5 L167.5 443.75 L167.5 447.5 L171.25 447.5 L215 447.5 L215 443.75 L178.75 443.75 L171.25 443.75 L171.25 436.25 L171.25 363.5 Z M418 363.2 L418 360 L405.5 360 L405.5 363.2 Z M317.8 401 L317.8 404.1 L357.2 404.1 L361.4 404.1 L361.4 400.3 L361.4 363.3 L367.7 363.3 L367.7 360.2 L361.4 360.2 L357.2 360.2 L357.2 363.3 L357.2 392.7 L357.2 400.3 L349.6 400.3 L317.8 400.3 Z M280 400 L276.25 400 L276.25 436.25 L276.25 443.75 L268.75 443.75 L252.5 443.75 L252.5 447.5 L276.25 447.5 L280 447.5 L280 443.75 Z M907 128.75 L907 166.25 L911.25 166.25 L911.25 121.25 L911.25 117.5 L907 117.5 L837.5 117.5 L837.5 95 L837.5 91.25 L833.75 91.25 L733.75 91.25 L730 91.25 L730 95 L730 161 L733.75 161 L733.75 102.5 L733.75 95 L741.3 95 L826.25 95 L833.75 95 L833.75 102.5 L833.75 117.5 L833.75 121.25 L837.5 121.25 L899 121.25 L907 121.25 Z M678.2 204.6 L678.2 208.4 L681.7 208.4 L688.9 208.4 L692.3 208.4 L692.3 204.6 L692.3 202.1 L692.3 194.5 L699.2 194.5 L711.8 194.5 L711.8 190.8 L692.3 190.8 L688.9 190.8 L688.9 194.5 L688.9 204.6 Z M734.4 190.8 L730 190.8 L726.3 190.8 L726.3 194.5 L734.4 194.5 Z M906.8 221.6 L910 221.6 L910 228.5 L910 244.2 L913.8 244.2 L913.8 221.6 L910.5 221.6 L910.5 205.2 L906.8 205.2 Z M903 312.5 L806 312.5 L806 316.25 L910.5 316.25 L914.25 316.25 L914.25 312.5 L914.25 282.5 L910.5 282.5 L910.5 305 L910.5 312.5 Z M805.8 354 L805.8 373 L805.8 380.4 L798.6 380.4 L763.6 380.4 L763.6 384.2 L805.8 384.2 L810 384.2 L810 380.4 L810 354 Z M695.9 384.1 L695.9 380.3 L664.5 380.3 L664.5 384.1 Z M626.8 380.3 L610.7 380.3 L610.7 384.1 L626.8 384.1 Z" fill="#fff" stroke="none" stroke-width="0.8" />
<path d="M145 90L-215 450M148.7 90L-211.3 450M152.4 90L-207.6 450M156.1 90L-203.9 450M159.8 90L-200.2 450M163.5 90L-196.5 450M167.2 90L-192.8 450M170.9 90L-189.1 450M174.6 90L-185.4 450M178.3 90L-181.7 450M182 90L-178 450M185.7 90L-174.3 450M189.4 90L-170.6 450M193.1 90L-166.9 450M196.8 90L-163.2 450M200.5 90L-159.5 450M204.2 90L-155.8 450M207.9 90L-152.1 450M211.6 90L-148.4 450M215.3 90L-144.7 450M219 90L-141 450M222.7 90L-137.3 450M226.4 90L-133.6 450M230.1 90L-129.9 450M233.8 90L-126.2 450M237.5 90L-122.5 450M241.2 90L-118.8 450M244.9 90L-115.1 450M248.6 90L-111.4 450M252.3 90L-107.7 450M256 90L-104 450M259.7 90L-100.3 450M263.4 90L-96.6 450M267.1 90L-92.9 450M270.8 90L-89.2 450M274.5 90L-85.5 450M278.2 90L-81.8 450M281.9 90L-78.1 450M285.6 90L-74.4 450M289.3 90L-70.7 450M293 90L-67 450M296.7 90L-63.3 450M300.4 90L-59.6 450M304.1 90L-55.9 450M307.8 90L-52.2 450M311.5 90L-48.5 450M315.2 90L-44.8 450M318.9 90L-41.1 450M322.6 90L-37.4 450M326.3 90L-33.7 450M330 90L-30 450M333.7 90L-26.3 450M337.4 90L-22.6 450M341.1 90L-18.9 450M344.8 90L-15.2 450M348.5 90L-11.5 450M352.2 90L-7.8 450M355.9 90L-4.1 450M359.6 90L-0.4 450M363.3 90L3.3 450M367 90L7 450M370.7 90L10.7 450M374.4 90L14.4 450M378.1 90L18.1 450M381.8 90L21.8 450M385.5 90L25.5 450M389.2 90L29.2 450M392.9 90L32.9 450M396.6 90L36.6 450M400.3 90L40.3 450M404 90L44 450M407.7 90L47.7 450M411.4 90L51.4 450M415.1 90L55.1 450M418.8 90L58.8 450M422.5 90L62.5 450M426.2 90L66.2 450M429.9 90L69.9 450M433.6 90L73.6 450M437.3 90L77.3 450M441 90L81 450M444.7 90L84.7 450M448.4 90L88.4 450M452.1 90L92.1 450M455.8 90L95.8 450M459.5 90L99.5 450M463.2 90L103.2 450M466.9 90L106.9 450M470.6 90L110.6 450M474.3 90L114.3 450M478 90L118 450M481.7 90L121.7 450M485.4 90L125.4 450M489.1 90L129.1 450M492.8 90L132.8 450M496.5 90L136.5 450M500.2 90L140.2 450M503.9 90L143.9 450M507.6 90L147.6 450M511.3 90L151.3 450M515 90L155 450M518.7 90L158.7 450M522.4 90L162.4 450M526.1 90L166.1 450M529.8 90L169.8 450M533.5 90L173.5 450M537.2 90L177.2 450M540.9 90L180.9 450M544.6 90L184.6 450M548.3 90L188.3 450M552 90L192 450M555.7 90L195.7 450M559.4 90L199.4 450M563.1 90L203.1 450M566.8 90L206.8 450M570.5 90L210.5 450M574.2 90L214.2 450M577.9 90L217.9 450M581.6 90L221.6 450M585.3 90L225.3 450M589 90L229 450M592.7 90L232.7 450M596.4 90L236.4 450M600.1 90L240.1 450M603.8 90L243.8 450M607.5 90L247.5 450M611.2 90L251.2 450M614.9 90L254.9 450M618.6 90L258.6 450M622.3 90L262.3 450M626 90L266 450M629.7 90L269.7 450M633.4 90L273.4 450M637.1 90L277.1 450M640.8 90L280.8 450M644.5 90L284.5 450M648.2 90L288.2 450M651.9 90L291.9 450M655.6 90L295.6 450M659.3 90L299.3 450M663 90L303 450M666.7 90L306.7 450M670.4 90L310.4 450M674.1 90L314.1 450M677.8 90L317.8 450M681.5 90L321.5 450M685.2 90L325.2 450M688.9 90L328.9 450M692.6 90L332.6 450M696.3 90L336.3 450M700 90L340 450M703.7 90L343.7 450M707.4 90L347.4 450M711.1 90L351.1 450M714.8 90L354.8 450M718.5 90L358.5 450M722.2 90L362.2 450M725.9 90L365.9 450M729.6 90L369.6 450M733.3 90L373.3 450M737 90L377 450M740.7 90L380.7 450M744.4 90L384.4 450M748.1 90L388.1 450M751.8 90L391.8 450M755.5 90L395.5 450M759.2 90L399.2 450M762.9 90L402.9 450M766.6 90L406.6 450M770.3 90L410.3 450M774 90L414 450M777.7 90L417.7 450M781.4 90L421.4 450M785.1 90L425.1 450M788.8 90L428.8 450M792.5 90L432.5 450M796.2 90L436.2 450M799.9 90L439.9 450M803.6 90L443.6 450M807.3 90L447.3 450M811 90L451 450M814.7 90L454.7 450M818.4 90L458.4 450M822.1 90L462.1 450M825.8 90L465.8 450M829.5 90L469.5 450M833.2 90L473.2 450M836.9 90L476.9 450M840.6 90L480.6 450M844.3 90L484.3 450M848 90L488 450M851.7 90L491.7 450M855.4 90L495.4 450M859.1 90L499.1 450M862.8 90L502.8 450M866.5 90L506.5 450M870.2 90L510.2 450M873.9 90L513.9 450M877.6 90L517.6 450M881.3 90L521.3 450M885 90L525 450M888.7 90L528.7 450M892.4 90L532.4 450M896.1 90L536.1 450M899.8 90L539.8 450M903.5 90L543.5 450M907.2 90L547.2 450M910.9 90L550.9 450M914.6 90L554.6 450M918.3 90L558.3 450M922 90L562 450M925.7 90L565.7 450M929.4 90L569.4 450M933.1 90L573.1 450M936.8 90L576.8 450M940.5 90L580.5 450M944.2 90L584.2 450M947.9 90L587.9 450M951.6 90L591.6 450M955.3 90L595.3 450M959 90L599 450M962.7 90L602.7 450M966.4 90L606.4 450M970.1 90L610.1 450M973.8 90L613.8 450M977.5 90L617.5 450M981.2 90L621.2 450M984.9 90L624.9 450M988.6 90L628.6 450M992.3 90L632.3 450M996 90L636 450M999.7 90L639.7 450M1003.4 90L643.4 450M1007.1 90L647.1 450M1010.8 90L650.8 450M1014.5 90L654.5 450M1018.2 90L658.2 450M1021.9 90L661.9 450M1025.6 90L665.6 450M1029.3 90L669.3 450M1033 90L673 450M1036.7 90L676.7 450M1040.4 90L680.4 450M1044.1 90L684.1 450M1047.8 90L687.8 450M1051.5 90L691.5 450M1055.2 90L695.2 450M1058.9 90L698.9 450M1062.6 90L702.6 450M1066.3 90L706.3 450M1070 90L710 450M1073.7 90L713.7 450M1077.4 90L717.4 450M1081.1 90L721.1 450M1084.8 90L724.8 450M1088.5 90L728.5 450M1092.2 90L732.2 450M1095.9 90L735.9 450M1099.6 90L739.6 450M1103.3 90L743.3 450M1107 90L747 450M1110.7 90L750.7 450M1114.4 90L754.4 450M1118.1 90L758.1 450M1121.8 90L761.8 450M1125.5 90L765.5 450M1129.2 90L769.2 450M1132.9 90L772.9 450M1136.6 90L776.6 450M1140.3 90L780.3 450M1144 90L784 450M1147.7 90L787.7 450M1151.4 90L791.4 450M1155.1 90L795.1 450M1158.8 90L798.8 450M1162.5 90L802.5 450M1166.2 90L806.2 450M1169.9 90L809.9 450M1173.6 90L813.6 450M1177.3 90L817.3 450M1181 90L821 450M1184.7 90L824.7 450M1188.4 90L828.4 450M1192.1 90L832.1 450M1195.8 90L835.8 450M1199.5 90L839.5 450M1203.2 90L843.2 450M1206.9 90L846.9 450M1210.6 90L850.6 450M1214.3 90L854.3 450M1218 90L858 450M1221.7 90L861.7 450M1225.4 90L865.4 450M1229.1 90L869.1 450M1232.8 90L872.8 450M1236.5 90L876.5 450M1240.2 90L880.2 450M1243.9 90L883.9 450M1247.6 90L887.6 450M1251.3 90L891.3 450M1255 90L895 450M1258.7 90L898.7 450M1262.4 90L902.4 450M1266.1 90L906.1 450M1269.8 90L909.8 450M1273.5 90L913.5 450" stroke="#383838" stroke-width="0.6" fill="none" clip-path="url(#hc)"/>
<path d="M145 90L-215 450M148 90L-212 450M151 90L-209 450M154 90L-206 450M157 90L-203 450M160 90L-200 450M163 90L-197 450M166 90L-194 450M169 90L-191 450M172 90L-188 450M175 90L-185 450M178 90L-182 450M181 90L-179 450M184 90L-176 450M187 90L-173 450M190 90L-170 450M193 90L-167 450M196 90L-164 450M199 90L-161 450M202 90L-158 450M205 90L-155 450M208 90L-152 450M211 90L-149 450M214 90L-146 450M217 90L-143 450M220 90L-140 450M223 90L-137 450M226 90L-134 450M229 90L-131 450M232 90L-128 450M235 90L-125 450M238 90L-122 450M241 90L-119 450M244 90L-116 450M247 90L-113 450M250 90L-110 450M253 90L-107 450M256 90L-104 450M259 90L-101 450M262 90L-98 450M265 90L-95 450M268 90L-92 450M271 90L-89 450M274 90L-86 450M277 90L-83 450M280 90L-80 450M283 90L-77 450M286 90L-74 450M289 90L-71 450M292 90L-68 450M295 90L-65 450M298 90L-62 450M301 90L-59 450M304 90L-56 450M307 90L-53 450M310 90L-50 450M313 90L-47 450M316 90L-44 450M319 90L-41 450M322 90L-38 450M325 90L-35 450M328 90L-32 450M331 90L-29 450M334 90L-26 450M337 90L-23 450M340 90L-20 450M343 90L-17 450M346 90L-14 450M349 90L-11 450M352 90L-8 450M355 90L-5 450M358 90L-2 450M361 90L1 450M364 90L4 450M367 90L7 450M370 90L10 450M373 90L13 450M376 90L16 450M379 90L19 450M382 90L22 450M385 90L25 450M388 90L28 450M391 90L31 450M394 90L34 450M397 90L37 450M400 90L40 450M403 90L43 450M406 90L46 450M409 90L49 450M412 90L52 450M415 90L55 450M418 90L58 450M421 90L61 450M424 90L64 450M427 90L67 450M430 90L70 450M433 90L73 450M436 90L76 450M439 90L79 450M442 90L82 450M445 90L85 450M448 90L88 450M451 90L91 450M454 90L94 450M457 90L97 450M460 90L100 450M463 90L103 450M466 90L106 450M469 90L109 450M472 90L112 450M475 90L115 450M478 90L118 450M481 90L121 450M484 90L124 450M487 90L127 450M490 90L130 450M493 90L133 450M496 90L136 450M499 90L139 450M502 90L142 450M505 90L145 450M508 90L148 450M511 90L151 450M514 90L154 450M517 90L157 450M520 90L160 450M523 90L163 450M526 90L166 450M529 90L169 450M532 90L172 450M535 90L175 450M538 90L178 450M541 90L181 450M544 90L184 450M547 90L187 450M550 90L190 450M553 90L193 450M556 90L196 450M559 90L199 450M562 90L202 450M565 90L205 450M568 90L208 450M571 90L211 450M574 90L214 450M577 90L217 450M580 90L220 450M583 90L223 450M586 90L226 450M589 90L229 450M592 90L232 450M595 90L235 450M598 90L238 450M601 90L241 450M604 90L244 450M607 90L247 450M610 90L250 450M613 90L253 450M616 90L256 450M619 90L259 450M622 90L262 450M625 90L265 450M628 90L268 450M631 90L271 450M634 90L274 450M637 90L277 450M640 90L280 450M643 90L283 450M646 90L286 450M649 90L289 450M652 90L292 450M655 90L295 450M658 90L298 450M661 90L301 450M664 90L304 450M667 90L307 450M670 90L310 450M673 90L313 450M676 90L316 450M679 90L319 450M682 90L322 450M685 90L325 450M688 90L328 450M691 90L331 450M694 90L334 450M697 90L337 450M700 90L340 450M703 90L343 450M706 90L346 450M709 90L349 450M712 90L352 450M715 90L355 450M718 90L358 450M721 90L361 450M724 90L364 450M727 90L367 450M730 90L370 450M733 90L373 450M736 90L376 450M739 90L379 450M742 90L382 450M745 90L385 450M748 90L388 450M751 90L391 450M754 90L394 450M757 90L397 450M760 90L400 450M763 90L403 450M766 90L406 450M769 90L409 450M772 90L412 450M775 90L415 450M778 90L418 450M781 90L421 450M784 90L424 450M787 90L427 450M790 90L430 450M793 90L433 450M796 90L436 450M799 90L439 450M802 90L442 450M805 90L445 450M808 90L448 450M811 90L451 450M814 90L454 450M817 90L457 450M820 90L460 450M823 90L463 450M826 90L466 450M829 90L469 450M832 90L472 450M835 90L475 450M838 90L478 450M841 90L481 450M844 90L484 450M847 90L487 450M850 90L490 450M853 90L493 450M856 90L496 450M859 90L499 450M862 90L502 450M865 90L505 450M868 90L508 450M871 90L511 450M874 90L514 450M877 90L517 450M880 90L520 450M883 90L523 450M886 90L526 450M889 90L529 450M892 90L532 450M895 90L535 450M898 90L538 450M901 90L541 450M904 90L544 450M907 90L547 450M910 90L550 450M913 90L553 450M916 90L556 450M919 90L559 450M922 90L562 450M925 90L565 450M928 90L568 450M931 90L571 450M934 90L574 450M937 90L577 450M940 90L580 450M943 90L583 450M946 90L586 450M949 90L589 450M952 90L592 450M955 90L595 450M958 90L598 450M961 90L601 450M964 90L604 450M967 90L607 450M970 90L610 450M973 90L613 450M976 90L616 450M979 90L619 450M982 90L622 450M985 90L625 450M988 90L628 450M991 90L631 450M994 90L634 450M997 90L637 450M1000 90L640 450M1003 90L643 450M1006 90L646 450M1009 90L649 450M1012 90L652 450M1015 90L655 450M1018 90L658 450M1021 90L661 450M1024 90L664 450M1027 90L667 450M1030 90L670 450M1033 90L673 450M1036 90L676 450M1039 90L679 450M1042 90L682 450M1045 90L685 450M1048 90L688 450M1051 90L691 450M1054 90L694 450M1057 90L697 450M1060 90L700 450M1063 90L703 450M1066 90L706 450M1069 90L709 450M1072 90L712 450M1075 90L715 450M1078 90L718 450M1081 90L721 450M1084 90L724 450M1087 90L727 450M1090 90L730 450M1093 90L733 450M1096 90L736 450M1099 90L739 450M1102 90L742 450M1105 90L745 450M1108 90L748 450M1111 90L751 450M1114 90L754 450M1117 90L757 450M1120 90L760 450M1123 90L763 450M1126 90L766 450M1129 90L769 450M1132 90L772 450M1135 90L775 450M1138 90L778 450M1141 90L781 450M1144 90L784 450M1147 90L787 450M1150 90L790 450M1153 90L793 450M1156 90L796 450M1159 90L799 450M1162 90L802 450M1165 90L805 450M1168 90L808 450M1171 90L811 450M1174 90L814 450M1177 90L817 450M1180 90L820 450M1183 90L823 450M1186 90L826 450M1189 90L829 450M1192 90L832 450M1195 90L835 450M1198 90L838 450M1201 90L841 450M1204 90L844 450M1207 90L847 450M1210 90L850 450M1213 90L853 450M1216 90L856 450M1219 90L859 450M1222 90L862 450M1225 90L865 450M1228 90L868 450M1231 90L871 450M1234 90L874 450M1237 90L877 450M1240 90L880 450M1243 90L883 450M1246 90L886 450M1249 90L889 450M1252 90L892 450M1255 90L895 450M1258 90L898 450M1261 90L901 450M1264 90L904 450M1267 90L907 450M1270 90L910 450M1273 90L913 450M-215 90L145 450M-212 90L148 450M-209 90L151 450M-206 90L154 450M-203 90L157 450M-200 90L160 450M-197 90L163 450M-194 90L166 450M-191 90L169 450M-188 90L172 450M-185 90L175 450M-182 90L178 450M-179 90L181 450M-176 90L184 450M-173 90L187 450M-170 90L190 450M-167 90L193 450M-164 90L196 450M-161 90L199 450M-158 90L202 450M-155 90L205 450M-152 90L208 450M-149 90L211 450M-146 90L214 450M-143 90L217 450M-140 90L220 450M-137 90L223 450M-134 90L226 450M-131 90L229 450M-128 90L232 450M-125 90L235 450M-122 90L238 450M-119 90L241 450M-116 90L244 450M-113 90L247 450M-110 90L250 450M-107 90L253 450M-104 90L256 450M-101 90L259 450M-98 90L262 450M-95 90L265 450M-92 90L268 450M-89 90L271 450M-86 90L274 450M-83 90L277 450M-80 90L280 450M-77 90L283 450M-74 90L286 450M-71 90L289 450M-68 90L292 450M-65 90L295 450M-62 90L298 450M-59 90L301 450M-56 90L304 450M-53 90L307 450M-50 90L310 450M-47 90L313 450M-44 90L316 450M-41 90L319 450M-38 90L322 450M-35 90L325 450M-32 90L328 450M-29 90L331 450M-26 90L334 450M-23 90L337 450M-20 90L340 450M-17 90L343 450M-14 90L346 450M-11 90L349 450M-8 90L352 450M-5 90L355 450M-2 90L358 450M1 90L361 450M4 90L364 450M7 90L367 450M10 90L370 450M13 90L373 450M16 90L376 450M19 90L379 450M22 90L382 450M25 90L385 450M28 90L388 450M31 90L391 450M34 90L394 450M37 90L397 450M40 90L400 450M43 90L403 450M46 90L406 450M49 90L409 450M52 90L412 450M55 90L415 450M58 90L418 450M61 90L421 450M64 90L424 450M67 90L427 450M70 90L430 450M73 90L433 450M76 90L436 450M79 90L439 450M82 90L442 450M85 90L445 450M88 90L448 450M91 90L451 450M94 90L454 450M97 90L457 450M100 90L460 450M103 90L463 450M106 90L466 450M109 90L469 450M112 90L472 450M115 90L475 450M118 90L478 450M121 90L481 450M124 90L484 450M127 90L487 450M130 90L490 450M133 90L493 450M136 90L496 450M139 90L499 450M142 90L502 450M145 90L505 450M148 90L508 450M151 90L511 450M154 90L514 450M157 90L517 450M160 90L520 450M163 90L523 450M166 90L526 450M169 90L529 450M172 90L532 450M175 90L535 450M178 90L538 450M181 90L541 450M184 90L544 450M187 90L547 450M190 90L550 450M193 90L553 450M196 90L556 450M199 90L559 450M202 90L562 450M205 90L565 450M208 90L568 450M211 90L571 450M214 90L574 450M217 90L577 450M220 90L580 450M223 90L583 450M226 90L586 450M229 90L589 450M232 90L592 450M235 90L595 450M238 90L598 450M241 90L601 450M244 90L604 450M247 90L607 450M250 90L610 450M253 90L613 450M256 90L616 450M259 90L619 450M262 90L622 450M265 90L625 450M268 90L628 450M271 90L631 450M274 90L634 450M277 90L637 450M280 90L640 450M283 90L643 450M286 90L646 450M289 90L649 450M292 90L652 450M295 90L655 450M298 90L658 450M301 90L661 450M304 90L664 450M307 90L667 450M310 90L670 450M313 90L673 450M316 90L676 450M319 90L679 450M322 90L682 450M325 90L685 450M328 90L688 450M331 90L691 450M334 90L694 450M337 90L697 450M340 90L700 450M343 90L703 450M346 90L706 450M349 90L709 450M352 90L712 450M355 90L715 450M358 90L718 450M361 90L721 450M364 90L724 450M367 90L727 450M370 90L730 450M373 90L733 450M376 90L736 450M379 90L739 450M382 90L742 450M385 90L745 450M388 90L748 450M391 90L751 450M394 90L754 450M397 90L757 450M400 90L760 450M403 90L763 450M406 90L766 450M409 90L769 450M412 90L772 450M415 90L775 450M418 90L778 450M421 90L781 450M424 90L784 450M427 90L787 450M430 90L790 450M433 90L793 450M436 90L796 450M439 90L799 450M442 90L802 450M445 90L805 450M448 90L808 450M451 90L811 450M454 90L814 450M457 90L817 450M460 90L820 450M463 90L823 450M466 90L826 450M469 90L829 450M472 90L832 450M475 90L835 450M478 90L838 450M481 90L841 450M484 90L844 450M487 90L847 450M490 90L850 450M493 90L853 450M496 90L856 450M499 90L859 450M502 90L862 450M505 90L865 450M508 90L868 450M511 90L871 450M514 90L874 450M517 90L877 450M520 90L880 450M523 90L883 450M526 90L886 450M529 90L889 450M532 90L892 450M535 90L895 450M538 90L898 450M541 90L901 450M544 90L904 450M547 90L907 450M550 90L910 450M553 90L913 450M556 90L916 450M559 90L919 450M562 90L922 450M565 90L925 450M568 90L928 450M571 90L931 450M574 90L934 450M577 90L937 450M580 90L940 450M583 90L943 450M586 90L946 450M589 90L949 450M592 90L952 450M595 90L955 450M598 90L958 450M601 90L961 450M604 90L964 450M607 90L967 450M610 90L970 450M613 90L973 450M616 90L976 450M619 90L979 450M622 90L982 450M625 90L985 450M628 90L988 450M631 90L991 450M634 90L994 450M637 90L997 450M640 90L1000 450M643 90L1003 450M646 90L1006 450M649 90L1009 450M652 90L1012 450M655 90L1015 450M658 90L1018 450M661 90L1021 450M664 90L1024 450M667 90L1027 450M670 90L1030 450M673 90L1033 450M676 90L1036 450M679 90L1039 450M682 90L1042 450M685 90L1045 450M688 90L1048 450M691 90L1051 450M694 90L1054 450M697 90L1057 450M700 90L1060 450M703 90L1063 450M706 90L1066 450M709 90L1069 450M712 90L1072 450M715 90L1075 450M718 90L1078 450M721 90L1081 450M724 90L1084 450M727 90L1087 450M730 90L1090 450M733 90L1093 450M736 90L1096 450M739 90L1099 450M742 90L1102 450M745 90L1105 450M748 90L1108 450M751 90L1111 450M754 90L1114 450M757 90L1117 450M760 90L1120 450M763 90L1123 450M766 90L1126 450M769 90L1129 450M772 90L1132 450M775 90L1135 450M778 90L1138 450M781 90L1141 450M784 90L1144 450M787 90L1147 450M790 90L1150 450M793 90L1153 450M796 90L1156 450M799 90L1159 450M802 90L1162 450M805 90L1165 450M808 90L1168 450M811 90L1171 450M814 90L1174 450M817 90L1177 450M820 90L1180 450M823 90L1183 450M826 90L1186 450M829 90L1189 450M832 90L1192 450M835 90L1195 450M838 90L1198 450M841 90L1201 450M844 90L1204 450M847 90L1207 450M850 90L1210 450M853 90L1213 450M856 90L1216 450M859 90L1219 450M862 90L1222 450M865 90L1225 450M868 90L1228 450M871 90L1231 450M874 90L1234 450M877 90L1237 450M880 90L1240 450M883 90L1243 450M886 90L1246 450M889 90L1249 450M892 90L1252 450M895 90L1255 450M898 90L1258 450M901 90L1261 450M904 90L1264 450M907 90L1267 450M910 90L1270 450M913 90L1273 450" stroke="#979797" stroke-width="0.5" fill="none" clip-path="url(#ic)"/>
<path d="M519.8 363.2 L519.8 352.5 L520.5 352.5 L520.5 195.9 L520.5 193.3 L517.6 193.3 L505.3 193.3 L505.3 180.6 L505.3 176.3 L502.4 176.3 L372.3 176.3 L372.3 180.6 L502.4 180.6 L502.4 188.3 L502.4 193.3 L502.4 195.9 L505.3 195.9 L510.4 195.9 L517.6 195.9 L517.6 203.4 L517.6 352.5 L517.6 360 L510.4 360 L493.75 360 L493.75 363.2 L517.6 363.2 Z M358.4 180.6 L358.4 176.3 L339.8 176.3 L339.8 180.6 Z M326 176.3 L299 176.3 L299 180.6 L326 180.6 Z M153.75 267.9 L152.5 267.9 L152.5 298.3 L155.2 298.3 L155.7 298.3 L155.7 267.9 Z M603.2 215.75 L603.2 208.6 L610.7 208.6 L644.6 208.6 L644.6 204.8 L603.2 204.8 L599.8 204.8 L599.8 208.6 L599.8 402 L603.2 402 Z M171.25 360 L167.5 360 L163.4 360 L155.7 360 L155.7 352 L155.7 336.2 L152.5 336.2 L152.5 360 L152.5 363.5 L155.7 363.5 L167.5 363.5 L167.5 443.75 L167.5 447.5 L171.25 447.5 L215 447.5 L215 443.75 L178.75 443.75 L171.25 443.75 L171.25 436.25 L171.25 363.5 Z M418 363.2 L418 360 L405.5 360 L405.5 363.2 Z M317.8 401 L317.8 404.1 L357.2 404.1 L361.4 404.1 L361.4 400.3 L361.4 363.3 L367.7 363.3 L367.7 360.2 L361.4 360.2 L357.2 360.2 L357.2 363.3 L357.2 392.7 L357.2 400.3 L349.6 400.3 L317.8 400.3 Z M280 400 L276.25 400 L276.25 436.25 L276.25 443.75 L268.75 443.75 L252.5 443.75 L252.5 447.5 L276.25 447.5 L280 447.5 L280 443.75 Z M907 128.75 L907 166.25 L911.25 166.25 L911.25 121.25 L911.25 117.5 L907 117.5 L837.5 117.5 L837.5 95 L837.5 91.25 L833.75 91.25 L733.75 91.25 L730 91.25 L730 95 L730 161 L733.75 161 L733.75 102.5 L733.75 95 L741.3 95 L826.25 95 L833.75 95 L833.75 102.5 L833.75 117.5 L833.75 121.25 L837.5 121.25 L899 121.25 L907 121.25 Z M678.2 204.6 L678.2 208.4 L681.7 208.4 L688.9 208.4 L692.3 208.4 L692.3 204.6 L692.3 202.1 L692.3 194.5 L699.2 194.5 L711.8 194.5 L711.8 190.8 L692.3 190.8 L688.9 190.8 L688.9 194.5 L688.9 204.6 Z M734.4 190.8 L730 190.8 L726.3 190.8 L726.3 194.5 L734.4 194.5 Z M906.8 221.6 L910 221.6 L910 228.5 L910 244.2 L913.8 244.2 L913.8 221.6 L910.5 221.6 L910.5 205.2 L906.8 205.2 Z M903 312.5 L806 312.5 L806 316.25 L910.5 316.25 L914.25 316.25 L914.25 312.5 L914.25 282.5 L910.5 282.5 L910.5 305 L910.5 312.5 Z M805.8 354 L805.8 373 L805.8 380.4 L798.6 380.4 L763.6 380.4 L763.6 384.2 L805.8 384.2 L810 384.2 L810 380.4 L810 354 Z M695.9 384.1 L695.9 380.3 L664.5 380.3 L664.5 384.1 Z M626.8 380.3 L610.7 380.3 L610.7 384.1 L626.8 384.1 Z" fill="none" stroke="#777" stroke-width="0.6" />
<path d="M261 176.3 L153.75 176.3 L145.75 176.3 L145.75 184.3 L145.75 190.3 L153.75 190.3 L153.75 184.3 L261 184.3 Z M326 188.3 L326 180.6 L299 180.6 L299 176.3 L275.75 176.3 L275.75 184.3 L291.5 184.3 L291.5 235.3 L285.8 235.3 L278.6 235.3 L278.6 242 L278.6 260.6 L267 260.6 L267 268.1 L304.6 268.1 L304.6 260.6 L285.8 260.6 L285.8 242 L291.5 242 L299 242 L299 235.3 L299 188.3 Z M155.7 298.3 L158.6 298.3 L163.4 298.3 L163.4 267.9 L243.75 267.9 L243.75 260.3 L153.75 260.3 L153.75 253.9 L145.75 253.9 L145.75 260.3 L145.75 267.9 L153.75 267.9 L155.7 267.9 Z M155.7 352 L155.7 360 L163.4 360 L171.25 360 L171.25 436.25 L171.25 443.75 L178.75 443.75 L215 443.75 L215 436.25 L178.75 436.25 L178.75 360 L243.75 360 L243.75 352 L163.4 352 L163.4 336.2 L155.7 336.2 Z M268.75 436.25 L252.5 436.25 L252.5 443.75 L268.75 443.75 L276.25 443.75 L276.25 436.25 L276.25 293.75 L268.75 293.75 Z M317.8 400.3 L349.6 400.3 L357.2 400.3 L357.2 392.7 L357.2 360.2 L367.7 360.2 L367.7 352.6 L357.2 352.6 L357.2 296.25 L349.6 296.25 L349.6 392.7 L317.8 392.7 L317.8 396.5 Z M349.9 188.3 L349.9 260.6 L322.9 260.6 L322.9 268.1 L349.9 268.1 L357.4 268.1 L357.4 260.6 L357.4 188.3 L358.4 188.3 L358.4 180.6 L339.8 180.6 L339.8 188.3 Z M517.6 195.9 L510.4 195.9 L502.4 195.9 L502.4 188.3 L502.4 180.6 L372.3 180.6 L372.3 188.3 L495.3 188.3 L495.3 195.9 L495.3 203.4 L502.4 203.4 L510.4 203.4 L510.4 352.5 L493.75 352.5 L493.75 360 L510.4 360 L517.6 360 L517.6 352.5 L517.6 203.4 Z M644.6 208.6 L610.7 208.6 L603.2 208.6 L603.2 215.75 L603.2 402 L610.7 402 L610.7 380.3 L626.8 380.3 L626.8 373.3 L610.7 373.3 L610.7 261 L659.7 261 L659.7 253.4 L610.7 253.4 L610.7 215.75 L644.6 215.75 Z M418 360 L418 352.5 L405.5 352.5 L405.5 360 Z M664.5 375.8 L664.5 380.2 L664.5 380.3 L695.9 380.3 L695.9 373.3 L664.5 373.3 Z M519.8 394.6 L519.8 402 L527 402 L562.4 402 L562.4 394.6 L527 394.6 L527 352.5 L519.8 352.5 Z M907 121.25 L899 121.25 L833.75 121.25 L833.75 102.5 L833.75 95 L826.25 95 L741.3 95 L733.75 95 L733.75 102.5 L733.75 161 L741.3 161 L741.3 102.5 L826.25 102.5 L826.25 121.25 L826.25 128.75 L833.75 128.75 L899 128.75 L899 167 L902.6 167 L906.6 167 L907 167 L907 128.75 Z M692.3 202.1 L692.3 208.4 L681.7 208.4 L681.7 215.5 L692.3 215.5 L699.2 215.5 L699.2 208.4 L699.2 202.1 L711.8 202.1 L711.8 194.5 L699.2 194.5 L692.3 194.5 Z M741.3 202.1 L741.3 194.5 L726.3 194.5 L726.3 202.1 Z M902.5 228.5 L902.5 244.2 L910 244.2 L910 228.5 L910 221.6 L906.8 221.6 L906.8 205.2 L899.3 205.2 L899.3 221.6 L829.6 221.6 L829.6 228.5 L899.3 228.5 Z M772.6 261 L772.6 253.4 L681.7 253.4 L681.7 261 Z M910.5 282.5 L903 282.5 L903 305 L806 305 L806 221.6 L798.6 221.6 L798.6 305 L798.6 312.5 L806 312.5 L903 312.5 L910.5 312.5 L910.5 305 Z M800.6 354 L798.6 354 L798.6 373 L763.6 373 L763.6 376 L763.6 380.4 L798.6 380.4 L805.8 380.4 L805.8 373 L805.8 354 L805 354 Z" fill="none" stroke="#1c1c1c" stroke-width="0.9" />
<path d="M388.25 188.3 L385 188.3 L385 203.75 L388.25 203.75 Z M385 265.2 L377.5 265.2 L377.5 268.3 L408.3 268.3 L408.3 265.2 L388.25 265.2 L388.25 222.5 L385 222.5 L385 225 L357.4 225 L357.4 227.5 L385 227.5 Z M243.75 267.9 L240 267.9 L240 312.5 L243.75 312.5 Z M657 290.8 L657 280 L654.4 280 L654.4 290.8 L610.7 290.8 L610.7 294 L654.4 294 L657 294 Z M367.5 293.75 L300.5 293.75 L300.5 296.25 L367.5 296.25 Z M408.75 292.5 L405.5 292.5 L405.5 352.5 L408.75 352.5 Z M243.75 336 L240 336 L240 352 L243.75 352 Z M820.8 194 L833.4 194 L833.4 191.2 L828.3 191.2 L828.3 128.75 L825.2 128.75 L825.2 191.2 L820.8 191.2 Z M769.8 210.25 L772.6 210.25 L772.6 193.2 L798.75 193.2 L798.75 190.6 L741.3 190.6 L741.3 193.2 L769.8 193.2 Z M833.4 216.5 L829.6 216.5 L829.6 221.6 L833.4 221.6 Z M635.9 215.75 L633.3 215.75 L633.3 240 L635.9 240 Z M769.8 229.1 L769.8 253.4 L772.6 253.4 L772.6 229.1 Z" fill="#eee" stroke="#2a2a2a" stroke-width="0.7" />
<rect x="261" y="176.3" width="14.75" height="8" fill="#fff" stroke="#777" stroke-width="0.6" />
<line x1="261" y1="179.3" x2="275.75" y2="179.3" stroke="#888" stroke-width="0.5" />
<line x1="261" y1="181.3" x2="275.75" y2="181.3" stroke="#888" stroke-width="0.5" />
<rect x="326" y="176.3" width="13.8" height="12" fill="#fff" stroke="#777" stroke-width="0.6" />
<line x1="326" y1="181.3" x2="339.8" y2="181.3" stroke="#888" stroke-width="0.5" />
<line x1="326" y1="183.3" x2="339.8" y2="183.3" stroke="#888" stroke-width="0.5" />
<rect x="358.4" y="176.3" width="13.9" height="12" fill="#fff" stroke="#777" stroke-width="0.6" />
<line x1="358.4" y1="181.3" x2="372.3" y2="181.3" stroke="#888" stroke-width="0.5" />
<line x1="358.4" y1="183.3" x2="372.3" y2="183.3" stroke="#888" stroke-width="0.5" />
<rect x="215" y="436.25" width="15" height="11.25" fill="#fff" stroke="#777" stroke-width="0.6" />
<line x1="215" y1="440.88" x2="230" y2="440.88" stroke="#888" stroke-width="0.5" />
<line x1="215" y1="442.88" x2="230" y2="442.88" stroke="#888" stroke-width="0.5" />
<rect x="304" y="396.5" width="13.8" height="4.5" fill="#fff" stroke="#777" stroke-width="0.6" />
<line x1="304" y1="397.75" x2="317.8" y2="397.75" stroke="#888" stroke-width="0.5" />
<line x1="304" y1="399.75" x2="317.8" y2="399.75" stroke="#888" stroke-width="0.5" />
<rect x="730" y="161" width="11.3" height="29.8" fill="#fff" stroke="#777" stroke-width="0.6" />
<line x1="734.65" y1="161" x2="734.65" y2="190.8" stroke="#888" stroke-width="0.5" />
<line x1="736.65" y1="161" x2="736.65" y2="190.8" stroke="#888" stroke-width="0.5" />
<rect x="711.8" y="190.8" width="14.5" height="11.3" fill="#fff" stroke="#777" stroke-width="0.6" />
<line x1="711.8" y1="195.45" x2="726.3" y2="195.45" stroke="#888" stroke-width="0.5" />
<line x1="711.8" y1="197.45" x2="726.3" y2="197.45" stroke="#888" stroke-width="0.5" />
<rect x="902.6" y="167" width="4" height="15.3" fill="#fff" stroke="#777" stroke-width="0.6" />
<line x1="903.6" y1="167" x2="903.6" y2="182.3" stroke="#888" stroke-width="0.5" />
<line x1="905.6" y1="167" x2="905.6" y2="182.3" stroke="#888" stroke-width="0.5" />
<rect x="903" y="267.5" width="11.25" height="15" fill="#fff" stroke="#777" stroke-width="0.6" />
<line x1="907.62" y1="267.5" x2="907.62" y2="282.5" stroke="#888" stroke-width="0.5" />
<line x1="909.62" y1="267.5" x2="909.62" y2="282.5" stroke="#888" stroke-width="0.5" />
<rect x="800.6" y="339.6" width="4.4" height="14.4" fill="#fff" stroke="#777" stroke-width="0.6" />
<line x1="801.8" y1="339.6" x2="801.8" y2="354" stroke="#888" stroke-width="0.5" />
<line x1="803.8" y1="339.6" x2="803.8" y2="354" stroke="#888" stroke-width="0.5" />
<rect x="649.4" y="375.8" width="15.1" height="4.4" fill="#fff" stroke="#777" stroke-width="0.6" />
<line x1="649.4" y1="377" x2="664.5" y2="377" stroke="#888" stroke-width="0.5" />
<line x1="649.4" y1="379" x2="664.5" y2="379" stroke="#888" stroke-width="0.5" />
<rect x="740.3" y="376" width="23.3" height="4.4" fill="#fff" stroke="#777" stroke-width="0.6" />
<line x1="740.3" y1="377.2" x2="763.6" y2="377.2" stroke="#888" stroke-width="0.5" />
<line x1="740.3" y1="379.2" x2="763.6" y2="379.2" stroke="#888" stroke-width="0.5" />
<rect x="155.2" y="298.3" width="3.4" height="15.1" fill="#fff" stroke="#777" stroke-width="0.6" />
<line x1="155.9" y1="298.3" x2="155.9" y2="313.4" stroke="#888" stroke-width="0.5" />
<line x1="157.9" y1="298.3" x2="157.9" y2="313.4" stroke="#888" stroke-width="0.5" />
</g>
<g id="furn">
<line x1="153.6" y1="190.3" x2="153.6" y2="253.9" stroke="#333" stroke-width="0.9" />
<line x1="146" y1="190.3" x2="146" y2="253.9" stroke="#aaa" stroke-width="0.6" />
<rect x="173" y="168.7" width="15" height="7.6" fill="none" stroke="#aaa" stroke-width="0.6" />
<rect x="197" y="168.7" width="15.5" height="7.6" fill="none" stroke="#aaa" stroke-width="0.6" />
<rect x="160.3" y="168" width="2.3" height="8.3" fill="none" stroke="#999" stroke-width="0.6" />
<rect x="496.7" y="167.5" width="2.1" height="8.8" fill="none" stroke="#999" stroke-width="0.6" />
<path d="M107.8 208 L119.3 222.5 L107.8 237 Z" fill="url(#gg)" stroke="#777" stroke-width="0.4" />
<line x1="119.3" y1="222.5" x2="169" y2="222.5" stroke="#999" stroke-width="0.6" />
<rect x="136.5" y="358.6" width="16" height="2" fill="none" stroke="#999" stroke-width="0.6" />
<line x1="243.75" y1="260.3" x2="267" y2="260.3" stroke="#9a9a9a" stroke-width="0.6" />
<line x1="243.75" y1="267.9" x2="267" y2="267.9" stroke="#9a9a9a" stroke-width="0.6" />
<line x1="304.6" y1="260.8" x2="322.9" y2="260.8" stroke="#9a9a9a" stroke-width="0.6" />
<line x1="304.6" y1="268" x2="322.9" y2="268" stroke="#9a9a9a" stroke-width="0.6" />
<line x1="367.5" y1="352.6" x2="405.5" y2="352.6" stroke="#9a9a9a" stroke-width="0.6" />
<line x1="367.5" y1="360" x2="405.5" y2="360" stroke="#9a9a9a" stroke-width="0.6" />
<line x1="418" y1="352.6" x2="493.75" y2="352.6" stroke="#9a9a9a" stroke-width="0.6" />
<line x1="418" y1="360" x2="493.75" y2="360" stroke="#9a9a9a" stroke-width="0.6" />
<line x1="230" y1="436.3" x2="252.5" y2="436.3" stroke="#9a9a9a" stroke-width="0.6" />
<line x1="230" y1="443.75" x2="252.5" y2="443.75" stroke="#9a9a9a" stroke-width="0.6" />
<line x1="280" y1="393.8" x2="317.5" y2="393.8" stroke="#9a9a9a" stroke-width="0.6" />
<line x1="280" y1="401.2" x2="317.5" y2="401.2" stroke="#9a9a9a" stroke-width="0.6" />
<line x1="163.3" y1="313.4" x2="163.3" y2="336.2" stroke="#9a9a9a" stroke-width="0.6" />
<line x1="156" y1="313.4" x2="156" y2="336.2" stroke="#9a9a9a" stroke-width="0.6" />
<line x1="562.4" y1="394.6" x2="600" y2="394.6" stroke="#9a9a9a" stroke-width="0.6" />
<line x1="562.4" y1="402" x2="600" y2="402" stroke="#9a9a9a" stroke-width="0.6" />
<rect x="395.3" y="352.8" width="10.1" height="7.2" fill="none" stroke="#888" stroke-width="0.6" />
<line x1="395.3" y1="355.2" x2="405.4" y2="355.2" stroke="#999" stroke-width="0.5" />
<line x1="395.3" y1="357.6" x2="405.4" y2="357.6" stroke="#999" stroke-width="0.5" />
<line x1="462.5" y1="333.8" x2="462.5" y2="357.5" stroke="#666" stroke-width="0.8" />
<line x1="463.7" y1="333.8" x2="463.7" y2="357.5" stroke="#999" stroke-width="0.6" />
<line x1="462.5" y1="357.5" x2="492.5" y2="357.5" stroke="#666" stroke-width="0.8" />
<rect x="299.6" y="188.8" width="50.3" height="22.1" fill="none" stroke="#777" stroke-width="0.8" />
<rect x="302" y="191.3" width="45.4" height="17.1" fill="none" stroke="#8a8a8a" stroke-width="0.7" rx="2"/>
<rect x="303.6" y="192.8" width="42.3" height="14.1" fill="none" stroke="#aaa" stroke-width="0.6" rx="1.5"/>
<rect x="334.2" y="210.9" width="15.7" height="41.7" fill="none" stroke="#8a8a8a" stroke-width="0.7" />
<rect x="337" y="215.5" width="10" height="16.5" fill="none" stroke="#9a9a9a" stroke-width="0.6" rx="1.5"/>
<line x1="334.2" y1="235.5" x2="349.9" y2="235.5" stroke="#858585" stroke-width="0.7" />
<rect x="335.2" y="243.5" width="13.8" height="8.5" fill="none" stroke="#9a9a9a" stroke-width="0.6" rx="2.5"/>
<rect x="286" y="242.3" width="14.5" height="18.1" fill="none" stroke="#777" stroke-width="0.7" />
<rect x="287.3" y="246" width="12.2" height="11.5" fill="none" stroke="#8a8a8a" stroke-width="0.6" rx="1.5"/>
<ellipse cx="293.6" cy="252.8" rx="2" ry="2.9" fill="#d5d9f0" stroke="#8a8fc0" stroke-width="0.6"/>
<line x1="300.5" y1="242.3" x2="300.5" y2="260.4" stroke="#777" stroke-width="0.7" />
<rect x="362.5" y="251" width="12.5" height="13.6" fill="none" stroke="#8a8a8a" stroke-width="0.6" />
<rect x="364.5" y="253.5" width="8.5" height="9" fill="none" stroke="#aaa" stroke-width="0.6" rx="2"/>
<rect x="357.6" y="188.5" width="3.6" height="36.3" fill="none" stroke="#aaa" stroke-width="0.6" />
<rect x="388.4" y="188.5" width="106.8" height="14.8" fill="none" stroke="#858585" stroke-width="0.7" />
<line x1="403.4" y1="188.5" x2="403.4" y2="203.3" stroke="#858585" stroke-width="0.7" />
<line x1="418.5" y1="188.5" x2="418.5" y2="203.3" stroke="#858585" stroke-width="0.7" />
<line x1="449.3" y1="188.5" x2="449.3" y2="203.3" stroke="#858585" stroke-width="0.7" />
<line x1="457.5" y1="188.5" x2="457.5" y2="203.3" stroke="#858585" stroke-width="0.7" />
<line x1="472.5" y1="188.5" x2="472.5" y2="203.3" stroke="#858585" stroke-width="0.7" />
<rect x="431" y="208.3" width="9.5" height="10.1" fill="none" stroke="#959595" stroke-width="0.7" />
<rect x="467" y="208.3" width="10.5" height="10.1" fill="none" stroke="#959595" stroke-width="0.7" />
<rect x="431" y="229.7" width="9.5" height="9.3" fill="none" stroke="#959595" stroke-width="0.7" />
<rect x="467" y="229.7" width="10.5" height="9.3" fill="none" stroke="#959595" stroke-width="0.7" />
<rect x="444.3" y="228.4" width="20.7" height="15.6" fill="none" stroke="#8c8c8c" stroke-width="0.7" />
<rect x="480.5" y="282.4" width="25.8" height="65.1" fill="none" stroke="#8a8a8a" stroke-width="0.7" />
<line x1="498.7" y1="282.4" x2="498.7" y2="347.5" stroke="#9a9a9a" stroke-width="0.7" />
<rect x="450.4" y="323.5" width="48.3" height="18.2" fill="none" stroke="#8a8a8a" stroke-width="0.7" />
<rect x="408.9" y="298.3" width="10.1" height="54.1" fill="none" stroke="#858585" stroke-width="0.7" />
<line x1="408.9" y1="312.2" x2="419" y2="312.2" stroke="#858585" stroke-width="0.7" />
<line x1="408.9" y1="325.4" x2="419" y2="325.4" stroke="#858585" stroke-width="0.7" />
<line x1="408.9" y1="338.6" x2="419" y2="338.6" stroke="#858585" stroke-width="0.7" />
<rect x="405" y="265" width="3.3" height="6.3" fill="#eee" stroke="#444" stroke-width="0.6" />
<rect x="358.7" y="297" width="8.8" height="55.4" fill="none" stroke="#858585" stroke-width="0.7" />
<line x1="358.7" y1="309" x2="367.5" y2="309" stroke="#858585" stroke-width="0.7" />
<line x1="358.7" y1="321" x2="367.5" y2="321" stroke="#858585" stroke-width="0.7" />
<line x1="358.7" y1="333" x2="367.5" y2="333" stroke="#858585" stroke-width="0.7" />
<line x1="358.7" y1="345" x2="367.5" y2="345" stroke="#858585" stroke-width="0.7" />
<rect x="306.5" y="296.6" width="43.4" height="15.1" fill="none" stroke="#858585" stroke-width="0.7" />
<line x1="318.5" y1="296.6" x2="318.5" y2="311.7" stroke="#858585" stroke-width="0.7" />
<line x1="329.1" y1="296.6" x2="329.1" y2="311.7" stroke="#858585" stroke-width="0.7" />
<line x1="339.8" y1="296.6" x2="339.8" y2="311.7" stroke="#858585" stroke-width="0.7" />
<rect x="300" y="330" width="35" height="37" fill="none" stroke="#6e6e6e" stroke-width="0.8" />
<rect x="335" y="331.2" width="12.5" height="16.1" fill="none" stroke="#858585" stroke-width="0.7" />
<rect x="335" y="349.7" width="12.5" height="16.1" fill="none" stroke="#858585" stroke-width="0.7" />
<line x1="332" y1="330" x2="335" y2="333" stroke="#858585" stroke-width="0.7" />
<line x1="332" y1="367" x2="335" y2="364" stroke="#858585" stroke-width="0.7" />
<rect x="342.5" y="316" width="7.4" height="13.5" fill="none" stroke="#858585" stroke-width="0.7" />
<rect x="340" y="348.5" width="9.9" height="11.5" fill="none" stroke="#858585" stroke-width="0.7" />
<rect x="180.8" y="279.5" width="37.7" height="38.9" fill="none" stroke="#6e6e6e" stroke-width="0.8" />
<rect x="182" y="269.5" width="16.45" height="10" fill="none" stroke="#858585" stroke-width="0.7" />
<rect x="200.85" y="269.5" width="16.45" height="10" fill="none" stroke="#858585" stroke-width="0.7" />
<line x1="180.8" y1="282.5" x2="183.8" y2="279.5" stroke="#858585" stroke-width="0.7" />
<line x1="218.5" y1="282.5" x2="215.5" y2="279.5" stroke="#858585" stroke-width="0.7" />
<rect x="167" y="268.4" width="13.2" height="7.3" fill="none" stroke="#858585" stroke-width="0.7" />
<rect x="219.1" y="268.4" width="12.6" height="7.3" fill="none" stroke="#858585" stroke-width="0.7" />
<rect x="163.6" y="338" width="76.4" height="13.9" fill="none" stroke="#858585" stroke-width="0.7" />
<line x1="183.75" y1="338" x2="183.75" y2="351.9" stroke="#858585" stroke-width="0.7" />
<line x1="202.5" y1="338" x2="202.5" y2="351.9" stroke="#858585" stroke-width="0.7" />
<line x1="221.25" y1="338" x2="221.25" y2="351.9" stroke="#858585" stroke-width="0.7" />
<rect x="191.3" y="378.8" width="38.7" height="38.2" fill="none" stroke="#6e6e6e" stroke-width="0.8" />
<rect x="180" y="380" width="11.3" height="16.7" fill="none" stroke="#858585" stroke-width="0.7" />
<rect x="180" y="399.1" width="11.3" height="16.7" fill="none" stroke="#858585" stroke-width="0.7" />
<line x1="194.3" y1="378.8" x2="191.3" y2="381.8" stroke="#858585" stroke-width="0.7" />
<line x1="194.3" y1="417" x2="191.3" y2="414" stroke="#858585" stroke-width="0.7" />
<rect x="253.75" y="383.75" width="14.85" height="52.45" fill="none" stroke="#858585" stroke-width="0.7" />
<line x1="253.75" y1="398.75" x2="268.6" y2="398.75" stroke="#858585" stroke-width="0.7" />
<line x1="253.75" y1="416.25" x2="268.6" y2="416.25" stroke="#858585" stroke-width="0.7" />
<rect x="180" y="417" width="6" height="13" fill="none" stroke="#858585" stroke-width="0.7" />
<line x1="440.5" y1="252.5" x2="444.5" y2="252.5" stroke="#7ab8dc" stroke-width="0.7" />
<line x1="442.5" y1="250.5" x2="442.5" y2="254.5" stroke="#7ab8dc" stroke-width="0.7" />
<line x1="644.6" y1="208.6" x2="681.7" y2="208.6" stroke="#9a9a9a" stroke-width="0.6" />
<line x1="644.6" y1="215.6" x2="681.7" y2="215.6" stroke="#9a9a9a" stroke-width="0.6" />
<line x1="798.7" y1="316.3" x2="798.7" y2="339.6" stroke="#9a9a9a" stroke-width="0.6" />
<line x1="805.8" y1="316.3" x2="805.8" y2="339.6" stroke="#9a9a9a" stroke-width="0.6" />
<line x1="899.5" y1="182.3" x2="899.5" y2="205.2" stroke="#9a9a9a" stroke-width="0.6" />
<line x1="906.7" y1="182.3" x2="906.7" y2="205.2" stroke="#9a9a9a" stroke-width="0.6" />
<line x1="903.2" y1="247.5" x2="903.2" y2="267.5" stroke="#9a9a9a" stroke-width="0.6" />
<line x1="910.4" y1="247.5" x2="910.4" y2="267.5" stroke="#9a9a9a" stroke-width="0.6" />
<line x1="772.6" y1="253.5" x2="798.6" y2="253.5" stroke="#9a9a9a" stroke-width="0.6" />
<line x1="772.6" y1="260.9" x2="798.6" y2="260.9" stroke="#9a9a9a" stroke-width="0.6" />
<rect x="611.2" y="246.5" width="10.8" height="6.5" fill="none" stroke="#8a8a8a" stroke-width="0.6" />
<rect x="612.5" y="247.6" width="6.5" height="4.4" fill="none" stroke="#aaa" stroke-width="0.6" rx="2"/>
<rect x="597.5" y="226" width="5.5" height="15" fill="none" stroke="#aaa" stroke-width="0.6" />
<rect x="682.5" y="215.8" width="15.5" height="37.5" fill="none" stroke="#858585" stroke-width="0.7" />
<line x1="682.5" y1="228" x2="698" y2="228" stroke="#858585" stroke-width="0.7" />
<line x1="682.5" y1="240.5" x2="698" y2="240.5" stroke="#858585" stroke-width="0.7" />
<rect x="699.9" y="203.3" width="23.2" height="49.7" fill="none" stroke="#777" stroke-width="0.8" />
<rect x="702.3" y="205.6" width="18.4" height="45.1" fill="none" stroke="#8a8a8a" stroke-width="0.7" rx="2"/>
<rect x="704" y="207.4" width="15" height="41.6" fill="none" stroke="#aaa" stroke-width="0.6" rx="1.5"/>
<rect x="725" y="237.9" width="20.7" height="15.3" fill="none" stroke="#8a8a8a" stroke-width="0.7" />
<rect x="728" y="240.5" width="14.5" height="10.5" fill="none" stroke="#a5a5a5" stroke-width="0.6" rx="1.5"/>
<rect x="754.5" y="235.4" width="9.5" height="17.8" fill="none" stroke="#8a8a8a" stroke-width="0.7" rx="2.5"/>
<rect x="754.5" y="193.3" width="15.3" height="16.9" fill="none" stroke="#777" stroke-width="0.7" />
<rect x="757.5" y="194.2" width="9.5" height="8.8" fill="none" stroke="#999" stroke-width="0.6" rx="1.5"/>
<ellipse cx="762.2" cy="199.3" rx="1.8" ry="2.6" fill="#d5d9f0" stroke="#8a8fc0" stroke-width="0.6"/>
<line x1="755.5" y1="206" x2="769" y2="206" stroke="#aaa" stroke-width="0.6" />
<rect x="682.5" y="261.2" width="81.25" height="10.1" fill="none" stroke="#858585" stroke-width="0.7" />
<line x1="702.5" y1="261.2" x2="702.5" y2="271.3" stroke="#858585" stroke-width="0.7" />
<line x1="722.5" y1="261.2" x2="722.5" y2="271.3" stroke="#858585" stroke-width="0.7" />
<line x1="743.75" y1="261.2" x2="743.75" y2="271.3" stroke="#858585" stroke-width="0.7" />
<rect x="611" y="295.2" width="15.2" height="78.1" fill="none" stroke="#858585" stroke-width="0.7" />
<line x1="611" y1="309" x2="626.2" y2="309" stroke="#858585" stroke-width="0.7" />
<line x1="611" y1="324.7" x2="626.2" y2="324.7" stroke="#858585" stroke-width="0.7" />
<line x1="611" y1="339.2" x2="626.2" y2="339.2" stroke="#858585" stroke-width="0.7" />
<line x1="611" y1="355" x2="626.2" y2="355" stroke="#858585" stroke-width="0.7" />
<rect x="611" y="281.4" width="43.4" height="9.4" fill="none" stroke="#858585" stroke-width="0.7" />
<line x1="622.4" y1="281.4" x2="622.4" y2="290.8" stroke="#858585" stroke-width="0.7" />
<line x1="633" y1="281.4" x2="633" y2="290.8" stroke="#858585" stroke-width="0.7" />
<line x1="643.7" y1="281.4" x2="643.7" y2="290.8" stroke="#858585" stroke-width="0.7" />
<rect x="655" y="321.3" width="41.3" height="21.2" fill="none" stroke="#888" stroke-width="0.7" />
<rect x="661" y="310" width="9.5" height="10.5" fill="none" stroke="#909090" stroke-width="0.7" />
<rect x="680.8" y="310" width="10.5" height="10.5" fill="none" stroke="#909090" stroke-width="0.7" />
<rect x="660.5" y="343.8" width="10" height="10" fill="none" stroke="#909090" stroke-width="0.7" />
<rect x="680.8" y="343.8" width="10.5" height="10" fill="none" stroke="#909090" stroke-width="0.7" />
<rect x="642.5" y="328.8" width="12.5" height="8.7" fill="none" stroke="#909090" stroke-width="0.7" />
<rect x="696.3" y="328.8" width="12.5" height="8.7" fill="none" stroke="#909090" stroke-width="0.7" />
<rect x="757.5" y="300" width="25" height="66.3" fill="none" stroke="#888" stroke-width="0.7" />
<rect x="727.5" y="340" width="55" height="26.3" fill="none" stroke="#888" stroke-width="0.7" />
<line x1="763" y1="300" x2="763" y2="340" stroke="#999" stroke-width="0.7" />
<rect x="772.5" y="113.8" width="37.5" height="38.7" fill="none" stroke="#6e6e6e" stroke-width="0.8" />
<rect x="773.7" y="103.8" width="16.35" height="10" fill="none" stroke="#858585" stroke-width="0.7" />
<rect x="792.45" y="103.8" width="16.35" height="10" fill="none" stroke="#858585" stroke-width="0.7" />
<line x1="772.5" y1="116.8" x2="775.5" y2="113.8" stroke="#858585" stroke-width="0.7" />
<line x1="810" y1="116.8" x2="807" y2="113.8" stroke="#858585" stroke-width="0.7" />
<rect x="758.8" y="103.8" width="12.5" height="7.5" fill="none" stroke="#858585" stroke-width="0.7" />
<rect x="811.3" y="103.8" width="11.2" height="7.5" fill="none" stroke="#858585" stroke-width="0.7" />
<rect x="741.4" y="115" width="13.1" height="40" fill="none" stroke="#858585" stroke-width="0.7" />
<line x1="741.4" y1="127.5" x2="754.5" y2="127.5" stroke="#858585" stroke-width="0.7" />
<line x1="741.4" y1="140" x2="754.5" y2="140" stroke="#858585" stroke-width="0.7" />
<rect x="846.3" y="141.3" width="37.7" height="38.2" fill="none" stroke="#6e6e6e" stroke-width="0.8" />
<rect x="847.5" y="131.3" width="16.45" height="10" fill="none" stroke="#858585" stroke-width="0.7" />
<rect x="866.35" y="131.3" width="16.45" height="10" fill="none" stroke="#858585" stroke-width="0.7" />
<line x1="846.3" y1="144.3" x2="849.3" y2="141.3" stroke="#858585" stroke-width="0.7" />
<line x1="884" y1="144.3" x2="881" y2="141.3" stroke="#858585" stroke-width="0.7" />
<rect x="833.8" y="131.3" width="11.2" height="7.5" fill="none" stroke="#858585" stroke-width="0.7" />
<rect x="883.8" y="131.3" width="13.7" height="7.5" fill="none" stroke="#858585" stroke-width="0.7" />
<rect x="856.6" y="205.4" width="42.7" height="15" fill="none" stroke="#858585" stroke-width="0.7" />
<line x1="867.3" y1="205.4" x2="867.3" y2="220.4" stroke="#858585" stroke-width="0.7" />
<line x1="878" y1="205.4" x2="878" y2="220.4" stroke="#858585" stroke-width="0.7" />
<line x1="888" y1="205.4" x2="888" y2="220.4" stroke="#858585" stroke-width="0.7" />
<rect x="846.3" y="110" width="16.2" height="7.5" fill="none" stroke="#b5b5b5" stroke-width="0.6" />
<rect x="866.3" y="110" width="16.2" height="7.5" fill="none" stroke="#b5b5b5" stroke-width="0.6" />
<rect x="887.5" y="110" width="15" height="7.5" fill="none" stroke="#b5b5b5" stroke-width="0.6" />
<rect x="839" y="103" width="2.3" height="11" fill="none" stroke="#999" stroke-width="0.6" />
<rect x="911.9" y="210.3" width="13.8" height="3.1" fill="none" stroke="#999" stroke-width="0.6" />
<rect x="840.5" y="253.8" width="38.8" height="40" fill="none" stroke="#6e6e6e" stroke-width="0.8" />
<rect x="841.7" y="293.8" width="17" height="10" fill="none" stroke="#858585" stroke-width="0.7" />
<rect x="861.1" y="293.8" width="17" height="10" fill="none" stroke="#858585" stroke-width="0.7" />
<line x1="840.5" y1="290.8" x2="843.5" y2="293.8" stroke="#858585" stroke-width="0.7" />
<line x1="879.3" y1="290.8" x2="876.3" y2="293.8" stroke="#858585" stroke-width="0.7" />
<rect x="828" y="297.5" width="12.5" height="7.5" fill="none" stroke="#858585" stroke-width="0.7" />
<rect x="879.3" y="297.5" width="12.5" height="7.5" fill="none" stroke="#858585" stroke-width="0.7" />
<rect x="805.9" y="253.8" width="15.4" height="51.1" fill="none" stroke="#858585" stroke-width="0.7" />
<line x1="805.9" y1="267.5" x2="821.3" y2="267.5" stroke="#858585" stroke-width="0.7" />
<line x1="805.9" y1="280" x2="821.3" y2="280" stroke="#858585" stroke-width="0.7" />
<line x1="805.9" y1="292.5" x2="821.3" y2="292.5" stroke="#858585" stroke-width="0.7" />
<rect x="781" y="386.7" width="15" height="6.3" fill="none" stroke="#b5b5b5" stroke-width="0.6" />
<rect x="616.6" y="384.2" width="2.6" height="18" fill="none" stroke="#999" stroke-width="0.6" />
<rect x="802" y="384.2" width="2.4" height="17.8" fill="none" stroke="#999" stroke-width="0.6" />
<path d="M370 405 L398.8 405 L383.8 393.7 Z" fill="#757575" stroke="#666" stroke-width="0.4" />
<path d="M621.8 179.2 L650 179.2 L635.8 190 Z" fill="#757575" stroke="#666" stroke-width="0.4" />
<path d="M495 144.2 L519.5 144.2 L531 128.8" fill="none" stroke="#69a9d6" stroke-width="0.6" />
<path d="M527.2 129.6 L531.2 128.5 L530.6 132.7" fill="none" stroke="#69a9d6" stroke-width="0.7" />
<path d="M463.5 171.7 L487 171.7 L492.3 164.2" fill="none" stroke="#69a9d6" stroke-width="0.6" />
<path d="M488.6 164.6 L492.6 163.8 L492.2 167.8" fill="none" stroke="#69a9d6" stroke-width="0.7" />
</g>
<g id="doors">
<line x1="267" y1="260.3" x2="267" y2="237.3" stroke="#555" stroke-width="0.9" />
<path d="M244 260.3 L244.13 257.9 L244.5 255.52 L245.13 253.19 L245.99 250.95 L247.08 248.8 L248.39 246.78 L249.91 244.91 L251.61 243.21 L253.48 241.69 L255.5 240.38 L257.65 239.29 L259.89 238.43 L262.22 237.8 L264.6 237.43 L267 237.3" fill="none" stroke="#555" stroke-width="0.7" />
<line x1="304.6" y1="260.8" x2="304.6" y2="243" stroke="#555" stroke-width="0.9" />
<path d="M322.4 260.8 L322.3 258.94 L322.01 257.1 L321.53 255.3 L320.86 253.56 L320.02 251.9 L319 250.34 L317.83 248.89 L316.51 247.57 L315.06 246.4 L313.5 245.38 L311.84 244.54 L310.1 243.87 L308.3 243.39 L306.46 243.1 L304.6 243" fill="none" stroke="#555" stroke-width="0.7" />
<line x1="388.25" y1="203.75" x2="406.75" y2="203.75" stroke="#555" stroke-width="0.9" />
<path d="M388.25 222.25 L390.18 222.15 L392.1 221.85 L393.97 221.34 L395.77 220.65 L397.5 219.77 L399.12 218.72 L400.63 217.5 L402 216.13 L403.22 214.62 L404.27 213 L405.15 211.27 L405.84 209.47 L406.35 207.6 L406.65 205.68 L406.75 203.75" fill="none" stroke="#555" stroke-width="0.7" />
<line x1="377.5" y1="268.4" x2="377.5" y2="285.9" stroke="#555" stroke-width="0.9" />
<path d="M360 268.4 L360.1 270.23 L360.38 272.04 L360.86 273.81 L361.51 275.52 L362.34 277.15 L363.34 278.69 L364.49 280.11 L365.79 281.41 L367.21 282.56 L368.75 283.56 L370.38 284.39 L372.09 285.04 L373.86 285.52 L375.67 285.8 L377.5 285.9" fill="none" stroke="#555" stroke-width="0.7" />
<line x1="405.5" y1="270" x2="383" y2="270" stroke="#555" stroke-width="0.9" />
<path d="M405.5 292.5 L403.15 292.38 L400.82 292.01 L398.55 291.4 L396.35 290.55 L394.25 289.49 L392.27 288.2 L390.44 286.72 L388.78 285.06 L387.3 283.23 L386.01 281.25 L384.95 279.15 L384.1 276.95 L383.49 274.68 L383.12 272.35 L383 270" fill="none" stroke="#555" stroke-width="0.7" />
<line x1="277" y1="296.4" x2="277" y2="318.9" stroke="#555" stroke-width="0.9" />
<path d="M299.5 296.4 L299.38 298.75 L299.01 301.08 L298.4 303.35 L297.55 305.55 L296.49 307.65 L295.2 309.63 L293.72 311.46 L292.06 313.12 L290.23 314.6 L288.25 315.89 L286.15 316.95 L283.95 317.8 L281.68 318.41 L279.35 318.78 L277 318.9" fill="none" stroke="#555" stroke-width="0.7" />
<line x1="241.8" y1="334" x2="220" y2="334" stroke="#555" stroke-width="0.9" />
<path d="M241.8 312.2 L239.52 312.32 L237.27 312.68 L235.06 313.27 L232.93 314.08 L230.9 315.12 L228.99 316.36 L227.21 317.8 L225.6 319.41 L224.16 321.19 L222.92 323.1 L221.88 325.13 L221.07 327.26 L220.48 329.47 L220.12 331.72 L220 334" fill="none" stroke="#555" stroke-width="0.7" />
<line x1="266.5" y1="360.2" x2="266.5" y2="382.7" stroke="#555" stroke-width="0.9" />
<path d="M244 360.2 L244.12 362.55 L244.49 364.88 L245.1 367.15 L245.95 369.35 L247.01 371.45 L248.3 373.43 L249.78 375.26 L251.44 376.92 L253.27 378.4 L255.25 379.69 L257.35 380.75 L259.55 381.6 L261.82 382.21 L264.15 382.58 L266.5 382.7" fill="none" stroke="#555" stroke-width="0.7" />
<line x1="156.3" y1="336" x2="179" y2="336" stroke="#555" stroke-width="0.9" />
<path d="M156.3 313.3 L158.67 313.42 L161.02 313.8 L163.31 314.41 L165.53 315.26 L167.65 316.34 L169.64 317.64 L171.49 319.13 L173.17 320.81 L174.66 322.66 L175.96 324.65 L177.04 326.77 L177.89 328.99 L178.5 331.28 L178.88 333.63 L179 336" fill="none" stroke="#555" stroke-width="0.7" />
<line x1="252.5" y1="436.3" x2="252.5" y2="413.8" stroke="#555" stroke-width="0.9" />
<path d="M230 436.3 L230.12 433.95 L230.49 431.62 L231.1 429.35 L231.95 427.15 L233.01 425.05 L234.3 423.07 L235.78 421.24 L237.44 419.58 L239.27 418.1 L241.25 416.81 L243.35 415.75 L245.55 414.9 L247.82 414.29 L250.15 413.92 L252.5 413.8" fill="none" stroke="#555" stroke-width="0.7" />
<line x1="280.3" y1="399" x2="280.3" y2="376" stroke="#555" stroke-width="0.9" />
<path d="M303.3 399 L303.17 396.6 L302.8 394.22 L302.17 391.89 L301.31 389.65 L300.22 387.5 L298.91 385.48 L297.39 383.61 L295.69 381.91 L293.82 380.39 L291.8 379.08 L289.65 377.99 L287.41 377.13 L285.08 376.5 L282.7 376.13 L280.3 376" fill="none" stroke="#555" stroke-width="0.7" />
<line x1="368.2" y1="353" x2="368.2" y2="326" stroke="#555" stroke-width="0.9" />
<path d="M395.2 353 L395.05 350.18 L394.61 347.39 L393.88 344.66 L392.87 342.02 L391.58 339.5 L390.04 337.13 L388.26 334.93 L386.27 332.94 L384.07 331.16 L381.7 329.62 L379.18 328.33 L376.54 327.32 L373.81 326.59 L371.02 326.15 L368.2 326" fill="none" stroke="#555" stroke-width="0.7" />
<line x1="418" y1="352.6" x2="418" y2="330.6" stroke="#555" stroke-width="0.9" />
<path d="M440 352.6 L439.88 350.3 L439.52 348.03 L438.92 345.8 L438.1 343.65 L437.05 341.6 L435.8 339.67 L434.35 337.88 L432.72 336.25 L430.93 334.8 L429 333.55 L426.95 332.5 L424.8 331.68 L422.57 331.08 L420.3 330.72 L418 330.6" fill="none" stroke="#555" stroke-width="0.7" />
<line x1="462.5" y1="352.6" x2="462.5" y2="330.6" stroke="#555" stroke-width="0.9" />
<path d="M440.5 352.6 L440.62 350.3 L440.98 348.03 L441.58 345.8 L442.4 343.65 L443.45 341.6 L444.7 339.67 L446.15 337.88 L447.78 336.25 L449.57 334.8 L451.5 333.55 L453.55 332.5 L455.7 331.68 L457.93 331.08 L460.2 330.72 L462.5 330.6" fill="none" stroke="#555" stroke-width="0.7" />
<line x1="563.3" y1="402" x2="563.3" y2="428.5" stroke="#555" stroke-width="0.9" />
<path d="M589.8 402 L589.65 404.77 L589.22 407.51 L588.5 410.19 L587.51 412.78 L586.25 415.25 L584.74 417.58 L582.99 419.73 L581.03 421.69 L578.88 423.44 L576.55 424.95 L574.08 426.21 L571.49 427.2 L568.81 427.92 L566.07 428.35 L563.3 428.5" fill="none" stroke="#555" stroke-width="0.7" />
<line x1="327.3" y1="285.3" x2="339.7" y2="285.3" stroke="#777" stroke-width="0.6" />
<line x1="333.5" y1="279.1" x2="333.5" y2="291.5" stroke="#777" stroke-width="0.6" />
<circle cx="333.5" cy="285.3" r="3.2" fill="#fff" stroke="#444" stroke-width="0.7"/>
<path d="M333.5 285.3 L333.5 282.1 A3.2 3.2 0 0 1 336.7 285.3 Z" fill="#444" stroke="none" stroke-width="0.8" />
<path d="M333.5 285.3 L333.5 288.5 A3.2 3.2 0 0 1 330.3 285.3 Z" fill="#444" stroke="none" stroke-width="0.8" />
<line x1="456.3" y1="267" x2="468.7" y2="267" stroke="#777" stroke-width="0.6" />
<line x1="462.5" y1="260.8" x2="462.5" y2="273.2" stroke="#777" stroke-width="0.6" />
<circle cx="462.5" cy="267" r="3.2" fill="#fff" stroke="#444" stroke-width="0.7"/>
<path d="M462.5 267 L462.5 263.8 A3.2 3.2 0 0 1 465.7 267 Z" fill="#444" stroke="none" stroke-width="0.8" />
<path d="M462.5 267 L462.5 270.2 A3.2 3.2 0 0 1 459.3 267 Z" fill="#444" stroke="none" stroke-width="0.8" />
<line x1="406.3" y1="388.8" x2="418.7" y2="388.8" stroke="#777" stroke-width="0.6" />
<line x1="412.5" y1="382.6" x2="412.5" y2="395" stroke="#777" stroke-width="0.6" />
<circle cx="412.5" cy="388.8" r="3.2" fill="#fff" stroke="#444" stroke-width="0.7"/>
<path d="M412.5 388.8 L412.5 385.6 A3.2 3.2 0 0 1 415.7 388.8 Z" fill="#444" stroke="none" stroke-width="0.8" />
<path d="M412.5 388.8 L412.5 392 A3.2 3.2 0 0 1 409.3 388.8 Z" fill="#444" stroke="none" stroke-width="0.8" />
<line x1="113.8" y1="461.3" x2="126.2" y2="461.3" stroke="#777" stroke-width="0.6" />
<line x1="120" y1="455.1" x2="120" y2="467.5" stroke="#777" stroke-width="0.6" />
<circle cx="120" cy="461.3" r="3.2" fill="#fff" stroke="#444" stroke-width="0.7"/>
<path d="M120 461.3 L120 458.1 A3.2 3.2 0 0 1 123.2 461.3 Z" fill="#444" stroke="none" stroke-width="0.8" />
<path d="M120 461.3 L120 464.5 A3.2 3.2 0 0 1 116.8 461.3 Z" fill="#444" stroke="none" stroke-width="0.8" />
<line x1="521.3" y1="179" x2="533.7" y2="179" stroke="#777" stroke-width="0.6" />
<line x1="527.5" y1="172.8" x2="527.5" y2="185.2" stroke="#777" stroke-width="0.6" />
<circle cx="527.5" cy="179" r="3.2" fill="#fff" stroke="#444" stroke-width="0.7"/>
<path d="M527.5 179 L527.5 175.8 A3.2 3.2 0 0 1 530.7 179 Z" fill="#444" stroke="none" stroke-width="0.8" />
<path d="M527.5 179 L527.5 182.2 A3.2 3.2 0 0 1 524.3 179 Z" fill="#444" stroke="none" stroke-width="0.8" />
<line x1="678.3" y1="292" x2="690.7" y2="292" stroke="#777" stroke-width="0.6" />
<line x1="684.5" y1="285.8" x2="684.5" y2="298.2" stroke="#777" stroke-width="0.6" />
<circle cx="684.5" cy="292" r="3.2" fill="#fff" stroke="#444" stroke-width="0.7"/>
<path d="M684.5 292 L684.5 288.8 A3.2 3.2 0 0 1 687.7 292 Z" fill="#444" stroke="none" stroke-width="0.8" />
<path d="M684.5 292 L684.5 295.2 A3.2 3.2 0 0 1 681.3 292 Z" fill="#444" stroke="none" stroke-width="0.8" />
<line x1="776.3" y1="175" x2="788.7" y2="175" stroke="#777" stroke-width="0.6" />
<line x1="782.5" y1="168.8" x2="782.5" y2="181.2" stroke="#777" stroke-width="0.6" />
<circle cx="782.5" cy="175" r="3.2" fill="#fff" stroke="#444" stroke-width="0.7"/>
<path d="M782.5 175 L782.5 171.8 A3.2 3.2 0 0 1 785.7 175 Z" fill="#444" stroke="none" stroke-width="0.8" />
<path d="M782.5 175 L782.5 178.2 A3.2 3.2 0 0 1 779.3 175 Z" fill="#444" stroke="none" stroke-width="0.8" />
<line x1="811.8" y1="395.5" x2="824.2" y2="395.5" stroke="#777" stroke-width="0.6" />
<line x1="818" y1="389.3" x2="818" y2="401.7" stroke="#777" stroke-width="0.6" />
<circle cx="818" cy="395.5" r="3.2" fill="#fff" stroke="#444" stroke-width="0.7"/>
<path d="M818 395.5 L818 392.3 A3.2 3.2 0 0 1 821.2 395.5 Z" fill="#444" stroke="none" stroke-width="0.8" />
<path d="M818 395.5 L818 398.7 A3.2 3.2 0 0 1 814.8 395.5 Z" fill="#444" stroke="none" stroke-width="0.8" />
<line x1="681" y1="210.5" x2="681" y2="238" stroke="#555" stroke-width="0.9" />
<path d="M653.5 210.5 L653.65 213.37 L654.1 216.22 L654.85 219 L655.88 221.69 L657.18 224.25 L658.75 226.66 L660.56 228.9 L662.6 230.94 L664.84 232.75 L667.25 234.32 L669.81 235.62 L672.5 236.65 L675.28 237.4 L678.13 237.85 L681 238" fill="none" stroke="#555" stroke-width="0.7" />
<line x1="658.6" y1="261.5" x2="637" y2="261.5" stroke="#555" stroke-width="0.9" />
<path d="M658.6 283.1 L656.34 282.98 L654.11 282.63 L651.93 282.04 L649.81 281.23 L647.8 280.21 L645.9 278.97 L644.15 277.55 L642.55 275.95 L641.13 274.2 L639.89 272.3 L638.87 270.29 L638.06 268.17 L637.47 265.99 L637.12 263.76 L637 261.5" fill="none" stroke="#555" stroke-width="0.7" />
<line x1="660.2" y1="261.2" x2="660.2" y2="282.7" stroke="#555" stroke-width="0.9" />
<path d="M681.7 261.2 L681.58 263.45 L681.23 265.67 L680.65 267.84 L679.84 269.94 L678.82 271.95 L677.59 273.84 L676.18 275.59 L674.59 277.18 L672.84 278.59 L670.95 279.82 L668.94 280.84 L666.84 281.65 L664.67 282.23 L662.45 282.58 L660.2 282.7" fill="none" stroke="#555" stroke-width="0.7" />
<line x1="772" y1="210.3" x2="753.2" y2="210.3" stroke="#555" stroke-width="0.9" />
<path d="M772 229.1 L770.03 229 L768.09 228.69 L766.19 228.18 L764.35 227.47 L762.6 226.58 L760.95 225.51 L759.42 224.27 L758.03 222.88 L756.79 221.35 L755.72 219.7 L754.83 217.95 L754.12 216.11 L753.61 214.21 L753.3 212.27 L753.2 210.3" fill="none" stroke="#555" stroke-width="0.7" />
<line x1="820.8" y1="191.2" x2="820.8" y2="169.4" stroke="#555" stroke-width="0.9" />
<path d="M799 191.2 L799.12 188.92 L799.48 186.67 L800.07 184.46 L800.88 182.33 L801.92 180.3 L803.16 178.39 L804.6 176.61 L806.21 175 L807.99 173.56 L809.9 172.32 L811.93 171.28 L814.06 170.47 L816.27 169.88 L818.52 169.52 L820.8 169.4" fill="none" stroke="#555" stroke-width="0.7" />
<line x1="833.4" y1="215.6" x2="854.7" y2="215.6" stroke="#555" stroke-width="0.9" />
<path d="M833.4 194.3 L835.63 194.42 L837.83 194.77 L839.98 195.34 L842.06 196.14 L844.05 197.15 L845.92 198.37 L847.65 199.77 L849.23 201.35 L850.63 203.08 L851.85 204.95 L852.86 206.94 L853.66 209.02 L854.23 211.17 L854.58 213.37 L854.7 215.6" fill="none" stroke="#555" stroke-width="0.7" />
<line x1="902.8" y1="205" x2="880.5" y2="205" stroke="#555" stroke-width="0.9" />
<path d="M902.8 182.7 L900.47 182.82 L898.16 183.19 L895.91 183.79 L893.73 184.63 L891.65 185.69 L889.69 186.96 L887.88 188.43 L886.23 190.08 L884.76 191.89 L883.49 193.85 L882.43 195.93 L881.59 198.11 L880.99 200.36 L880.62 202.67 L880.5 205" fill="none" stroke="#555" stroke-width="0.7" />
<line x1="806" y1="229.5" x2="826" y2="229.5" stroke="#555" stroke-width="0.9" />
<path d="M806 249.5 L808.09 249.39 L810.16 249.06 L812.18 248.52 L814.13 247.77 L816 246.82 L817.76 245.68 L819.38 244.36 L820.86 242.88 L822.18 241.26 L823.32 239.5 L824.27 237.63 L825.02 235.68 L825.56 233.66 L825.89 231.59 L826 229.5" fill="none" stroke="#555" stroke-width="0.7" />
<line x1="905" y1="247.5" x2="884" y2="247.5" stroke="#555" stroke-width="0.9" />
<path d="M905 268.5 L902.8 268.38 L900.63 268.04 L898.51 267.47 L896.46 266.68 L894.5 265.69 L892.66 264.49 L890.95 263.11 L889.39 261.55 L888.01 259.84 L886.81 258 L885.82 256.04 L885.03 253.99 L884.46 251.87 L884.12 249.7 L884 247.5" fill="none" stroke="#555" stroke-width="0.7" />
<line x1="801.9" y1="317.6" x2="779.5" y2="317.6" stroke="#555" stroke-width="0.9" />
<path d="M801.9 340 L799.56 339.88 L797.24 339.51 L794.98 338.9 L792.79 338.06 L790.7 337 L788.73 335.72 L786.91 334.25 L785.25 332.59 L783.78 330.77 L782.5 328.8 L781.44 326.71 L780.6 324.52 L779.99 322.26 L779.62 319.94 L779.5 317.6" fill="none" stroke="#555" stroke-width="0.7" />
<line x1="627.3" y1="375.5" x2="627.3" y2="353.5" stroke="#555" stroke-width="0.9" />
<path d="M649.3 375.5 L649.18 373.2 L648.82 370.93 L648.22 368.7 L647.4 366.55 L646.35 364.5 L645.1 362.57 L643.65 360.78 L642.02 359.15 L640.23 357.7 L638.3 356.45 L636.25 355.4 L634.1 354.58 L631.87 353.98 L629.6 353.62 L627.3 353.5" fill="none" stroke="#555" stroke-width="0.7" />
<line x1="696" y1="375.8" x2="696" y2="353.2" stroke="#555" stroke-width="0.9" />
<path d="M718.6 375.8 L718.48 373.44 L718.11 371.1 L717.49 368.82 L716.65 366.61 L715.57 364.5 L714.28 362.52 L712.8 360.68 L711.12 359 L709.28 357.52 L707.3 356.23 L705.19 355.15 L702.98 354.31 L700.7 353.69 L698.36 353.32 L696 353.2" fill="none" stroke="#555" stroke-width="0.7" />
<line x1="740.3" y1="376" x2="740.3" y2="353.4" stroke="#555" stroke-width="0.9" />
<path d="M717.7 376 L717.82 373.64 L718.19 371.3 L718.81 369.02 L719.65 366.81 L720.73 364.7 L722.02 362.72 L723.5 360.88 L725.18 359.2 L727.02 357.72 L729 356.43 L731.11 355.35 L733.32 354.51 L735.6 353.89 L737.94 353.52 L740.3 353.4" fill="none" stroke="#555" stroke-width="0.7" />
<line x1="636" y1="243" x2="653.5" y2="243" stroke="#555" stroke-width="0.9" />
<path d="M636 225.5 L637.83 225.6 L639.64 225.88 L641.41 226.36 L643.12 227.01 L644.75 227.84 L646.29 228.84 L647.71 229.99 L649.01 231.29 L650.16 232.71 L651.16 234.25 L651.99 235.88 L652.64 237.59 L653.12 239.36 L653.4 241.17 L653.5 243" fill="none" stroke="#555" stroke-width="0.7" />
</g>
<g id="section">
<line x1="131" y1="248.2" x2="142" y2="248.2" stroke="#111" stroke-width="1.3" />
<line x1="142" y1="248.2" x2="938" y2="248.2" stroke="#333" stroke-width="1.1" stroke-dasharray="22 4 4 4"/>
<line x1="370.75" y1="145" x2="370.75" y2="472" stroke="#333" stroke-width="1.1" stroke-dasharray="22 4 4 4"/>
<line x1="664.25" y1="145" x2="664.25" y2="472" stroke="#333" stroke-width="1.1" stroke-dasharray="22 4 4 4"/>
<path d="M123.75 247.7 L131.75 247.7 L127.75 241.2 Z" fill="#111" stroke="none" stroke-width="0.8" />
<path d="M939.3 248 L947.6 248 L943.4 240.3 Z" fill="#111" stroke="none" stroke-width="0.8" />
<path d="M370.9 137.5 L370.9 145.8 L363.5 141.6 Z" fill="#111" stroke="none" stroke-width="0.8" />
<path d="M370.9 465 L370.9 473 L363.5 469 Z" fill="#111" stroke="none" stroke-width="0.8" />
<path d="M664.4 137.5 L664.4 145.8 L657 141.6 Z" fill="#111" stroke="none" stroke-width="0.8" />
<path d="M664.4 465 L664.4 473 L657 469 Z" fill="#111" stroke="none" stroke-width="0.8" />
</g>
<g id="text">
<text x="115" y="247.3" font-size="9.5" text-anchor="start" font-weight="normal" font-style="normal" fill="#000"  stroke="#000" stroke-width="0.18">A</text>
<text x="949.3" y="246.3" font-size="9.5" text-anchor="start" font-weight="normal" font-style="normal" fill="#000"  stroke="#000" stroke-width="0.18">A</text>
<text x="369.5" y="134.5" font-size="9.5" text-anchor="start" font-weight="normal" font-style="normal" fill="#111" transform="rotate(-90 369.5 134.5)"  stroke="#111" stroke-width="0.18">B</text>
<text x="369.5" y="482.5" font-size="9.5" text-anchor="start" font-weight="normal" font-style="normal" fill="#111" transform="rotate(-90 369.5 482.5)"  stroke="#111" stroke-width="0.18">B</text>
<text x="663" y="134.5" font-size="9.5" text-anchor="start" font-weight="normal" font-style="normal" fill="#111" transform="rotate(-90 663 134.5)"  stroke="#111" stroke-width="0.18">C</text>
<text x="663" y="482.5" font-size="9.5" text-anchor="start" font-weight="normal" font-style="normal" fill="#111" transform="rotate(-90 663 482.5)"  stroke="#111" stroke-width="0.18">C</text>
<text x="139.5" y="50.8" font-size="6.85" text-anchor="middle" font-weight="normal" font-style="normal" fill="#111"  stroke="#111" stroke-width="0.18">30</text>
<text x="219" y="50.8" font-size="6.85" text-anchor="middle" font-weight="normal" font-style="normal" fill="#111"  stroke="#111" stroke-width="0.18">5,40</text>
<text x="284.5" y="50.8" font-size="6.85" text-anchor="middle" font-weight="normal" font-style="normal" fill="#111"  stroke="#111" stroke-width="0.18">30</text>
<text x="320.5" y="50.8" font-size="6.85" text-anchor="middle" font-weight="normal" font-style="normal" fill="#111"  stroke="#111" stroke-width="0.18">2,00</text>
<text x="343.5" y="50.8" font-size="6.85" text-anchor="middle" font-weight="normal" font-style="normal" fill="#111"  stroke="#111" stroke-width="0.18">30</text>
<text x="422.5" y="50.8" font-size="6.85" text-anchor="middle" font-weight="normal" font-style="normal" fill="#111"  stroke="#111" stroke-width="0.18">5,40</text>
<text x="489" y="50.8" font-size="6.85" text-anchor="middle" font-weight="normal" font-style="normal" fill="#111"  stroke="#111" stroke-width="0.18">30</text>
<text x="495.5" y="42.5" font-size="6.85" text-anchor="middle" font-weight="normal" font-style="normal" fill="#111"  stroke="#111" stroke-width="0.18">10</text>
<text x="508" y="42.5" font-size="6.85" text-anchor="middle" font-weight="normal" font-style="normal" fill="#111"  stroke="#111" stroke-width="0.18">20</text>
<text x="520.3" y="42.5" font-size="6.85" text-anchor="middle" font-weight="normal" font-style="normal" fill="#111"  stroke="#111" stroke-width="0.18">30</text>
<text x="527" y="50.8" font-size="6.85" text-anchor="middle" font-weight="normal" font-style="normal" fill="#111"  stroke="#111" stroke-width="0.18">10</text>
<text x="560.5" y="50.8" font-size="6.85" text-anchor="middle" font-weight="normal" font-style="normal" fill="#111"  stroke="#111" stroke-width="0.18">3,10</text>
<text x="593.3" y="50.8" font-size="6.85" text-anchor="middle" font-weight="normal" font-style="normal" fill="#111"  stroke="#111" stroke-width="0.18">15</text>
<text x="617" y="50.8" font-size="6.85" text-anchor="middle" font-weight="normal" font-style="normal" fill="#111"  stroke="#111" stroke-width="0.18">30</text>
<text x="650.5" y="50.8" font-size="6.85" text-anchor="middle" font-weight="normal" font-style="normal" fill="#111"  stroke="#111" stroke-width="0.18">3,10</text>
<text x="683.8" y="50.8" font-size="6.85" text-anchor="middle" font-weight="normal" font-style="normal" fill="#111"  stroke="#111" stroke-width="0.18">10</text>
<text x="696.3" y="42.5" font-size="6.85" text-anchor="middle" font-weight="normal" font-style="normal" fill="#111"  stroke="#111" stroke-width="0.18">30</text>
<text x="715" y="50.8" font-size="6.85" text-anchor="middle" font-weight="normal" font-style="normal" fill="#111"  stroke="#111" stroke-width="0.18">1,17</text>
<text x="732" y="42.5" font-size="6.85" text-anchor="middle" font-weight="normal" font-style="normal" fill="#111"  stroke="#111" stroke-width="0.18">15</text>
<text x="747.8" y="50.8" font-size="6.85" text-anchor="middle" font-weight="normal" font-style="normal" fill="#111"  stroke="#111" stroke-width="0.18">30</text>
<text x="783.3" y="50.8" font-size="6.85" text-anchor="middle" font-weight="normal" font-style="normal" fill="#111"  stroke="#111" stroke-width="0.18">3,30</text>
<text x="819" y="50.8" font-size="6.85" text-anchor="middle" font-weight="normal" font-style="normal" fill="#111"  stroke="#111" stroke-width="0.18">30</text>
<text x="843.5" y="50.8" font-size="6.85" text-anchor="middle" font-weight="normal" font-style="normal" fill="#111"  stroke="#111" stroke-width="0.18">15</text>
<text x="868.5" y="50.8" font-size="6.85" text-anchor="middle" font-weight="normal" font-style="normal" fill="#111"  stroke="#111" stroke-width="0.18">2,45</text>
<text x="892.5" y="50.8" font-size="6.85" text-anchor="middle" font-weight="normal" font-style="normal" fill="#111"  stroke="#111" stroke-width="0.18">30</text>
<text x="918" y="50.8" font-size="6.85" text-anchor="middle" font-weight="normal" font-style="normal" fill="#111"  stroke="#111" stroke-width="0.18">15</text>
<text x="203.25" y="63.4" font-size="6.85" text-anchor="middle" font-weight="normal" font-style="normal" fill="#111"  stroke="#111" stroke-width="0.18">4,50</text>
<text x="268.12" y="63.4" font-size="6.85" text-anchor="middle" font-weight="normal" font-style="normal" fill="#111"  stroke="#111" stroke-width="0.18">60</text>
<text x="300.25" y="63.4" font-size="6.85" text-anchor="middle" font-weight="normal" font-style="normal" fill="#111"  stroke="#111" stroke-width="0.18">1,94</text>
<text x="332.5" y="63.4" font-size="6.85" text-anchor="middle" font-weight="normal" font-style="normal" fill="#111"  stroke="#111" stroke-width="0.18">60</text>
<text x="348.5" y="63.4" font-size="6.85" text-anchor="middle" font-weight="normal" font-style="normal" fill="#111"  stroke="#111" stroke-width="0.18">66</text>
<text x="364.75" y="63.4" font-size="6.85" text-anchor="middle" font-weight="normal" font-style="normal" fill="#111"  stroke="#111" stroke-width="0.18">60</text>
<text x="438.62" y="63.4" font-size="6.85" text-anchor="middle" font-weight="normal" font-style="normal" fill="#111"  stroke="#111" stroke-width="0.18">5,20</text>
<text x="512.62" y="63.4" font-size="6.85" text-anchor="middle" font-weight="normal" font-style="normal" fill="#111"  stroke="#111" stroke-width="0.18">60</text>
<text x="560.5" y="63.4" font-size="6.85" text-anchor="middle" font-weight="normal" font-style="normal" fill="#111"  stroke="#111" stroke-width="0.18">3,15</text>
<text x="622.12" y="63.4" font-size="6.85" text-anchor="middle" font-weight="normal" font-style="normal" fill="#111"  stroke="#111" stroke-width="0.18">1,70</text>
<text x="663.12" y="63.4" font-size="6.85" text-anchor="middle" font-weight="normal" font-style="normal" fill="#111"  stroke="#111" stroke-width="0.18">1,50</text>
<text x="676" y="63.4" font-size="6.85" text-anchor="middle" font-weight="normal" font-style="normal" fill="#111"  stroke="#111" stroke-width="0.18">30</text>
<text x="700.38" y="63.4" font-size="6.85" text-anchor="middle" font-weight="normal" font-style="normal" fill="#111"  stroke="#111" stroke-width="0.18">85</text>
<text x="718.75" y="63.4" font-size="6.85" text-anchor="middle" font-weight="normal" font-style="normal" fill="#111"  stroke="#111" stroke-width="0.18">60</text>
<text x="783.25" y="63.4" font-size="6.85" text-anchor="middle" font-weight="normal" font-style="normal" fill="#111"  stroke="#111" stroke-width="0.18">4,20</text>
<text x="874" y="63.4" font-size="6.85" text-anchor="middle" font-weight="normal" font-style="normal" fill="#111"  stroke="#111" stroke-width="0.18">2,90</text>
<text x="736" y="63.4" font-size="6.85" text-anchor="middle" font-weight="normal" font-style="normal" fill="#111"  stroke="#111" stroke-width="0.18">13</text>
<text x="206.88" y="76" font-size="6.85" text-anchor="middle" font-weight="normal" font-style="normal" fill="#111"  stroke="#111" stroke-width="0.18">4,80</text>
<text x="300.5" y="76" font-size="6.85" text-anchor="middle" font-weight="normal" font-style="normal" fill="#111"  stroke="#111" stroke-width="0.18">2,54</text>
<text x="349" y="76" font-size="6.85" text-anchor="middle" font-weight="normal" font-style="normal" fill="#111"  stroke="#111" stroke-width="0.18">1,26</text>
<text x="434.88" y="76" font-size="6.85" text-anchor="middle" font-weight="normal" font-style="normal" fill="#111"  stroke="#111" stroke-width="0.18">5,50</text>
<text x="512.62" y="76" font-size="6.85" text-anchor="middle" font-weight="normal" font-style="normal" fill="#111"  stroke="#111" stroke-width="0.18">60</text>
<text x="560.5" y="76" font-size="6.85" text-anchor="middle" font-weight="normal" font-style="normal" fill="#111"  stroke="#111" stroke-width="0.18">3,15</text>
<text x="631.75" y="76" font-size="6.85" text-anchor="middle" font-weight="normal" font-style="normal" fill="#111"  stroke="#111" stroke-width="0.18">2,45</text>
<text x="676.25" y="76" font-size="6.85" text-anchor="middle" font-weight="normal" font-style="normal" fill="#111"  stroke="#111" stroke-width="0.18">1,05</text>
<text x="704.38" y="76" font-size="6.85" text-anchor="middle" font-weight="normal" font-style="normal" fill="#111"  stroke="#111" stroke-width="0.18">1,15</text>
<text x="783.25" y="76" font-size="6.85" text-anchor="middle" font-weight="normal" font-style="normal" fill="#111"  stroke="#111" stroke-width="0.18">4,20</text>
<text x="874" y="76" font-size="6.85" text-anchor="middle" font-weight="normal" font-style="normal" fill="#111"  stroke="#111" stroke-width="0.18">2,90</text>
<text x="736" y="76" font-size="6.85" text-anchor="middle" font-weight="normal" font-style="normal" fill="#111"  stroke="#111" stroke-width="0.18">43</text>
<text x="159.75" y="488.2" font-size="6.85" text-anchor="middle" font-weight="normal" font-style="normal" fill="#111"  stroke="#111" stroke-width="0.18">60</text>
<text x="200.62" y="488.2" font-size="6.85" text-anchor="middle" font-weight="normal" font-style="normal" fill="#111"  stroke="#111" stroke-width="0.18">2,60</text>
<text x="256.62" y="488.2" font-size="6.85" text-anchor="middle" font-weight="normal" font-style="normal" fill="#111"  stroke="#111" stroke-width="0.18">1,80</text>
<text x="289.12" y="488.2" font-size="6.85" text-anchor="middle" font-weight="normal" font-style="normal" fill="#111"  stroke="#111" stroke-width="0.18">75</text>
<text x="330" y="488.2" font-size="6.85" text-anchor="middle" font-weight="normal" font-style="normal" fill="#111"  stroke="#111" stroke-width="0.18">2,45</text>
<text x="373.88" y="488.2" font-size="6.85" text-anchor="middle" font-weight="normal" font-style="normal" fill="#111"  stroke="#111" stroke-width="0.18">1,00</text>
<text x="421" y="488.2" font-size="6.85" text-anchor="middle" font-weight="normal" font-style="normal" fill="#111"  stroke="#111" stroke-width="0.18">2,70</text>
<text x="487.25" y="488.2" font-size="6.85" text-anchor="middle" font-weight="normal" font-style="normal" fill="#111"  stroke="#111" stroke-width="0.18">2,50</text>
<text x="550.25" y="488.2" font-size="6.85" text-anchor="middle" font-weight="normal" font-style="normal" fill="#111"  stroke="#111" stroke-width="0.18">2,45</text>
<text x="596.25" y="488.2" font-size="6.85" text-anchor="middle" font-weight="normal" font-style="normal" fill="#111"  stroke="#111" stroke-width="0.18">1,15</text>
<text x="628" y="488.2" font-size="6.85" text-anchor="middle" font-weight="normal" font-style="normal" fill="#111"  stroke="#111" stroke-width="0.18">1,35</text>
<text x="687.12" y="488.2" font-size="6.85" text-anchor="middle" font-weight="normal" font-style="normal" fill="#111"  stroke="#111" stroke-width="0.18">3,30</text>
<text x="769.38" y="488.2" font-size="6.85" text-anchor="middle" font-weight="normal" font-style="normal" fill="#111"  stroke="#111" stroke-width="0.18">3,16</text>
<text x="861.88" y="488.2" font-size="6.85" text-anchor="middle" font-weight="normal" font-style="normal" fill="#111"  stroke="#111" stroke-width="0.18">4,10</text>
<text x="159.75" y="501" font-size="6.85" text-anchor="middle" font-weight="normal" font-style="normal" fill="#111"  stroke="#111" stroke-width="0.18">60</text>
<text x="191.25" y="501" font-size="6.85" text-anchor="middle" font-weight="normal" font-style="normal" fill="#111"  stroke="#111" stroke-width="0.18">1,85</text>
<text x="233.75" y="501" font-size="6.85" text-anchor="middle" font-weight="normal" font-style="normal" fill="#111"  stroke="#111" stroke-width="0.18">1,50</text>
<text x="266" y="501" font-size="6.85" text-anchor="middle" font-weight="normal" font-style="normal" fill="#111"  stroke="#111" stroke-width="0.18">1,05</text>
<text x="298.5" y="501" font-size="6.85" text-anchor="middle" font-weight="normal" font-style="normal" fill="#111"  stroke="#111" stroke-width="0.18">1,50</text>
<text x="336.5" y="501" font-size="6.85" text-anchor="middle" font-weight="normal" font-style="normal" fill="#111"  stroke="#111" stroke-width="0.18">1,70</text>
<text x="392.38" y="501" font-size="6.85" text-anchor="middle" font-weight="normal" font-style="normal" fill="#111"  stroke="#111" stroke-width="0.18">1,95</text>
<text x="455.38" y="501" font-size="6.85" text-anchor="middle" font-weight="normal" font-style="normal" fill="#111"  stroke="#111" stroke-width="0.18">3,00</text>
<text x="506.25" y="501" font-size="6.85" text-anchor="middle" font-weight="normal" font-style="normal" fill="#111"  stroke="#111" stroke-width="0.18">1,00</text>
<text x="540.62" y="501" font-size="6.85" text-anchor="middle" font-weight="normal" font-style="normal" fill="#111"  stroke="#111" stroke-width="0.18">1,70</text>
<text x="578.5" y="501" font-size="6.85" text-anchor="middle" font-weight="normal" font-style="normal" fill="#111"  stroke="#111" stroke-width="0.18">1,50</text>
<text x="618.62" y="501" font-size="6.85" text-anchor="middle" font-weight="normal" font-style="normal" fill="#111"  stroke="#111" stroke-width="0.18">60</text>
<text x="645.38" y="501" font-size="6.85" text-anchor="middle" font-weight="normal" font-style="normal" fill="#111"  stroke="#111" stroke-width="0.18">1,50</text>
<text x="679.5" y="501" font-size="6.85" text-anchor="middle" font-weight="normal" font-style="normal" fill="#111"  stroke="#111" stroke-width="0.18">1,20</text>
<text x="729.12" y="501" font-size="6.85" text-anchor="middle" font-weight="normal" font-style="normal" fill="#111"  stroke="#111" stroke-width="0.18">2,70</text>
<text x="786.62" y="501" font-size="6.85" text-anchor="middle" font-weight="normal" font-style="normal" fill="#111"  stroke="#111" stroke-width="0.18">1,81</text>
<text x="861.88" y="501" font-size="6.85" text-anchor="middle" font-weight="normal" font-style="normal" fill="#111"  stroke="#111" stroke-width="0.18">4,10</text>
<text x="354.5" y="501" font-size="6.85" text-anchor="middle" font-weight="normal" font-style="normal" fill="#111"  stroke="#111" stroke-width="0.18">25</text>
<text x="594.5" y="501" font-size="6.85" text-anchor="middle" font-weight="normal" font-style="normal" fill="#111"  stroke="#111" stroke-width="0.18">40</text>
<text x="153.5" y="506.4" font-size="6.85" text-anchor="middle" font-weight="normal" font-style="normal" fill="#111"  stroke="#111" stroke-width="0.18">30</text>
<text x="167" y="506.4" font-size="6.85" text-anchor="middle" font-weight="normal" font-style="normal" fill="#111"  stroke="#111" stroke-width="0.18">15</text>
<text x="179.3" y="506.4" font-size="6.85" text-anchor="middle" font-weight="normal" font-style="normal" fill="#111"  stroke="#111" stroke-width="0.18">15</text>
<text x="223.5" y="514" font-size="6.85" text-anchor="middle" font-weight="normal" font-style="normal" fill="#111"  stroke="#111" stroke-width="0.18">3,50</text>
<text x="314.5" y="514" font-size="6.85" text-anchor="middle" font-weight="normal" font-style="normal" fill="#111"  stroke="#111" stroke-width="0.18">2,75</text>
<text x="436" y="514" font-size="6.85" text-anchor="middle" font-weight="normal" font-style="normal" fill="#111"  stroke="#111" stroke-width="0.18">5,85</text>
<text x="560.38" y="514" font-size="6.85" text-anchor="middle" font-weight="normal" font-style="normal" fill="#111"  stroke="#111" stroke-width="0.18">3,15</text>
<text x="700.5" y="514" font-size="6.85" text-anchor="middle" font-weight="normal" font-style="normal" fill="#111"  stroke="#111" stroke-width="0.18">7,35</text>
<text x="858.5" y="514" font-size="6.85" text-anchor="middle" font-weight="normal" font-style="normal" fill="#111"  stroke="#111" stroke-width="0.18">3,65</text>
<text x="146.3" y="514" font-size="6.85" text-anchor="middle" font-weight="normal" font-style="normal" fill="#111"  stroke="#111" stroke-width="0.18">15</text>
<text x="186" y="514" font-size="6.85" text-anchor="middle" font-weight="normal" font-style="normal" fill="#111"  stroke="#111" stroke-width="0.18">30</text>
<text x="261.5" y="514" font-size="6.85" text-anchor="middle" font-weight="normal" font-style="normal" fill="#111"  stroke="#111" stroke-width="0.18">30</text>
<text x="286.8" y="514" font-size="6.85" text-anchor="middle" font-weight="normal" font-style="normal" fill="#111"  stroke="#111" stroke-width="0.18">15</text>
<text x="343" y="514" font-size="6.85" text-anchor="middle" font-weight="normal" font-style="normal" fill="#111"  stroke="#111" stroke-width="0.18">30</text>
<text x="367.3" y="514" font-size="6.85" text-anchor="middle" font-weight="normal" font-style="normal" fill="#111"  stroke="#111" stroke-width="0.18">15</text>
<text x="503.5" y="514" font-size="6.85" text-anchor="middle" font-weight="normal" font-style="normal" fill="#111"  stroke="#111" stroke-width="0.18">30</text>
<text x="527" y="514" font-size="6.85" text-anchor="middle" font-weight="normal" font-style="normal" fill="#111"  stroke="#111" stroke-width="0.18">10</text>
<text x="594.5" y="514" font-size="6.85" text-anchor="middle" font-weight="normal" font-style="normal" fill="#111"  stroke="#111" stroke-width="0.18">40</text>
<text x="792.3" y="514" font-size="6.85" text-anchor="middle" font-weight="normal" font-style="normal" fill="#111"  stroke="#111" stroke-width="0.18">30</text>
<text x="816" y="514" font-size="6.85" text-anchor="middle" font-weight="normal" font-style="normal" fill="#111"  stroke="#111" stroke-width="0.18">15</text>
<text x="896.5" y="514" font-size="6.85" text-anchor="middle" font-weight="normal" font-style="normal" fill="#111"  stroke="#111" stroke-width="0.18">30</text>
<text x="920.5" y="514" font-size="6.85" text-anchor="middle" font-weight="normal" font-style="normal" fill="#111"  stroke="#111" stroke-width="0.18">15</text>
<text x="159.75" y="525.4" font-size="6.85" text-anchor="middle" font-weight="normal" font-style="normal" fill="#111"  stroke="#111" stroke-width="0.18">60</text>
<text x="223.5" y="525.4" font-size="6.85" text-anchor="middle" font-weight="normal" font-style="normal" fill="#111"  stroke="#111" stroke-width="0.18">4,40</text>
<text x="320.38" y="525.4" font-size="6.85" text-anchor="middle" font-weight="normal" font-style="normal" fill="#111"  stroke="#111" stroke-width="0.18">3,20</text>
<text x="440.12" y="525.4" font-size="6.85" text-anchor="middle" font-weight="normal" font-style="normal" fill="#111"  stroke="#111" stroke-width="0.18">6,20</text>
<text x="565.5" y="525.4" font-size="6.85" text-anchor="middle" font-weight="normal" font-style="normal" fill="#111"  stroke="#111" stroke-width="0.18">3,60</text>
<text x="710.5" y="525.4" font-size="6.85" text-anchor="middle" font-weight="normal" font-style="normal" fill="#111"  stroke="#111" stroke-width="0.18">7,80</text>
<text x="139.5" y="525.4" font-size="6.85" text-anchor="middle" font-weight="normal" font-style="normal" fill="#111"  stroke="#111" stroke-width="0.18">25</text>
<text x="54.3" y="276" font-size="6.85" text-anchor="middle" font-weight="normal" font-style="normal" fill="#111" transform="rotate(-90 54.3 276)"  stroke="#111" stroke-width="0.18">14,06</text>
<text x="66.9" y="191" font-size="6.85" text-anchor="middle" font-weight="normal" font-style="normal" fill="#111" transform="rotate(-90 66.9 191)"  stroke="#111" stroke-width="0.18">30</text>
<text x="66.9" y="222.1" font-size="6.85" text-anchor="middle" font-weight="normal" font-style="normal" fill="#111" transform="rotate(-90 66.9 222.1)"  stroke="#111" stroke-width="0.18">3,00</text>
<text x="66.9" y="276" font-size="6.85" text-anchor="middle" font-weight="normal" font-style="normal" fill="#111" transform="rotate(-90 66.9 276)"  stroke="#111" stroke-width="0.18">30</text>
<text x="66.9" y="311" font-size="6.85" text-anchor="middle" font-weight="normal" font-style="normal" fill="#111" transform="rotate(-90 66.9 311)"  stroke="#111" stroke-width="0.18">3,30</text>
<text x="66.9" y="347.5" font-size="6.85" text-anchor="middle" font-weight="normal" font-style="normal" fill="#111" transform="rotate(-90 66.9 347.5)"  stroke="#111" stroke-width="0.18">30</text>
<text x="66.9" y="370.5" font-size="6.85" text-anchor="middle" font-weight="normal" font-style="normal" fill="#111" transform="rotate(-90 66.9 370.5)"  stroke="#111" stroke-width="0.18">15</text>
<text x="66.9" y="398" font-size="6.85" text-anchor="middle" font-weight="normal" font-style="normal" fill="#111" transform="rotate(-90 66.9 398)"  stroke="#111" stroke-width="0.18">2,85</text>
<text x="66.9" y="429" font-size="6.85" text-anchor="middle" font-weight="normal" font-style="normal" fill="#111" transform="rotate(-90 66.9 429)"  stroke="#111" stroke-width="0.18">30</text>
<text x="66.9" y="454.5" font-size="6.85" text-anchor="middle" font-weight="normal" font-style="normal" fill="#111" transform="rotate(-90 66.9 454.5)"  stroke="#111" stroke-width="0.18">15</text>
<text x="79.45" y="183.5" font-size="6.85" text-anchor="middle" font-weight="normal" font-style="normal" fill="#111" transform="rotate(-90 79.45 183.5)"  stroke="#111" stroke-width="0.18">55</text>
<text x="79.45" y="222.1" font-size="6.85" text-anchor="middle" font-weight="normal" font-style="normal" fill="#111" transform="rotate(-90 79.45 222.1)"  stroke="#111" stroke-width="0.18">2,50</text>
<text x="79.45" y="262" font-size="6.85" text-anchor="middle" font-weight="normal" font-style="normal" fill="#111" transform="rotate(-90 79.45 262)"  stroke="#111" stroke-width="0.18">55</text>
<text x="79.45" y="283.15" font-size="6.85" text-anchor="middle" font-weight="normal" font-style="normal" fill="#111" transform="rotate(-90 79.45 283.15)"  stroke="#111" stroke-width="0.18">1,20</text>
<text x="79.45" y="317.5" font-size="6.85" text-anchor="middle" font-weight="normal" font-style="normal" fill="#111" transform="rotate(-90 79.45 317.5)"  stroke="#111" stroke-width="0.18">1,50</text>
<text x="79.45" y="347" font-size="6.85" text-anchor="middle" font-weight="normal" font-style="normal" fill="#111" transform="rotate(-90 79.45 347)"  stroke="#111" stroke-width="0.18">1,05</text>
<text x="79.45" y="398" font-size="6.85" text-anchor="middle" font-weight="normal" font-style="normal" fill="#111" transform="rotate(-90 79.45 398)"  stroke="#111" stroke-width="0.18">3,30</text>
<text x="92.8" y="199.2" font-size="6.85" text-anchor="middle" font-weight="normal" font-style="normal" fill="#111" transform="rotate(-90 92.8 199.2)"  stroke="#111" stroke-width="0.18">1,80</text>
<text x="92.8" y="245" font-size="6.85" text-anchor="middle" font-weight="normal" font-style="normal" fill="#111" transform="rotate(-90 92.8 245)"  stroke="#111" stroke-width="0.18">1,80</text>
<text x="92.8" y="291" font-size="6.85" text-anchor="middle" font-weight="normal" font-style="normal" fill="#111" transform="rotate(-90 92.8 291)"  stroke="#111" stroke-width="0.18">1,95</text>
<text x="92.8" y="338" font-size="6.85" text-anchor="middle" font-weight="normal" font-style="normal" fill="#111" transform="rotate(-90 92.8 338)"  stroke="#111" stroke-width="0.18">1,80</text>
<text x="92.8" y="398" font-size="6.85" text-anchor="middle" font-weight="normal" font-style="normal" fill="#111" transform="rotate(-90 92.8 398)"  stroke="#111" stroke-width="0.18">3,30</text>
<text x="956.8" y="104.6" font-size="6.85" text-anchor="middle" font-weight="normal" font-style="normal" fill="#111" transform="rotate(-90 956.8 104.6)"  stroke="#111" stroke-width="0.18">1,05</text>
<text x="956.8" y="152.2" font-size="6.85" text-anchor="middle" font-weight="normal" font-style="normal" fill="#111" transform="rotate(-90 956.8 152.2)"  stroke="#111" stroke-width="0.18">2,70</text>
<text x="956.8" y="224.6" font-size="6.85" text-anchor="middle" font-weight="normal" font-style="normal" fill="#111" transform="rotate(-90 956.8 224.6)"  stroke="#111" stroke-width="0.18">3,00</text>
<text x="956.8" y="289.55" font-size="6.85" text-anchor="middle" font-weight="normal" font-style="normal" fill="#111" transform="rotate(-90 956.8 289.55)"  stroke="#111" stroke-width="0.18">2,10</text>
<text x="956.8" y="325.8" font-size="6.85" text-anchor="middle" font-weight="normal" font-style="normal" fill="#111" transform="rotate(-90 956.8 325.8)"  stroke="#111" stroke-width="0.18">75</text>
<text x="956.8" y="359.8" font-size="6.85" text-anchor="middle" font-weight="normal" font-style="normal" fill="#111" transform="rotate(-90 956.8 359.8)"  stroke="#111" stroke-width="0.18">1,92</text>
<text x="968.6" y="104.6" font-size="6.85" text-anchor="middle" font-weight="normal" font-style="normal" fill="#111" transform="rotate(-90 968.6 104.6)"  stroke="#111" stroke-width="0.18">1,05</text>
<text x="968.6" y="142.65" font-size="6.85" text-anchor="middle" font-weight="normal" font-style="normal" fill="#111" transform="rotate(-90 968.6 142.65)"  stroke="#111" stroke-width="0.18">1,95</text>
<text x="968.6" y="186.4" font-size="6.85" text-anchor="middle" font-weight="normal" font-style="normal" fill="#111" transform="rotate(-90 968.6 186.4)"  stroke="#111" stroke-width="0.18">1,50</text>
<text x="968.6" y="201" font-size="6.85" text-anchor="middle" font-weight="normal" font-style="normal" fill="#111" transform="rotate(-90 968.6 201)"  stroke="#111" stroke-width="0.18">45</text>
<text x="968.6" y="230.35" font-size="6.85" text-anchor="middle" font-weight="normal" font-style="normal" fill="#111" transform="rotate(-90 968.6 230.35)"  stroke="#111" stroke-width="0.18">1,05</text>
<text x="968.6" y="262.8" font-size="6.85" text-anchor="middle" font-weight="normal" font-style="normal" fill="#111" transform="rotate(-90 968.6 262.8)"  stroke="#111" stroke-width="0.18">1,50</text>
<text x="968.6" y="299.1" font-size="6.85" text-anchor="middle" font-weight="normal" font-style="normal" fill="#111" transform="rotate(-90 968.6 299.1)"  stroke="#111" stroke-width="0.18">1,35</text>
<text x="968.6" y="335.35" font-size="6.85" text-anchor="middle" font-weight="normal" font-style="normal" fill="#111" transform="rotate(-90 968.6 335.35)"  stroke="#111" stroke-width="0.18">1,50</text>
<text x="968.6" y="369.35" font-size="6.85" text-anchor="middle" font-weight="normal" font-style="normal" fill="#111" transform="rotate(-90 968.6 369.35)"  stroke="#111" stroke-width="0.18">1,17</text>
<text x="976.9" y="98" font-size="6.85" text-anchor="middle" font-weight="normal" font-style="normal" fill="#111" transform="rotate(-90 976.9 98)"  stroke="#111" stroke-width="0.18">30</text>
<text x="981.9" y="110" font-size="6.85" text-anchor="middle" font-weight="normal" font-style="normal" fill="#111" transform="rotate(-90 981.9 110)"  stroke="#111" stroke-width="0.18">60</text>
<text x="973.9" y="117" font-size="6.85" text-anchor="middle" font-weight="normal" font-style="normal" fill="#111" transform="rotate(-90 973.9 117)"  stroke="#111" stroke-width="0.18">15</text>
<text x="981.9" y="135" font-size="6.85" text-anchor="middle" font-weight="normal" font-style="normal" fill="#111" transform="rotate(-90 981.9 135)"  stroke="#111" stroke-width="0.18">30</text>
<text x="981.9" y="173.3" font-size="6.85" text-anchor="middle" font-weight="normal" font-style="normal" fill="#111" transform="rotate(-90 981.9 173.3)"  stroke="#111" stroke-width="0.18">3,45</text>
<text x="981.9" y="210" font-size="6.85" text-anchor="middle" font-weight="normal" font-style="normal" fill="#111" transform="rotate(-90 981.9 210)"  stroke="#111" stroke-width="0.18">15</text>
<text x="981.9" y="236" font-size="6.85" text-anchor="middle" font-weight="normal" font-style="normal" fill="#111" transform="rotate(-90 981.9 236)"  stroke="#111" stroke-width="0.18">30</text>
<text x="981.9" y="266.8" font-size="6.85" text-anchor="middle" font-weight="normal" font-style="normal" fill="#111" transform="rotate(-90 981.9 266.8)"  stroke="#111" stroke-width="0.18">3,00</text>
<text x="981.9" y="299" font-size="6.85" text-anchor="middle" font-weight="normal" font-style="normal" fill="#111" transform="rotate(-90 981.9 299)"  stroke="#111" stroke-width="0.18">30</text>
<text x="981.9" y="324" font-size="6.85" text-anchor="middle" font-weight="normal" font-style="normal" fill="#111" transform="rotate(-90 981.9 324)"  stroke="#111" stroke-width="0.18">15</text>
<text x="981.9" y="344.65" font-size="6.85" text-anchor="middle" font-weight="normal" font-style="normal" fill="#111" transform="rotate(-90 981.9 344.65)"  stroke="#111" stroke-width="0.18">2,22</text>
<text x="981.9" y="367" font-size="6.85" text-anchor="middle" font-weight="normal" font-style="normal" fill="#111" transform="rotate(-90 981.9 367)"  stroke="#111" stroke-width="0.18">30</text>
<text x="981.9" y="392" font-size="6.85" text-anchor="middle" font-weight="normal" font-style="normal" fill="#111" transform="rotate(-90 981.9 392)"  stroke="#111" stroke-width="0.18">15</text>
<text x="994.9" y="104.6" font-size="6.85" text-anchor="middle" font-weight="normal" font-style="normal" fill="#111" transform="rotate(-90 994.9 104.6)"  stroke="#111" stroke-width="0.18">1,05</text>
<text x="994.9" y="167.6" font-size="6.85" text-anchor="middle" font-weight="normal" font-style="normal" fill="#111" transform="rotate(-90 994.9 167.6)"  stroke="#111" stroke-width="0.18">3,90</text>
<text x="994.9" y="266.8" font-size="6.85" text-anchor="middle" font-weight="normal" font-style="normal" fill="#111" transform="rotate(-90 994.9 266.8)"  stroke="#111" stroke-width="0.18">3,90</text>
<text x="994.9" y="350.35" font-size="6.85" text-anchor="middle" font-weight="normal" font-style="normal" fill="#111" transform="rotate(-90 994.9 350.35)"  stroke="#111" stroke-width="0.18">2,67</text>
<text x="536.8" y="245.5" font-size="6.85" text-anchor="middle" font-weight="normal" font-style="normal" fill="#111" transform="rotate(-90 536.8 245.5)"  stroke="#111" stroke-width="0.18">11,92</text>
<text x="558.4" y="84.5" font-size="6.85" text-anchor="middle" font-weight="normal" font-style="normal" fill="#111" transform="rotate(-90 558.4 84.5)"  stroke="#111" stroke-width="0.18">15</text>
<text x="549.4" y="109" font-size="6.85" text-anchor="middle" font-weight="normal" font-style="normal" fill="#111" transform="rotate(-90 549.4 109)"  stroke="#111" stroke-width="0.18">30</text>
<text x="549.4" y="147" font-size="6.85" text-anchor="middle" font-weight="normal" font-style="normal" fill="#111" transform="rotate(-90 549.4 147)"  stroke="#111" stroke-width="0.18">3,47</text>
<text x="549.4" y="184.5" font-size="6.85" text-anchor="middle" font-weight="normal" font-style="normal" fill="#111" transform="rotate(-90 549.4 184.5)"  stroke="#111" stroke-width="0.18">15</text>
<text x="542.4" y="193.5" font-size="6.85" text-anchor="middle" font-weight="normal" font-style="normal" fill="#111" transform="rotate(-90 542.4 193.5)"  stroke="#111" stroke-width="0.18">30</text>
<text x="542.4" y="204" font-size="6.85" text-anchor="middle" font-weight="normal" font-style="normal" fill="#111" transform="rotate(-90 542.4 204)"  stroke="#111" stroke-width="0.18">7</text>
<text x="542.4" y="216" font-size="6.85" text-anchor="middle" font-weight="normal" font-style="normal" fill="#111" transform="rotate(-90 542.4 216)"  stroke="#111" stroke-width="0.18">15</text>
<text x="549.4" y="222.5" font-size="6.85" text-anchor="middle" font-weight="normal" font-style="normal" fill="#111" transform="rotate(-90 549.4 222.5)"  stroke="#111" stroke-width="0.18">30</text>
<text x="549.4" y="313" font-size="6.85" text-anchor="middle" font-weight="normal" font-style="normal" fill="#111" transform="rotate(-90 549.4 313)"  stroke="#111" stroke-width="0.18">7,03</text>
<text x="562.1" y="139" font-size="6.85" text-anchor="middle" font-weight="normal" font-style="normal" fill="#111" transform="rotate(-90 562.1 139)"  stroke="#111" stroke-width="0.18">3,92</text>
<text x="562.1" y="198.25" font-size="6.85" text-anchor="middle" font-weight="normal" font-style="normal" fill="#111" transform="rotate(-90 562.1 198.25)"  stroke="#111" stroke-width="0.18">57</text>
<text x="562.1" y="216.7" font-size="6.85" text-anchor="middle" font-weight="normal" font-style="normal" fill="#111" transform="rotate(-90 562.1 216.7)"  stroke="#111" stroke-width="0.18">88</text>
<text x="562.1" y="236.5" font-size="6.85" text-anchor="middle" font-weight="normal" font-style="normal" fill="#111" transform="rotate(-90 562.1 236.5)"  stroke="#111" stroke-width="0.18">60</text>
<text x="562.1" y="322" font-size="6.85" text-anchor="middle" font-weight="normal" font-style="normal" fill="#111" transform="rotate(-90 562.1 322)"  stroke="#111" stroke-width="0.18">5,96</text>
<text x="574.7" y="139" font-size="6.85" text-anchor="middle" font-weight="normal" font-style="normal" fill="#111" transform="rotate(-90 574.7 139)"  stroke="#111" stroke-width="0.18">3,92</text>
<text x="574.7" y="198.25" font-size="6.85" text-anchor="middle" font-weight="normal" font-style="normal" fill="#111" transform="rotate(-90 574.7 198.25)"  stroke="#111" stroke-width="0.18">57</text>
<text x="574.7" y="224" font-size="6.85" text-anchor="middle" font-weight="normal" font-style="normal" fill="#111" transform="rotate(-90 574.7 224)"  stroke="#111" stroke-width="0.18">1,18</text>
<text x="574.7" y="315" font-size="6.85" text-anchor="middle" font-weight="normal" font-style="normal" fill="#111" transform="rotate(-90 574.7 315)"  stroke="#111" stroke-width="0.18">6,25</text>
<text x="586.5" y="233.8" font-size="6.85" text-anchor="middle" font-weight="normal" font-style="normal" fill="#111"  stroke="#111" stroke-width="0.18">60</text>
<text x="586.5" y="244.6" font-size="6.85" text-anchor="middle" font-weight="normal" font-style="normal" fill="#111"  stroke="#111" stroke-width="0.18">60</text>
<text x="340.5" y="277.8" font-size="7" text-anchor="start" font-weight="normal" font-style="normal" fill="#111"  stroke="#111" stroke-width="0.18">±0,00</text>
<text x="469" y="261.2" font-size="7" text-anchor="start" font-weight="normal" font-style="normal" fill="#111"  stroke="#111" stroke-width="0.18">±0,00</text>
<text x="420" y="382.6" font-size="7" text-anchor="start" font-weight="normal" font-style="normal" fill="#111"  stroke="#111" stroke-width="0.18">-0,02</text>
<text x="127.5" y="455.2" font-size="7" text-anchor="start" font-weight="normal" font-style="normal" fill="#111"  stroke="#111" stroke-width="0.18">-0,02</text>
<text x="535.8" y="173.4" font-size="7" text-anchor="start" font-weight="normal" font-style="normal" fill="#111"  stroke="#111" stroke-width="0.18">-0,04</text>
<text x="691.3" y="285.7" font-size="7" text-anchor="start" font-weight="normal" font-style="normal" fill="#111"  stroke="#111" stroke-width="0.18">±0,00</text>
<text x="789.5" y="169.7" font-size="7" text-anchor="start" font-weight="normal" font-style="normal" fill="#111"  stroke="#111" stroke-width="0.18">±0,00</text>
<text x="825.5" y="390.2" font-size="7" text-anchor="start" font-weight="normal" font-style="normal" fill="#111"  stroke="#111" stroke-width="0.18">-0,02</text>
<text x="220" y="207" font-size="6.7" text-anchor="middle" font-weight="bold" font-style="normal" fill="#111"  stroke="#111" stroke-width="0.18">Garázs</text>
<text x="220" y="214.4" font-size="6.25" text-anchor="middle" font-weight="normal" font-style="normal" fill="#111"  stroke="#111" stroke-width="0.18">15,66 m²</text>
<text x="220" y="221.5" font-size="6.25" text-anchor="middle" font-weight="normal" font-style="normal" fill="#111"  stroke="#111" stroke-width="0.18">kőporc.</text>
<text x="317.8" y="202.7" font-size="6.7" text-anchor="middle" font-weight="bold" font-style="normal" fill="#111"  stroke="#111" stroke-width="0.18">Fürdő</text>
<text x="317.8" y="210.1" font-size="6.25" text-anchor="middle" font-weight="normal" font-style="normal" fill="#111"  stroke="#111" stroke-width="0.18">6,05 m²</text>
<text x="317.8" y="217.2" font-size="6.25" text-anchor="middle" font-weight="normal" font-style="normal" fill="#111"  stroke="#111" stroke-width="0.18">kőporc.</text>
<text x="377.3" y="204.3" font-size="6.7" text-anchor="middle" font-weight="bold" font-style="normal" fill="#111"  stroke="#111" stroke-width="0.18">Kra.</text>
<text x="377.3" y="211.7" font-size="6.25" text-anchor="middle" font-weight="normal" font-style="normal" fill="#111"  stroke="#111" stroke-width="0.18">1,61 m²</text>
<text x="377.3" y="218.8" font-size="6.25" text-anchor="middle" font-weight="normal" font-style="normal" fill="#111"  stroke="#111" stroke-width="0.18">kőporc.</text>
<text x="378.8" y="237.5" font-size="6.7" text-anchor="middle" font-weight="bold" font-style="normal" fill="#111"  stroke="#111" stroke-width="0.18">WC</text>
<text x="378.8" y="244.9" font-size="6.25" text-anchor="middle" font-weight="normal" font-style="normal" fill="#111"  stroke="#111" stroke-width="0.18">1,63 m²</text>
<text x="378.8" y="252" font-size="6.25" text-anchor="middle" font-weight="normal" font-style="normal" fill="#111"  stroke="#111" stroke-width="0.18">kőporc.</text>
<text x="459.3" y="211.8" font-size="6.7" text-anchor="middle" font-weight="bold" font-style="normal" fill="#111"  stroke="#111" stroke-width="0.18">Konyha Étk.</text>
<text x="459.3" y="219.2" font-size="6.25" text-anchor="middle" font-weight="normal" font-style="normal" fill="#111"  stroke="#111" stroke-width="0.18">10,20 m²</text>
<text x="459.3" y="226.3" font-size="6.25" text-anchor="middle" font-weight="normal" font-style="normal" fill="#111"  stroke="#111" stroke-width="0.18">lam.park.</text>
<text x="459.5" y="303.8" font-size="6.7" text-anchor="middle" font-weight="bold" font-style="normal" fill="#111"  stroke="#111" stroke-width="0.18">Nappali</text>
<text x="459.5" y="311.2" font-size="6.25" text-anchor="middle" font-weight="normal" font-style="normal" fill="#111"  stroke="#111" stroke-width="0.18">17,68 m²</text>
<text x="459.5" y="318.3" font-size="6.25" text-anchor="middle" font-weight="normal" font-style="normal" fill="#111"  stroke="#111" stroke-width="0.18">lam.park.</text>
<text x="389.3" y="306.3" font-size="6.7" text-anchor="middle" font-weight="bold" font-style="normal" fill="#111"  stroke="#111" stroke-width="0.18">Előtér</text>
<text x="389.3" y="313.7" font-size="6.25" text-anchor="middle" font-weight="normal" font-style="normal" fill="#111"  stroke="#111" stroke-width="0.18">6,28 m²</text>
<text x="389.3" y="320.8" font-size="6.25" text-anchor="middle" font-weight="normal" font-style="normal" fill="#111"  stroke="#111" stroke-width="0.18">kőporc.</text>
<text x="276" y="275.3" font-size="6.7" text-anchor="middle" font-weight="bold" font-style="normal" fill="#111"  stroke="#111" stroke-width="0.18">Közl.</text>
<text x="276" y="282.7" font-size="6.25" text-anchor="middle" font-weight="normal" font-style="normal" fill="#111"  stroke="#111" stroke-width="0.18">6,80 m²</text>
<text x="276" y="289.8" font-size="6.25" text-anchor="middle" font-weight="normal" font-style="normal" fill="#111"  stroke="#111" stroke-width="0.18">kőporc.</text>
<text x="205.5" y="291.3" font-size="6.7" text-anchor="middle" font-weight="bold" font-style="normal" fill="#111"  stroke="#111" stroke-width="0.18">Szoba</text>
<text x="205.5" y="298.7" font-size="6.25" text-anchor="middle" font-weight="normal" font-style="normal" fill="#111"  stroke="#111" stroke-width="0.18">9,91 m²</text>
<text x="205.5" y="305.8" font-size="6.25" text-anchor="middle" font-weight="normal" font-style="normal" fill="#111"  stroke="#111" stroke-width="0.18">lam.park.</text>
<text x="320" y="340.5" font-size="6.7" text-anchor="middle" font-weight="bold" font-style="normal" fill="#111"  stroke="#111" stroke-width="0.18">Szoba</text>
<text x="320" y="347.9" font-size="6.25" text-anchor="middle" font-weight="normal" font-style="normal" fill="#111"  stroke="#111" stroke-width="0.18">11,04 m²</text>
<text x="320" y="355" font-size="6.25" text-anchor="middle" font-weight="normal" font-style="normal" fill="#111"  stroke="#111" stroke-width="0.18">lam.park.</text>
<text x="219.3" y="402" font-size="6.7" text-anchor="middle" font-weight="bold" font-style="normal" fill="#111"  stroke="#111" stroke-width="0.18">Szoba</text>
<text x="219.3" y="409.4" font-size="6.25" text-anchor="middle" font-weight="normal" font-style="normal" fill="#111"  stroke="#111" stroke-width="0.18">10,50 m²</text>
<text x="219.3" y="416.5" font-size="6.25" text-anchor="middle" font-weight="normal" font-style="normal" fill="#111"  stroke="#111" stroke-width="0.18">lam.park.</text>
<text x="621.5" y="225.8" font-size="6.7" text-anchor="middle" font-weight="bold" font-style="normal" fill="#111"  stroke="#111" stroke-width="0.18">WC</text>
<text x="621.5" y="233.2" font-size="6.25" text-anchor="middle" font-weight="normal" font-style="normal" fill="#111"  stroke="#111" stroke-width="0.18">1,13 m²</text>
<text x="621.5" y="240.3" font-size="6.25" text-anchor="middle" font-weight="normal" font-style="normal" fill="#111"  stroke="#111" stroke-width="0.18">kőporc.</text>
<text x="623.3" y="267.9" font-size="6.7" text-anchor="middle" font-weight="bold" font-style="normal" fill="#111"  stroke="#111" stroke-width="0.18">Kra.</text>
<text x="623.3" y="275.3" font-size="6.25" text-anchor="middle" font-weight="normal" font-style="normal" fill="#111"  stroke="#111" stroke-width="0.18">2,04 m²</text>
<text x="623.3" y="282.4" font-size="6.25" text-anchor="middle" font-weight="normal" font-style="normal" fill="#111"  stroke="#111" stroke-width="0.18">kőporc.</text>
<text x="679.8" y="228.3" font-size="6.7" text-anchor="middle" font-weight="bold" font-style="normal" fill="#111"  stroke="#111" stroke-width="0.18">Előtér</text>
<text x="679.8" y="235.7" font-size="6.25" text-anchor="middle" font-weight="normal" font-style="normal" fill="#111"  stroke="#111" stroke-width="0.18">3,55 m²</text>
<text x="679.8" y="242.8" font-size="6.25" text-anchor="middle" font-weight="normal" font-style="normal" fill="#111"  stroke="#111" stroke-width="0.18">kőporc.</text>
<text x="737" y="218.4" font-size="6.7" text-anchor="middle" font-weight="bold" font-style="normal" fill="#111"  stroke="#111" stroke-width="0.18">Fürdő</text>
<text x="737" y="225.8" font-size="6.25" text-anchor="middle" font-weight="normal" font-style="normal" fill="#111"  stroke="#111" stroke-width="0.18">5,90 m²</text>
<text x="737" y="232.9" font-size="6.25" text-anchor="middle" font-weight="normal" font-style="normal" fill="#111"  stroke="#111" stroke-width="0.18">kőporc.</text>
<text x="795.6" y="211.8" font-size="6.7" text-anchor="middle" font-weight="bold" font-style="normal" fill="#111"  stroke="#111" stroke-width="0.18">Közl.</text>
<text x="795.6" y="219.2" font-size="6.25" text-anchor="middle" font-weight="normal" font-style="normal" fill="#111"  stroke="#111" stroke-width="0.18">4,02 m²</text>
<text x="795.6" y="226.3" font-size="6.25" text-anchor="middle" font-weight="normal" font-style="normal" fill="#111"  stroke="#111" stroke-width="0.18">kőporc.</text>
<text x="790" y="127.5" font-size="6.7" text-anchor="middle" font-weight="bold" font-style="normal" fill="#111"  stroke="#111" stroke-width="0.18">Szoba</text>
<text x="790" y="134.9" font-size="6.25" text-anchor="middle" font-weight="normal" font-style="normal" fill="#111"  stroke="#111" stroke-width="0.18">11,47 m²</text>
<text x="790" y="142" font-size="6.25" text-anchor="middle" font-weight="normal" font-style="normal" fill="#111"  stroke="#111" stroke-width="0.18">lam.park.</text>
<text x="853.8" y="172.5" font-size="6.7" text-anchor="middle" font-weight="bold" font-style="normal" fill="#111"  stroke="#111" stroke-width="0.18">Szoba</text>
<text x="853.8" y="179.9" font-size="6.25" text-anchor="middle" font-weight="normal" font-style="normal" fill="#111"  stroke="#111" stroke-width="0.18">9,84 m²</text>
<text x="853.8" y="187" font-size="6.25" text-anchor="middle" font-weight="normal" font-style="normal" fill="#111"  stroke="#111" stroke-width="0.18">lam.park.</text>
<text x="846.8" y="267.5" font-size="6.7" text-anchor="middle" font-weight="bold" font-style="normal" fill="#111"  stroke="#111" stroke-width="0.18">Szoba</text>
<text x="846.8" y="274.9" font-size="6.25" text-anchor="middle" font-weight="normal" font-style="normal" fill="#111"  stroke="#111" stroke-width="0.18">11,41 m²</text>
<text x="846.8" y="282" font-size="6.25" text-anchor="middle" font-weight="normal" font-style="normal" fill="#111"  stroke="#111" stroke-width="0.18">lam.park.</text>
<text x="647.5" y="314.5" font-size="6.7" text-anchor="middle" font-weight="bold" font-style="normal" fill="#111"  stroke="#111" stroke-width="0.18">Konyha Étk.</text>
<text x="647.5" y="321.9" font-size="6.25" text-anchor="middle" font-weight="normal" font-style="normal" fill="#111"  stroke="#111" stroke-width="0.18">12,40 m²</text>
<text x="647.5" y="329" font-size="6.25" text-anchor="middle" font-weight="normal" font-style="normal" fill="#111"  stroke="#111" stroke-width="0.18">lam.park.</text>
<text x="732" y="295.5" font-size="6.7" text-anchor="middle" font-weight="bold" font-style="normal" fill="#111"  stroke="#111" stroke-width="0.18">Nappali</text>
<text x="732" y="302.9" font-size="6.25" text-anchor="middle" font-weight="normal" font-style="normal" fill="#111"  stroke="#111" stroke-width="0.18">17,60 m²</text>
<text x="732" y="310" font-size="6.25" text-anchor="middle" font-weight="normal" font-style="normal" fill="#111"  stroke="#111" stroke-width="0.18">lam.park.</text>
<text x="222" y="199.4" font-size="6.8" text-anchor="middle" font-weight="normal" font-style="normal" fill="#111"  stroke="#111" stroke-width="0.18">5,40</text>
<text x="139.5" y="199.4" font-size="6.8" text-anchor="middle" font-weight="normal" font-style="normal" fill="#111"  stroke="#111" stroke-width="0.18">30</text>
<text x="215.5" y="230.2" font-size="6.8" text-anchor="middle" font-weight="normal" font-style="normal" fill="#111"  stroke="#111" stroke-width="0.18">4,89</text>
<text x="136" y="221.4" font-size="6.8" text-anchor="middle" font-weight="normal" font-style="normal" fill="#111"  stroke="#111" stroke-width="0.18">2,50</text>
<text x="136" y="231.2" font-size="6.8" text-anchor="middle" font-weight="normal" font-style="normal" fill="#111"  stroke="#111" stroke-width="0.18">2,40</text>
<text x="268" y="194.6" font-size="6.8" text-anchor="middle" font-weight="normal" font-style="normal" fill="#111"  stroke="#111" stroke-width="0.18">pm 1,80</text>
<text x="285.5" y="199" font-size="6.8" text-anchor="middle" font-weight="normal" font-style="normal" fill="#111"  stroke="#111" stroke-width="0.18">30</text>
<text x="270" y="213.5" font-size="6.8" text-anchor="middle" font-weight="normal" font-style="normal" fill="#111" transform="rotate(-90 270 213.5)"  stroke="#111" stroke-width="0.18">2,00</text>
<text x="284.5" y="229.8" font-size="6.8" text-anchor="middle" font-weight="normal" font-style="normal" fill="#111"  stroke="#111" stroke-width="0.18">51</text>
<text x="305.3" y="229.8" font-size="6.8" text-anchor="middle" font-weight="normal" font-style="normal" fill="#111"  stroke="#111" stroke-width="0.18">30</text>
<text x="322" y="229.8" font-size="6.8" text-anchor="middle" font-weight="normal" font-style="normal" fill="#111"  stroke="#111" stroke-width="0.18">2,00</text>
<text x="343.6" y="229.8" font-size="6.8" text-anchor="middle" font-weight="normal" font-style="normal" fill="#111"  stroke="#111" stroke-width="0.18">30</text>
<text x="365.4" y="198.3" font-size="6.8" text-anchor="middle" font-weight="normal" font-style="normal" fill="#111"  stroke="#111" stroke-width="0.18">pm 1,80</text>
<text x="190.9" y="190.5" font-size="6.8" text-anchor="middle" font-weight="normal" font-style="normal" fill="#111" transform="rotate(-90 190.9 190.5)"  stroke="#111" stroke-width="0.18">30</text>
<text x="190.9" y="224" font-size="6.8" text-anchor="middle" font-weight="normal" font-style="normal" fill="#111" transform="rotate(-90 190.9 224)"  stroke="#111" stroke-width="0.18">3,00</text>
<text x="190.9" y="274" font-size="6.8" text-anchor="middle" font-weight="normal" font-style="normal" fill="#111" transform="rotate(-90 190.9 274)"  stroke="#111" stroke-width="0.18">30</text>
<text x="190.9" y="315" font-size="6.8" text-anchor="middle" font-weight="normal" font-style="normal" fill="#111" transform="rotate(-90 190.9 315)"  stroke="#111" stroke-width="0.18">3,30</text>
<text x="190.9" y="366" font-size="6.8" text-anchor="middle" font-weight="normal" font-style="normal" fill="#111" transform="rotate(-90 190.9 366)"  stroke="#111" stroke-width="0.18">30</text>
<text x="190.9" y="402" font-size="6.8" text-anchor="middle" font-weight="normal" font-style="normal" fill="#111" transform="rotate(-90 190.9 402)"  stroke="#111" stroke-width="0.18">3,00</text>
<text x="266.1" y="163.5" font-size="6.8" text-anchor="middle" font-weight="normal" font-style="normal" fill="#111" transform="rotate(-90 266.1 163.5)"  stroke="#111" stroke-width="0.18">60</text>
<text x="276.3" y="163.5" font-size="6.8" text-anchor="middle" font-weight="normal" font-style="normal" fill="#111" transform="rotate(-90 276.3 163.5)"  stroke="#111" stroke-width="0.18">60</text>
<text x="329.3" y="163.5" font-size="6.8" text-anchor="middle" font-weight="normal" font-style="normal" fill="#111" transform="rotate(-90 329.3 163.5)"  stroke="#111" stroke-width="0.18">60</text>
<text x="340" y="163.5" font-size="6.8" text-anchor="middle" font-weight="normal" font-style="normal" fill="#111" transform="rotate(-90 340 163.5)"  stroke="#111" stroke-width="0.18">60</text>
<text x="361.3" y="163.5" font-size="6.8" text-anchor="middle" font-weight="normal" font-style="normal" fill="#111" transform="rotate(-90 361.3 163.5)"  stroke="#111" stroke-width="0.18">60</text>
<text x="371.3" y="163.5" font-size="6.8" text-anchor="middle" font-weight="normal" font-style="normal" fill="#111" transform="rotate(-90 371.3 163.5)"  stroke="#111" stroke-width="0.18">60</text>
<text x="254.7" y="250" font-size="6.8" text-anchor="middle" font-weight="normal" font-style="normal" fill="#111" transform="rotate(-90 254.7 250)"  stroke="#111" stroke-width="0.18">90</text>
<text x="264.2" y="250" font-size="6.8" text-anchor="middle" font-weight="normal" font-style="normal" fill="#111" transform="rotate(-90 264.2 250)"  stroke="#111" stroke-width="0.18">2,10</text>
<text x="272.2" y="247" font-size="6.8" text-anchor="middle" font-weight="normal" font-style="normal" fill="#111" transform="rotate(-90 272.2 247)"  stroke="#111" stroke-width="0.18">1,00</text>
<text x="312.2" y="247.5" font-size="6.8" text-anchor="middle" font-weight="normal" font-style="normal" fill="#111" transform="rotate(-90 312.2 247.5)"  stroke="#111" stroke-width="0.18">75</text>
<text x="321.2" y="247.5" font-size="6.8" text-anchor="middle" font-weight="normal" font-style="normal" fill="#111" transform="rotate(-90 321.2 247.5)"  stroke="#111" stroke-width="0.18">2,10</text>
<text x="333.7" y="196.5" font-size="6.8" text-anchor="middle" font-weight="normal" font-style="normal" fill="#111" transform="rotate(-90 333.7 196.5)"  stroke="#111" stroke-width="0.18">45</text>
<text x="333.7" y="236" font-size="6.8" text-anchor="middle" font-weight="normal" font-style="normal" fill="#111" transform="rotate(-90 333.7 236)"  stroke="#111" stroke-width="0.18">2,65</text>
<text x="363.2" y="194" font-size="6.8" text-anchor="middle" font-weight="normal" font-style="normal" fill="#111" transform="rotate(-90 363.2 194)"  stroke="#111" stroke-width="0.18">45</text>
<text x="364.2" y="212.5" font-size="6.8" text-anchor="middle" font-weight="normal" font-style="normal" fill="#111" transform="rotate(-90 364.2 212.5)"  stroke="#111" stroke-width="0.18">1,47</text>
<text x="364.2" y="232" font-size="6.8" text-anchor="middle" font-weight="normal" font-style="normal" fill="#111" transform="rotate(-90 364.2 232)"  stroke="#111" stroke-width="0.18">10</text>
<text x="364.2" y="249.5" font-size="6.8" text-anchor="middle" font-weight="normal" font-style="normal" fill="#111" transform="rotate(-90 364.2 249.5)"  stroke="#111" stroke-width="0.18">1,48</text>
<text x="334.7" y="273.5" font-size="6.8" text-anchor="middle" font-weight="normal" font-style="normal" fill="#111" transform="rotate(-90 334.7 273.5)"  stroke="#111" stroke-width="0.18">30</text>
<text x="365.2" y="275" font-size="6.8" text-anchor="middle" font-weight="normal" font-style="normal" fill="#111" transform="rotate(-90 365.2 275)"  stroke="#111" stroke-width="0.18">75</text>
<text x="375.7" y="274.5" font-size="6.8" text-anchor="middle" font-weight="normal" font-style="normal" fill="#111" transform="rotate(-90 375.7 274.5)"  stroke="#111" stroke-width="0.18">2,10</text>
<text x="399.2" y="194.5" font-size="6.8" text-anchor="middle" font-weight="normal" font-style="normal" fill="#111" transform="rotate(-90 399.2 194.5)"  stroke="#111" stroke-width="0.18">45</text>
<text x="439.2" y="194.5" font-size="6.8" text-anchor="middle" font-weight="normal" font-style="normal" fill="#111" transform="rotate(-90 439.2 194.5)"  stroke="#111" stroke-width="0.18">45</text>
<text x="399" y="211.5" font-size="6.8" text-anchor="middle" font-weight="normal" font-style="normal" fill="#111"  stroke="#111" stroke-width="0.18">75</text>
<text x="396.5" y="221.8" font-size="6.8" text-anchor="middle" font-weight="normal" font-style="normal" fill="#111"  stroke="#111" stroke-width="0.18">2,10</text>
<text x="400.7" y="229" font-size="6.8" text-anchor="middle" font-weight="normal" font-style="normal" fill="#111" transform="rotate(-90 400.7 229)"  stroke="#111" stroke-width="0.18">3,00</text>
<text x="431" y="230" font-size="6.8" text-anchor="middle" font-weight="normal" font-style="normal" fill="#111"  stroke="#111" stroke-width="0.18">6,00</text>
<text x="504" y="230" font-size="6.8" text-anchor="middle" font-weight="normal" font-style="normal" fill="#111"  stroke="#111" stroke-width="0.18">40</text>
<text x="399.2" y="260" font-size="6.8" text-anchor="middle" font-weight="normal" font-style="normal" fill="#111" transform="rotate(-90 399.2 260)"  stroke="#111" stroke-width="0.18">10</text>
<text x="394.7" y="277" font-size="6.8" text-anchor="middle" font-weight="normal" font-style="normal" fill="#111" transform="rotate(-90 394.7 277)"  stroke="#111" stroke-width="0.18">90</text>
<text x="397" y="289.8" font-size="6.8" text-anchor="middle" font-weight="normal" font-style="normal" fill="#111"  stroke="#111" stroke-width="0.18">2,10</text>
<text x="438.5" y="274" font-size="6.8" text-anchor="middle" font-weight="normal" font-style="normal" fill="#111" transform="rotate(-90 438.5 274)"  stroke="#111" stroke-width="0.18">6,45</text>
<text x="397.7" y="305" font-size="6.8" text-anchor="middle" font-weight="normal" font-style="normal" fill="#111" transform="rotate(-90 397.7 305)"  stroke="#111" stroke-width="0.18">10</text>
<text x="398.2" y="326" font-size="6.8" text-anchor="middle" font-weight="normal" font-style="normal" fill="#111" transform="rotate(-90 398.2 326)"  stroke="#111" stroke-width="0.18">2,10</text>
<text x="343.5" y="329.8" font-size="6.8" text-anchor="middle" font-weight="normal" font-style="normal" fill="#111"  stroke="#111" stroke-width="0.18">30</text>
<text x="378" y="329.8" font-size="6.8" text-anchor="middle" font-weight="normal" font-style="normal" fill="#111"  stroke="#111" stroke-width="0.18">1,90</text>
<text x="398" y="329.8" font-size="6.8" text-anchor="middle" font-weight="normal" font-style="normal" fill="#111"  stroke="#111" stroke-width="0.18">10</text>
<text x="455" y="329.8" font-size="6.8" text-anchor="middle" font-weight="normal" font-style="normal" fill="#111"  stroke="#111" stroke-width="0.18">4,00</text>
<text x="146" y="329.8" font-size="6.8" text-anchor="middle" font-weight="normal" font-style="normal" fill="#111"  stroke="#111" stroke-width="0.18">45</text>
<text x="198" y="329.8" font-size="6.8" text-anchor="middle" font-weight="normal" font-style="normal" fill="#111"  stroke="#111" stroke-width="0.18">3,00</text>
<text x="229" y="322" font-size="6.8" text-anchor="middle" font-weight="normal" font-style="normal" fill="#111"  stroke="#111" stroke-width="0.18">90</text>
<text x="225" y="333.5" font-size="6.8" text-anchor="middle" font-weight="normal" font-style="normal" fill="#111"  stroke="#111" stroke-width="0.18">2,10</text>
<text x="234.5" y="327.5" font-size="6.8" text-anchor="middle" font-weight="normal" font-style="normal" fill="#111"  stroke="#111" stroke-width="0.18">10</text>
<text x="255" y="329.8" font-size="6.8" text-anchor="middle" font-weight="normal" font-style="normal" fill="#111"  stroke="#111" stroke-width="0.18">1,00</text>
<text x="282" y="329.8" font-size="6.8" text-anchor="middle" font-weight="normal" font-style="normal" fill="#111"  stroke="#111" stroke-width="0.18">30</text>
<text x="311.5" y="329.8" font-size="6.8" text-anchor="middle" font-weight="normal" font-style="normal" fill="#111"  stroke="#111" stroke-width="0.18">2,90</text>
<text x="129.3" y="316" font-size="6.8" text-anchor="middle" font-weight="normal" font-style="normal" fill="#111"  stroke="#111" stroke-width="0.18">1,50</text>
<text x="129.3" y="326" font-size="6.8" text-anchor="middle" font-weight="normal" font-style="normal" fill="#111"  stroke="#111" stroke-width="0.18">2,40</text>
<text x="286.7" y="308.5" font-size="6.8" text-anchor="middle" font-weight="normal" font-style="normal" fill="#111" transform="rotate(-90 286.7 308.5)"  stroke="#111" stroke-width="0.18">90</text>
<text x="297.7" y="308" font-size="6.8" text-anchor="middle" font-weight="normal" font-style="normal" fill="#111" transform="rotate(-90 297.7 308)"  stroke="#111" stroke-width="0.18">2,10</text>
<text x="161" y="381" font-size="6.8" text-anchor="middle" font-weight="normal" font-style="normal" fill="#111"  stroke="#111" stroke-width="0.18">45</text>
<text x="220" y="381" font-size="6.8" text-anchor="middle" font-weight="normal" font-style="normal" fill="#111"  stroke="#111" stroke-width="0.18">3,50</text>
<text x="261.5" y="381" font-size="6.8" text-anchor="middle" font-weight="normal" font-style="normal" fill="#111"  stroke="#111" stroke-width="0.18">30</text>
<text x="308" y="381" font-size="6.8" text-anchor="middle" font-weight="normal" font-style="normal" fill="#111"  stroke="#111" stroke-width="0.18">2,90</text>
<text x="343.5" y="381" font-size="6.8" text-anchor="middle" font-weight="normal" font-style="normal" fill="#111"  stroke="#111" stroke-width="0.18">45</text>
<text x="253.7" y="371" font-size="6.8" text-anchor="middle" font-weight="normal" font-style="normal" fill="#111" transform="rotate(-90 253.7 371)"  stroke="#111" stroke-width="0.18">90</text>
<text x="264.2" y="367" font-size="6.8" text-anchor="middle" font-weight="normal" font-style="normal" fill="#111" transform="rotate(-90 264.2 367)"  stroke="#111" stroke-width="0.18">2,10</text>
<text x="399" y="370" font-size="6.8" text-anchor="middle" font-weight="normal" font-style="normal" fill="#111" transform="rotate(-90 399 370)"  stroke="#111" stroke-width="0.18">45</text>
<text x="438.7" y="370" font-size="6.8" text-anchor="middle" font-weight="normal" font-style="normal" fill="#111" transform="rotate(-90 438.7 370)"  stroke="#111" stroke-width="0.18">45</text>
<text x="385.7" y="386" font-size="6.8" text-anchor="middle" font-weight="normal" font-style="normal" fill="#111" transform="rotate(-90 385.7 386)"  stroke="#111" stroke-width="0.18">1,50</text>
<text x="395.7" y="386" font-size="6.8" text-anchor="middle" font-weight="normal" font-style="normal" fill="#111" transform="rotate(-90 395.7 386)"  stroke="#111" stroke-width="0.18">2,40</text>
<text x="453.2" y="386.5" font-size="6.8" text-anchor="middle" font-weight="normal" font-style="normal" fill="#111" transform="rotate(-90 453.2 386.5)"  stroke="#111" stroke-width="0.18">3,00</text>
<text x="463.2" y="386.5" font-size="6.8" text-anchor="middle" font-weight="normal" font-style="normal" fill="#111" transform="rotate(-90 463.2 386.5)"  stroke="#111" stroke-width="0.18">2,40</text>
<text x="299.7" y="432" font-size="6.8" text-anchor="middle" font-weight="normal" font-style="normal" fill="#111" transform="rotate(-90 299.7 432)"  stroke="#111" stroke-width="0.18">1,50</text>
<text x="309.2" y="432" font-size="6.8" text-anchor="middle" font-weight="normal" font-style="normal" fill="#111" transform="rotate(-90 309.2 432)"  stroke="#111" stroke-width="0.18">2,40</text>
<text x="230.7" y="470" font-size="6.8" text-anchor="middle" font-weight="normal" font-style="normal" fill="#111" transform="rotate(-90 230.7 470)"  stroke="#111" stroke-width="0.18">1,50</text>
<text x="240.7" y="470" font-size="6.8" text-anchor="middle" font-weight="normal" font-style="normal" fill="#111" transform="rotate(-90 240.7 470)"  stroke="#111" stroke-width="0.18">2,40</text>
<text x="189.7" y="456" font-size="6.8" text-anchor="middle" font-weight="normal" font-style="normal" fill="#111" transform="rotate(-90 189.7 456)"  stroke="#111" stroke-width="0.18">45</text>
<text x="556.5" y="329.8" font-size="6.8" text-anchor="middle" font-weight="normal" font-style="normal" fill="#111"  stroke="#111" stroke-width="0.18">3,15</text>
<text x="594" y="329.8" font-size="6.8" text-anchor="middle" font-weight="normal" font-style="normal" fill="#111"  stroke="#111" stroke-width="0.18">40</text>
<text x="505" y="329.8" font-size="6.8" text-anchor="middle" font-weight="normal" font-style="normal" fill="#111"  stroke="#111" stroke-width="0.18">40</text>
<text x="581.2" y="370.5" font-size="6.8" text-anchor="middle" font-weight="normal" font-style="normal" fill="#111" transform="rotate(-90 581.2 370.5)"  stroke="#111" stroke-width="0.18">1,50</text>
<text x="590.7" y="370.5" font-size="6.8" text-anchor="middle" font-weight="normal" font-style="normal" fill="#111" transform="rotate(-90 590.7 370.5)"  stroke="#111" stroke-width="0.18">2,40</text>
<text x="549.7" y="408" font-size="6.8" text-anchor="middle" font-weight="normal" font-style="normal" fill="#111" transform="rotate(-90 549.7 408)"  stroke="#111" stroke-width="0.18">30</text>
<text x="605.5" y="243.5" font-size="6.8" text-anchor="middle" font-weight="normal" font-style="normal" fill="#111"  stroke="#111" stroke-width="0.18">90</text>
<text x="629" y="243.5" font-size="6.8" text-anchor="middle" font-weight="normal" font-style="normal" fill="#111"  stroke="#111" stroke-width="0.18">10</text>
<text x="650.5" y="236.5" font-size="6.8" text-anchor="middle" font-weight="normal" font-style="normal" fill="#111"  stroke="#111" stroke-width="0.18">75</text>
<text x="648" y="246" font-size="6.8" text-anchor="middle" font-weight="normal" font-style="normal" fill="#111"  stroke="#111" stroke-width="0.18">2,40</text>
<text x="666" y="243.5" font-size="6.8" text-anchor="middle" font-weight="normal" font-style="normal" fill="#111"  stroke="#111" stroke-width="0.18">2,40</text>
<text x="657.7" y="222" font-size="6.8" text-anchor="middle" font-weight="normal" font-style="normal" fill="#111" transform="rotate(-90 657.7 222)"  stroke="#111" stroke-width="0.18">45</text>
<text x="657.7" y="236" font-size="6.8" text-anchor="middle" font-weight="normal" font-style="normal" fill="#111" transform="rotate(-90 657.7 236)"  stroke="#111" stroke-width="0.18">48</text>
<text x="662.7" y="194.5" font-size="6.8" text-anchor="middle" font-weight="normal" font-style="normal" fill="#111" transform="rotate(-90 662.7 194.5)"  stroke="#111" stroke-width="0.18">1,50</text>
<text x="672.7" y="194.5" font-size="6.8" text-anchor="middle" font-weight="normal" font-style="normal" fill="#111" transform="rotate(-90 672.7 194.5)"  stroke="#111" stroke-width="0.18">2,40</text>
<text x="695" y="245.2" font-size="6.8" text-anchor="middle" font-weight="normal" font-style="normal" fill="#111"  stroke="#111" stroke-width="0.18">10</text>
<text x="731" y="245.2" font-size="6.8" text-anchor="middle" font-weight="normal" font-style="normal" fill="#111"  stroke="#111" stroke-width="0.18">2,75</text>
<text x="764.5" y="245.2" font-size="6.8" text-anchor="middle" font-weight="normal" font-style="normal" fill="#111"  stroke="#111" stroke-width="0.18">10</text>
<text x="785.5" y="245.2" font-size="6.8" text-anchor="middle" font-weight="normal" font-style="normal" fill="#111"  stroke="#111" stroke-width="0.18">1,00</text>
<text x="813.5" y="245.2" font-size="6.8" text-anchor="middle" font-weight="normal" font-style="normal" fill="#111"  stroke="#111" stroke-width="0.18">30</text>
<text x="854.5" y="245.2" font-size="6.8" text-anchor="middle" font-weight="normal" font-style="normal" fill="#111"  stroke="#111" stroke-width="0.18">3,80</text>
<text x="896" y="245.2" font-size="6.8" text-anchor="middle" font-weight="normal" font-style="normal" fill="#111"  stroke="#111" stroke-width="0.18">45</text>
<text x="718" y="174.5" font-size="6.8" text-anchor="middle" font-weight="normal" font-style="normal" fill="#111"  stroke="#111" stroke-width="0.18">90</text>
<text x="720" y="184.5" font-size="6.8" text-anchor="middle" font-weight="normal" font-style="normal" fill="#111"  stroke="#111" stroke-width="0.18">2,40</text>
<text x="711.2" y="178" font-size="6.8" text-anchor="middle" font-weight="normal" font-style="normal" fill="#111" transform="rotate(-90 711.2 178)"  stroke="#111" stroke-width="0.18">60</text>
<text x="718.2" y="178" font-size="6.8" text-anchor="middle" font-weight="normal" font-style="normal" fill="#111" transform="rotate(-90 718.2 178)"  stroke="#111" stroke-width="0.18">60</text>
<text x="753.2" y="181" font-size="6.8" text-anchor="middle" font-weight="normal" font-style="normal" fill="#111" transform="rotate(-90 753.2 181)"  stroke="#111" stroke-width="0.18">0,00</text>
<text x="754.2" y="194" font-size="6.8" text-anchor="middle" font-weight="normal" font-style="normal" fill="#111" transform="rotate(-90 754.2 194)"  stroke="#111" stroke-width="0.18">pm</text>
<text x="754.2" y="201.5" font-size="6.8" text-anchor="middle" font-weight="normal" font-style="normal" fill="#111" transform="rotate(-90 754.2 201.5)"  stroke="#111" stroke-width="0.18">10</text>
<text x="727" y="211" font-size="6.8" text-anchor="middle" font-weight="normal" font-style="normal" fill="#111"  stroke="#111" stroke-width="0.18">80</text>
<text x="758.5" y="216" font-size="6.8" text-anchor="middle" font-weight="normal" font-style="normal" fill="#111"  stroke="#111" stroke-width="0.18">75</text>
<text x="761" y="226" font-size="6.8" text-anchor="middle" font-weight="normal" font-style="normal" fill="#111"  stroke="#111" stroke-width="0.18">2,10</text>
<text x="752.7" y="228" font-size="6.8" text-anchor="middle" font-weight="normal" font-style="normal" fill="#111" transform="rotate(-90 752.7 228)"  stroke="#111" stroke-width="0.18">2,35</text>
<text x="724" y="158" font-size="6.8" text-anchor="middle" font-weight="normal" font-style="normal" fill="#111"  stroke="#111" stroke-width="0.18">45</text>
<text x="779.5" y="158" font-size="6.8" text-anchor="middle" font-weight="normal" font-style="normal" fill="#111"  stroke="#111" stroke-width="0.18">3,30</text>
<text x="819.5" y="158" font-size="6.8" text-anchor="middle" font-weight="normal" font-style="normal" fill="#111"  stroke="#111" stroke-width="0.18">10</text>
<text x="859.5" y="158" font-size="6.8" text-anchor="middle" font-weight="normal" font-style="normal" fill="#111"  stroke="#111" stroke-width="0.18">2,80</text>
<text x="893" y="158" font-size="6.8" text-anchor="middle" font-weight="normal" font-style="normal" fill="#111"  stroke="#111" stroke-width="0.18">45</text>
<text x="754.7" y="110" font-size="6.8" text-anchor="middle" font-weight="normal" font-style="normal" fill="#111" transform="rotate(-90 754.7 110)"  stroke="#111" stroke-width="0.18">45</text>
<text x="754.7" y="149" font-size="6.8" text-anchor="middle" font-weight="normal" font-style="normal" fill="#111" transform="rotate(-90 754.7 149)"  stroke="#111" stroke-width="0.18">3,47</text>
<text x="880.7" y="134" font-size="6.8" text-anchor="middle" font-weight="normal" font-style="normal" fill="#111" transform="rotate(-90 880.7 134)"  stroke="#111" stroke-width="0.18">45</text>
<text x="881.2" y="183" font-size="6.8" text-anchor="middle" font-weight="normal" font-style="normal" fill="#111" transform="rotate(-90 881.2 183)"  stroke="#111" stroke-width="0.18">3,60</text>
<text x="808.2" y="181" font-size="6.8" text-anchor="middle" font-weight="normal" font-style="normal" fill="#111" transform="rotate(-90 808.2 181)"  stroke="#111" stroke-width="0.18">90</text>
<text x="818.2" y="181" font-size="6.8" text-anchor="middle" font-weight="normal" font-style="normal" fill="#111" transform="rotate(-90 818.2 181)"  stroke="#111" stroke-width="0.18">2,10</text>
<text x="844.5" y="203" font-size="6.8" text-anchor="middle" font-weight="normal" font-style="normal" fill="#111"  stroke="#111" stroke-width="0.18">90</text>
<text x="844" y="213.5" font-size="6.8" text-anchor="middle" font-weight="normal" font-style="normal" fill="#111"  stroke="#111" stroke-width="0.18">2,10</text>
<text x="816.7" y="240" font-size="6.8" text-anchor="middle" font-weight="normal" font-style="normal" fill="#111" transform="rotate(-90 816.7 240)"  stroke="#111" stroke-width="0.18">90</text>
<text x="826.7" y="237" font-size="6.8" text-anchor="middle" font-weight="normal" font-style="normal" fill="#111" transform="rotate(-90 826.7 237)"  stroke="#111" stroke-width="0.18">2,10</text>
<text x="879.7" y="235.4" font-size="6.8" text-anchor="middle" font-weight="normal" font-style="normal" fill="#111" transform="rotate(-90 879.7 235.4)"  stroke="#111" stroke-width="0.18">30</text>
<text x="935.3" y="183.8" font-size="6.8" text-anchor="middle" font-weight="normal" font-style="normal" fill="#111"  stroke="#111" stroke-width="0.18">1,50</text>
<text x="935.3" y="193.9" font-size="6.8" text-anchor="middle" font-weight="normal" font-style="normal" fill="#111"  stroke="#111" stroke-width="0.18">2,40</text>
<text x="938.3" y="260" font-size="6.8" text-anchor="middle" font-weight="normal" font-style="normal" fill="#111"  stroke="#111" stroke-width="0.18">1,50</text>
<text x="938.3" y="270.5" font-size="6.8" text-anchor="middle" font-weight="normal" font-style="normal" fill="#111"  stroke="#111" stroke-width="0.18">2,40</text>
<text x="702" y="329.8" font-size="6.8" text-anchor="middle" font-weight="normal" font-style="normal" fill="#111"  stroke="#111" stroke-width="0.18">7,35</text>
<text x="754.7" y="321" font-size="6.8" text-anchor="middle" font-weight="normal" font-style="normal" fill="#111" transform="rotate(-90 754.7 321)"  stroke="#111" stroke-width="0.18">4,40</text>
<text x="642.5" y="268.5" font-size="6.8" text-anchor="middle" font-weight="normal" font-style="normal" fill="#111"  stroke="#111" stroke-width="0.18">75</text>
<text x="645.5" y="279" font-size="6.8" text-anchor="middle" font-weight="normal" font-style="normal" fill="#111"  stroke="#111" stroke-width="0.18">2,10</text>
<text x="656.7" y="266" font-size="6.8" text-anchor="middle" font-weight="normal" font-style="normal" fill="#111" transform="rotate(-90 656.7 266)"  stroke="#111" stroke-width="0.18">30</text>
<text x="667.7" y="272" font-size="6.8" text-anchor="middle" font-weight="normal" font-style="normal" fill="#111" transform="rotate(-90 667.7 272)"  stroke="#111" stroke-width="0.18">90</text>
<text x="678.2" y="268" font-size="6.8" text-anchor="middle" font-weight="normal" font-style="normal" fill="#111" transform="rotate(-90 678.2 268)"  stroke="#111" stroke-width="0.18">2,10</text>
<text x="754.7" y="265" font-size="6.8" text-anchor="middle" font-weight="normal" font-style="normal" fill="#111" transform="rotate(-90 754.7 265)"  stroke="#111" stroke-width="0.18">30</text>
<text x="791.5" y="329.8" font-size="6.8" text-anchor="middle" font-weight="normal" font-style="normal" fill="#111"  stroke="#111" stroke-width="0.18">30</text>
<text x="834" y="333" font-size="6.8" text-anchor="middle" font-weight="normal" font-style="normal" fill="#111"  stroke="#111" stroke-width="0.18">1,50</text>
<text x="834" y="342.5" font-size="6.8" text-anchor="middle" font-weight="normal" font-style="normal" fill="#111"  stroke="#111" stroke-width="0.18">2,40</text>
<text x="879.7" y="323" font-size="6.8" text-anchor="middle" font-weight="normal" font-style="normal" fill="#111" transform="rotate(-90 879.7 323)"  stroke="#111" stroke-width="0.18">45</text>
<text x="879.7" y="270" font-size="6.8" text-anchor="middle" font-weight="normal" font-style="normal" fill="#111" transform="rotate(-90 879.7 270)"  stroke="#111" stroke-width="0.18">3,00</text>
<text x="755.7" y="390" font-size="6.8" text-anchor="middle" font-weight="normal" font-style="normal" fill="#111" transform="rotate(-90 755.7 390)"  stroke="#111" stroke-width="0.18">45</text>
<text x="643.2" y="407.5" font-size="6.8" text-anchor="middle" font-weight="normal" font-style="normal" fill="#111" transform="rotate(-90 643.2 407.5)"  stroke="#111" stroke-width="0.18">1,50</text>
<text x="653.2" y="407.5" font-size="6.8" text-anchor="middle" font-weight="normal" font-style="normal" fill="#111" transform="rotate(-90 653.2 407.5)"  stroke="#111" stroke-width="0.18">2,40</text>
<text x="727.7" y="406" font-size="6.8" text-anchor="middle" font-weight="normal" font-style="normal" fill="#111" transform="rotate(-90 727.7 406)"  stroke="#111" stroke-width="0.18">2,70</text>
<text x="737.7" y="406" font-size="6.8" text-anchor="middle" font-weight="normal" font-style="normal" fill="#111" transform="rotate(-90 737.7 406)"  stroke="#111" stroke-width="0.18">2,40</text>
<text x="560.4" y="267.6" font-size="15.5" text-anchor="middle" font-weight="normal" font-style="normal" fill="#111" >P1</text>
<text x="560" y="281.3" font-size="6.6" text-anchor="middle" font-weight="bold" font-style="italic" fill="#111"  stroke="#111" stroke-width="0.18">Fedetlen</text>
<text x="560" y="289.6" font-size="6.6" text-anchor="middle" font-weight="bold" font-style="italic" fill="#111"  stroke="#111" stroke-width="0.18">gépkocsi beálló</text>
<text x="377" y="426.3" font-size="16" text-anchor="start" font-weight="bold" font-style="italic" fill="#111" textLength="16" lengthAdjust="spacingAndGlyphs">L1</text>
<text x="628.6" y="168.8" font-size="16.4" text-anchor="start" font-weight="bold" font-style="italic" fill="#111" textLength="16.2" lengthAdjust="spacingAndGlyphs">L2</text>
<text x="496.3" y="142.9" font-size="7" text-anchor="start" font-weight="normal" font-style="normal" fill="#333"  stroke="#333" stroke-width="0.18">R 6,00</text>
<text x="464.5" y="170.4" font-size="7" text-anchor="start" font-weight="normal" font-style="normal" fill="#333"  stroke="#333" stroke-width="0.18">R 4,00</text>
</g>
<g id="frame">
<line x1="24.5" y1="0" x2="24.5" y2="733.9" stroke="#3a3a3a" stroke-width="1.4" />
<line x1="23.8" y1="733.3" x2="1024" y2="733.3" stroke="#3a3a3a" stroke-width="1.4" />
<path d="M47.5 537.5 L47.5 549 L77.5 549" fill="none" stroke="#aaa" stroke-width="0.8" />
</g>
<g id="legend">
<path d="M893.5 559.3 A43 43 0 1 0 883.68 586.65 L877.35 581.44 A34.8 34.8 0 1 1 885.3 559.3 Z" fill="#0a0a0a" stroke="none" stroke-width="0.8" />
<line x1="850.5" y1="481.5" x2="850.5" y2="559.3" stroke="#111" stroke-width="1" />
<line x1="850" y1="559.3" x2="885.8" y2="559.3" stroke="#111" stroke-width="1" />
<text x="798" y="616.3" font-size="6.9" text-anchor="start" font-weight="normal" font-style="normal" fill="#111" textLength="163.5" lengthAdjust="spacingAndGlyphs" stroke="#111" stroke-width="0.18">FÖLDSZINTI ALAPRAJZ m=1:100</text>
<text x="807.3" y="632.4" font-size="6.9" text-anchor="start" font-weight="normal" font-style="normal" fill="#111" textLength="84.5" lengthAdjust="spacingAndGlyphs" stroke="#111" stroke-width="0.18">ANYAGJELÖLÉS:</text>
<rect x="806" y="646.3" width="26.4" height="7.5" fill="url(#lh)" stroke="#333" stroke-width="0.7" />
<rect x="806" y="653.8" width="26.4" height="5.4" fill="url(#lx)" stroke="#999" stroke-width="0.5" />
<text x="843.8" y="650.1" font-size="8.6" text-anchor="start" font-weight="normal" font-style="normal" fill="#111" textLength="146.3" lengthAdjust="spacingAndGlyphs" stroke="#111" stroke-width="0.18">30 cm POROTHERM NF tégla falazat</text>
<text x="843.8" y="660.8" font-size="8.6" text-anchor="start" font-weight="normal" font-style="normal" fill="#111" textLength="160.4" lengthAdjust="spacingAndGlyphs" stroke="#111" stroke-width="0.18">+20 cm austrotherm hőszigetelő rendszer</text>
<rect x="806" y="672" width="26.4" height="7.5" fill="#8e8e8e" stroke="#333" stroke-width="0.7" />
<rect x="813.5" y="674.2" width="1" height="1" fill="#f0f0f0" stroke="none" stroke-width="0.8" />
<rect x="815.5" y="676.8" width="1" height="1" fill="#f0f0f0" stroke="none" stroke-width="0.8" />
<rect x="817.3" y="674.6" width="1" height="1" fill="#f0f0f0" stroke="none" stroke-width="0.8" />
<rect x="824.5" y="674.2" width="1" height="1" fill="#f0f0f0" stroke="none" stroke-width="0.8" />
<rect x="826.5" y="676.9" width="1" height="1" fill="#f0f0f0" stroke="none" stroke-width="0.8" />
<rect x="828" y="674.8" width="1" height="1" fill="#f0f0f0" stroke="none" stroke-width="0.8" />
<rect x="822" y="677" width="1" height="1" fill="#f0f0f0" stroke="none" stroke-width="0.8" />
<text x="843.8" y="677.6" font-size="8.6" text-anchor="start" font-weight="normal" font-style="normal" fill="#111" textLength="125.4" lengthAdjust="spacingAndGlyphs" stroke="#111" stroke-width="0.18">VB szerkezet statikai terv szerint</text>
<rect x="806" y="691.8" width="26.4" height="3.2" fill="#f4f4f4" stroke="#333" stroke-width="0.7" />
<line x1="806" y1="693.4" x2="832.4" y2="693.4" stroke="#888" stroke-width="0.5" stroke-dasharray="2 1"/>
<text x="843.8" y="695.6" font-size="8.6" text-anchor="start" font-weight="normal" font-style="normal" fill="#111" textLength="119.2" lengthAdjust="spacingAndGlyphs" stroke="#111" stroke-width="0.18">10 cm POROTHERM válaszfal</text>
</g>
<g id="wm">
<rect x="9.5" y="716.3" width="203" height="29.2" rx="3.2" fill="#fff" fill-opacity="0.28" stroke="#c3c8cb" stroke-width="1"/>
<path d="M205.2 717h4.6a2.6 2.6 0 0 1 2.6 2.6v22.6a2.6 2.6 0 0 1-2.6 2.6h-4.6z" fill="#c6c9cb" fill-opacity="0.85"/>
<text x="43.2" y="738.5" font-size="20.3" text-anchor="start" font-weight="bold" font-style="normal" fill="#f4bcc0" textLength="155.2" lengthAdjust="spacingAndGlyphs" stroke="#f4bcc0" stroke-width="0.65" stroke-linejoin="round" fill-opacity="0.88" stroke-opacity="0.88">INGATLANOK.HU</text>
<g fill-opacity="0.88"><rect x="11.8" y="718.5" width="24.2" height="24.7" fill="#f4bcc0"/><path d="M11.8 728.2L22.3 718.3L25.6 718.3L36.1 728.2L36.1 730.4L11.8 730.4Z" fill="#fff"/><path d="M18.8 743.3V735.6a5.3 5.3 0 0 1 10.6 0V743.3Z" fill="#fff"/><path d="M20.8 743.3V736.3a3.3 3.3 0 0 1 6.6 0V743.3Z" fill="#c9cdd1"/><circle cx="23.9" cy="724.7" r="1.5" fill="#d5d8db" stroke="#b4b9be" stroke-width="0.6"/></g>
<line x1="24.5" y1="716.8" x2="24.5" y2="733.9" stroke="#3a3a3a" stroke-width="1.4" stroke-opacity="0.8"/>
<line x1="23.8" y1="733.3" x2="212.3" y2="733.3" stroke="#3a3a3a" stroke-width="1.4" stroke-opacity="0.8"/>
</g>
</svg></body></html>
